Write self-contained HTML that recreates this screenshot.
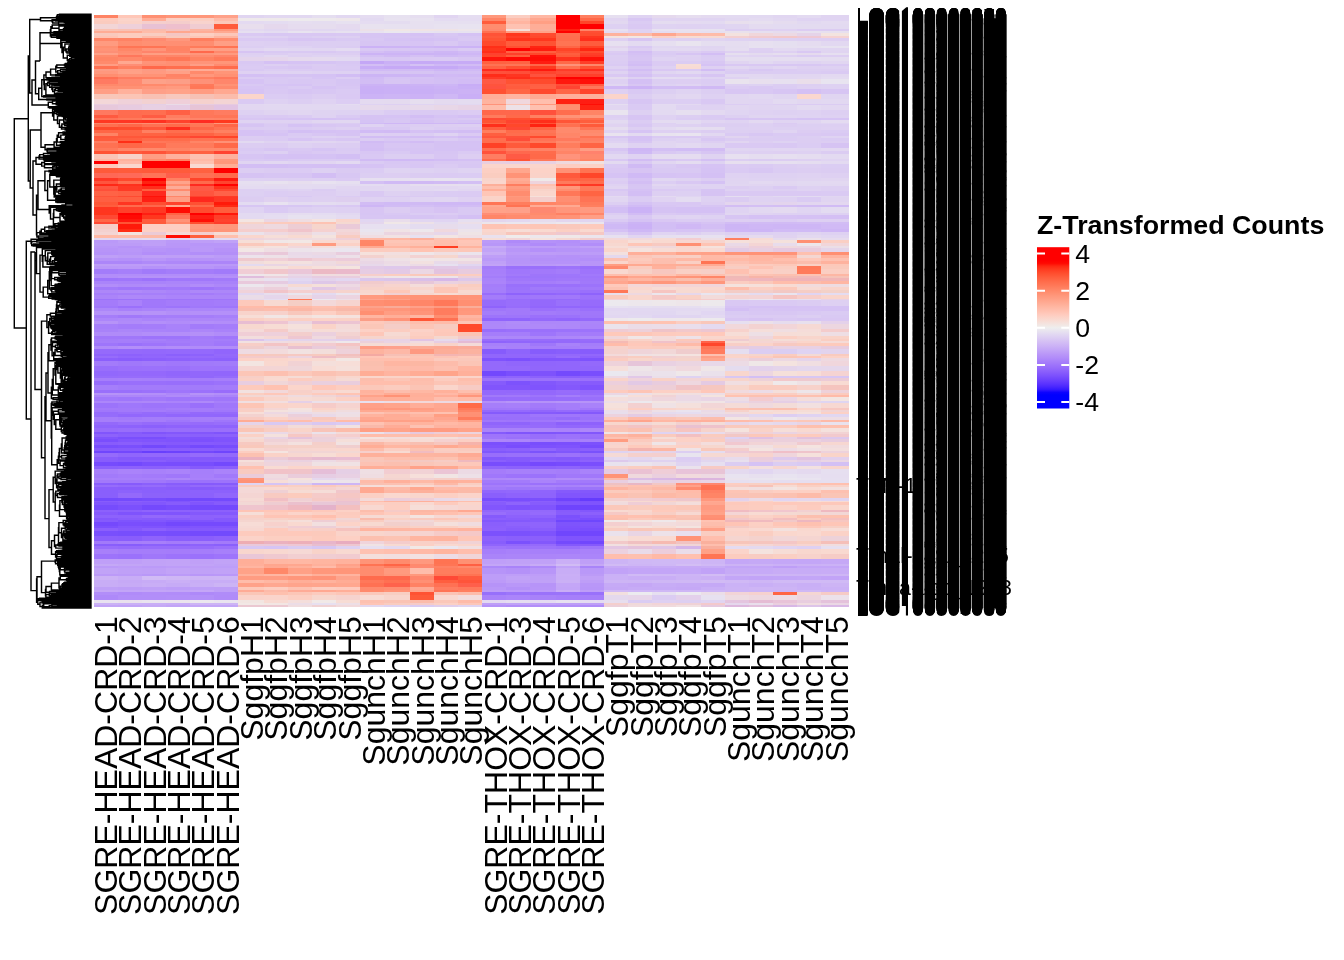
<!DOCTYPE html>
<html><head><meta charset="utf-8"><title>Heatmap</title>
<style>
html,body{margin:0;padding:0;background:#fff}
body{width:1344px;height:960px;position:relative;overflow:hidden;font-family:"Liberation Sans",sans-serif;color:#000}
#hm{position:absolute;left:94.15px;top:14.50px;width:754.85px;height:592.70px}
#hm i{position:absolute;top:0;height:100%;display:block}
svg{position:absolute;left:0;top:0}
.t{filter:grayscale(1)}
text{font-family:"Liberation Sans",sans-serif}
</style></head><body>
<div id="hm"><i style="left:0.00px;width:24.30px;background:linear-gradient(#ff8364 0 3.1px,#fdccbf 0 5.6px,#facbbf 0 9.0px,#f2d5d6 0 14.2px,#fac2b3 0 16.0px,#ffac95 0 18.2px,#f9c9bd 0 21.0px,#ffc3b3 0 23.2px,#ff8668 0 26.3px,#ff9b80 0 30.9px,#ff8f71 0 32.7px,#ff9377 0 35.5px,#fd8f76 0 38.2px,#ffa087 0 40.0px,#ff8a6c 0 42.2px,#ff8566 0 45.6px,#ff8a6c 0 49.0px,#ff9d84 0 51.2px,#ff7253 0 53.9px,#fd9d86 0 56.1px,#ff987e 0 58.9px,#ff8e70 0 62.3px,#ff6f53 0 64.1px,#ff7a62 0 68.7px,#ff896b 0 70.9px,#ff9174 0 73.6px,#ff9f86 0 78.8px,#f8c7b9 0 84.0px,#f3d7d8 0 88.6px,#e9cedf 0 90.4px,#e7c8db 0 95.0px,#ff7960 0 99.6px,#ff5a40 0 103.0px,#ff7459 0 104.8px,#ff3822 0 107.5px,#ff8367 0 109.3px,#ff6f4f 0 112.1px,#ff492b 0 114.6px,#ff6646 0 117.5px,#ff8364 0 120.9px,#ff593c 0 123.4px,#ff5c3d 0 126.2px,#ff7e63 0 128.4px,#ff7152 0 133.0px,#ff7a5c 0 135.9px,#ff5234 0 138.7px,#fac4b6 0 143.9px,#ffb9a6 0 146.4px,#f00 0 148.6px,#ffcabc 0 153.2px,#ff5a3a 0 157.8px,#ff6856 0 163.0px,#ff3624 0 165.7px,#ff543e 0 168.8px,#ff2817 0 171.0px,#ff5540 0 173.8px,#ff4f39 0 176.0px,#ff6346 0 180.6px,#ff5439 0 182.4px,#ff5f42 0 187.0px,#ff5737 0 189.7px,#ff5d3d 0 192.3px,#ff351f 0 197.5px,#ff361c 0 200.3px,#ff4833 0 203.7px,#ff6747 0 206.8px,#ff4833 0 209.4px,#f6cdc7 0 214.0px,#f4d1cf 0 216.6px,#f4d5d4 0 219.7px,#ffbaa7 0 222.6px,#e1d6f1 0 225.3px,#ba99f8 0 227.8px,#bb9bf7 0 230.5px,#b997f8 0 232.7px,#b794f8 0 237.3px,#b592f9 0 240.2px,#be9ff7 0 243.0px,#b693f8 0 245.6px,#ac86f9 0 248.7px,#be9df7 0 251.3px,#b997f8 0 254.2px,#a37cfa 0 258.8px,#b28df9 0 261.0px,#b28df9 0 263.2px,#9d74fb 0 266.0px,#aa84fa 0 269.4px,#b28df9 0 271.9px,#a27afa 0 275.0px,#ad87f9 0 277.5px,#a67efa 0 280.1px,#ab84f9 0 283.5px,#9c73fb 0 285.3px,#a47bfa 0 290.5px,#a077fb 0 292.7px,#ac87f9 0 295.5px,#b592f9 0 300.1px,#a57dfa 0 303.2px,#ac86fa 0 306.3px,#b693f8 0 309.4px,#a67ffa 0 314.0px,#a882f9 0 316.6px,#b08bf9 0 321.2px,#a177fa 0 323.8px,#a47cfa 0 326.0px,#a57dfa 0 328.2px,#9e75fb 0 331.1px,#af8af9 0 333.7px,#956afb 0 338.9px,#8f63fc 0 341.1px,#966cfb 0 342.9px,#8b5ffc 0 345.8px,#a37bfa 0 351.0px,#986efb 0 355.6px,#9268fc 0 360.8px,#966cfb 0 363.4px,#a57efa 0 366.3px,#966cfb 0 369.7px,#a57efa 0 374.9px,#996ffb 0 378.0px,#b693f8 0 379.8px,#ab84fa 0 382.4px,#a178fb 0 385.5px,#ac86fa 0 388.0px,#9c73fb 0 392.6px,#a37afa 0 394.8px,#a077fb 0 397.4px,#956bfb 0 399.2px,#956cfb 0 401.9px,#a57dfa 0 404.8px,#a67efa 0 407.3px,#9469fb 0 410.0px,#8f64fc 0 413.4px,#976cfb 0 416.8px,#8155fc 0 419.4px,#8d62fb 0 421.6px,#8054fd 0 424.1px,#7a4efd 0 426.7px,#885cfc 0 430.1px,#784dfd 0 432.9px,#865afc 0 435.8px,#7046fd 0 438.3px,#956bfb 0 441.7px,#895dfc 0 444.5px,#885dfc 0 447.4px,#764bfd 0 450.8px,#8b60fc 0 453.9px,#a77ffa 0 459.1px,#a27afa 0 462.5px,#a880fa 0 465.2px,#a279fa 0 467.7px,#895efc 0 469.9px,#966cfb 0 472.4px,#8a5efc 0 474.9px,#895ffc 0 477.6px,#895ffc 0 482.8px,#734afd 0 485.5px,#875cfc 0 487.3px,#8055fd 0 489.9px,#764cfd 0 494.5px,#8c61fc 0 497.0px,#8659fc 0 499.9px,#8d62fc 0 502.8px,#8457fc 0 504.6px,#855bfc 0 507.1px,#7549fd 0 510.5px,#7b4ffd 0 513.3px,#8b5ffc 0 516.4px,#794ffd 0 521.0px,#8a5efc 0 525.6px,#a27afa 0 528.7px,#895efc 0 531.2px,#986dfb 0 534.0px,#a880fa 0 538.6px,#9d73fb 0 543.8px,#bf9ff8 0 549.0px,#c4a8f6 0 550.8px,#bb9af8 0 553.4px,#c1a3f7 0 558.6px,#bc9af8 0 561.4px,#ccb2f5 0 564.8px,#c8adf6 0 568.2px,#c8adf6 0 571.6px,#bfa0f7 0 575.0px,#c4a7f6 0 577.2px,#b28ef9 0 579.8px,#ae89f9 0 585.0px,#e8e2f0 0 588.4px,#cbb2f5 0 590.2px,#c3a5f7 0 592.7px)"></i><i style="left:24.00px;width:24.30px;background:linear-gradient(#ffc7b8 0 3.1px,#fbd4ca 0 5.6px,#fad2c8 0 9.0px,#eed0da 0 14.2px,#f8c1b4 0 16.0px,#ffab94 0 18.2px,#fcccbf 0 21.0px,#fcccbf 0 23.2px,#ff8264 0 26.3px,#ff8d6f 0 30.9px,#ff7555 0 32.7px,#ff8768 0 35.5px,#ff8d70 0 38.2px,#ff9174 0 40.0px,#ff775c 0 42.2px,#ff896b 0 45.6px,#ffa890 0 49.0px,#ff8e75 0 51.2px,#ff8061 0 53.9px,#ffa087 0 56.1px,#ffa187 0 58.9px,#ff9377 0 62.3px,#ff7c60 0 64.1px,#ff8a70 0 68.7px,#ff8a6d 0 70.9px,#ff9174 0 73.6px,#ffb19c 0 78.8px,#fbc5b6 0 84.0px,#efd1d9 0 88.6px,#ebccdb 0 90.4px,#e7cbe0 0 95.0px,#ff6c50 0 99.6px,#ff6b4e 0 103.0px,#ff7a5c 0 104.8px,#ff3624 0 107.5px,#ff8a6e 0 109.3px,#ff6849 0 112.1px,#ff4c2e 0 114.6px,#ff6646 0 117.5px,#ff6444 0 120.9px,#ff5739 0 123.4px,#ff6142 0 126.2px,#ff2f17 0 128.4px,#ff6848 0 133.0px,#ff8669 0 135.9px,#ff593c 0 138.7px,#f7d2c9 0 143.9px,#ffb29d 0 146.4px,#ffb9a7 0 148.6px,#fad7ce 0 153.2px,#ff5b3b 0 157.8px,#ff6a59 0 163.0px,#ff482d 0 165.7px,#ff6e4f 0 168.8px,#ff311d 0 171.0px,#ff3924 0 173.8px,#ff3a25 0 176.0px,#ff6043 0 180.6px,#ff4a31 0 182.4px,#ff6042 0 187.0px,#ff3521 0 189.7px,#ff6b4d 0 192.3px,#ff412b 0 197.5px,#f00 0 200.3px,#ff0a04 0 203.7px,#ff170d 0 206.8px,#ff5435 0 209.4px,#ff1a0a 0 214.0px,#ff2c15 0 216.6px,#f3e2de 0 219.7px,#ffbaa8 0 222.6px,#e2d7f1 0 225.3px,#be9ff7 0 227.8px,#bc9cf7 0 230.5px,#b693f8 0 232.7px,#b997f8 0 237.3px,#b795f8 0 240.2px,#bc9cf7 0 243.0px,#b491f9 0 245.6px,#ac86f9 0 248.7px,#bd9cf8 0 251.3px,#ba98f8 0 254.2px,#a67ffa 0 258.8px,#b18df9 0 261.0px,#b490f9 0 263.2px,#9f76fb 0 266.0px,#aa83fa 0 269.4px,#af8af9 0 271.9px,#9f76fb 0 275.0px,#af8af9 0 277.5px,#a67efa 0 280.1px,#ae88f9 0 283.5px,#9c72fb 0 285.3px,#a981fa 0 290.5px,#9b70fb 0 292.7px,#a880fa 0 295.5px,#b592f8 0 300.1px,#a178fa 0 303.2px,#ae89f9 0 306.3px,#b08bf9 0 309.4px,#a47cfa 0 314.0px,#ab86f9 0 316.6px,#b08bf9 0 321.2px,#a077fa 0 323.8px,#a67efa 0 326.0px,#a57dfa 0 328.2px,#9a71fb 0 331.1px,#b38ef9 0 333.7px,#9469fb 0 338.9px,#8d61fc 0 341.1px,#9166fc 0 342.9px,#895dfc 0 345.8px,#a078fa 0 351.0px,#9b70fb 0 355.6px,#9469fb 0 360.8px,#976cfb 0 363.4px,#a67ffa 0 366.3px,#996ffb 0 369.7px,#a27bfa 0 374.9px,#996ffb 0 378.0px,#b591f8 0 379.8px,#ad86f9 0 382.4px,#9f76fb 0 385.5px,#ac86f9 0 388.0px,#9f77fb 0 392.6px,#a279fa 0 394.8px,#a279fa 0 397.4px,#996ffb 0 399.2px,#9267fc 0 401.9px,#a27afa 0 404.8px,#a67dfa 0 407.3px,#986efb 0 410.0px,#8d62fc 0 413.4px,#986efb 0 416.8px,#855afc 0 419.4px,#895efc 0 421.6px,#7a4ffd 0 424.1px,#8155fd 0 426.7px,#8a5efc 0 430.1px,#7a4ffd 0 432.9px,#865afc 0 435.8px,#7348fd 0 438.3px,#9066fc 0 441.7px,#8459fc 0 444.5px,#875cfc 0 447.4px,#7349fd 0 450.8px,#8d61fc 0 453.9px,#aa83fa 0 459.1px,#a57cfa 0 462.5px,#a780fa 0 465.2px,#a279fa 0 467.7px,#875bfc 0 469.9px,#9369fb 0 472.4px,#895dfc 0 474.9px,#8c62fc 0 477.6px,#9469fb 0 482.8px,#744bfd 0 485.5px,#8a5efc 0 487.3px,#8458fc 0 489.9px,#7b50fd 0 494.5px,#8b60fc 0 497.0px,#7f53fd 0 499.9px,#8d61fc 0 502.8px,#895dfc 0 504.6px,#7e54fd 0 507.1px,#7a4efd 0 510.5px,#8155fd 0 513.3px,#8559fc 0 516.4px,#774efd 0 521.0px,#895dfc 0 525.6px,#a67efa 0 528.7px,#875dfc 0 531.2px,#966bfb 0 534.0px,#a57dfa 0 538.6px,#9b71fb 0 543.8px,#bf9ff7 0 549.0px,#c2a5f6 0 550.8px,#bd9cf8 0 553.4px,#bfa0f7 0 558.6px,#bc9bf8 0 561.4px,#c8adf6 0 564.8px,#c6a9f6 0 568.2px,#c7abf6 0 571.6px,#be9ef7 0 575.0px,#c2a5f7 0 577.2px,#b08bf9 0 579.8px,#b28ef9 0 585.0px,#e9e1ed 0 588.4px,#cab0f6 0 590.2px,#c2a4f7 0 592.7px)"></i><i style="left:48.00px;width:24.30px;background:linear-gradient(#ff9073 0 3.1px,#ffad97 0 5.6px,#f5cecc 0 9.0px,#e8c1d4 0 14.2px,#fabcac 0 16.0px,#ffbca9 0 18.2px,#f9cdc1 0 21.0px,#fdbcaa 0 23.2px,#ff8b71 0 26.3px,#ff9073 0 30.9px,#ff7454 0 32.7px,#ff9479 0 35.5px,#ff846b 0 38.2px,#ff9e83 0 40.0px,#ff8366 0 42.2px,#ff7e5e 0 45.6px,#ff9378 0 49.0px,#ff8f73 0 51.2px,#ff684a 0 53.9px,#fc9b84 0 56.1px,#ff9a81 0 58.9px,#ff9376 0 62.3px,#ff8062 0 64.1px,#fda189 0 68.7px,#ff8a6c 0 70.9px,#ff967b 0 73.6px,#fe9f88 0 78.8px,#f8c1b4 0 84.0px,#f2d1d1 0 88.6px,#e5cfe5 0 90.4px,#e8d0e3 0 95.0px,#ff6e50 0 99.6px,#ff5c43 0 103.0px,#ff8568 0 104.8px,#ff3120 0 107.5px,#ff8d72 0 109.3px,#ff7152 0 112.1px,#ff563a 0 114.6px,#ff8062 0 117.5px,#ff6342 0 120.9px,#ff5437 0 123.4px,#ff6a4a 0 126.2px,#ff7759 0 128.4px,#ff6a4c 0 133.0px,#ff8a6c 0 135.9px,#ff5338 0 138.7px,#ff9d83 0 143.9px,#ff8c6e 0 146.4px,#f00 0 148.6px,#f00 0 153.2px,#ff593a 0 157.8px,#ff7358 0 163.0px,#f00 0 165.7px,#f21 0 168.8px,#f00 0 171.0px,#ff2e1c 0 173.8px,#ff5f40 0 176.0px,#ff291e 0 180.6px,#ff1209 0 182.4px,#ff1f14 0 187.0px,#ff4e31 0 189.7px,#ff664b 0 192.3px,#ff3823 0 197.5px,#ff1e13 0 200.3px,#ff371e 0 203.7px,#ff5c3e 0 206.8px,#ff5b3b 0 209.4px,#fdd0c4 0 214.0px,#fcd1c6 0 216.6px,#eccbd6 0 219.7px,#fdbaa8 0 222.6px,#e3daf1 0 225.3px,#be9ff7 0 227.8px,#bf9ff7 0 230.5px,#b997f8 0 232.7px,#b693f8 0 237.3px,#b38ef9 0 240.2px,#bf9ff7 0 243.0px,#b896f8 0 245.6px,#af8af9 0 248.7px,#be9df8 0 251.3px,#b592f9 0 254.2px,#a17afa 0 258.8px,#b28df9 0 261.0px,#b592f8 0 263.2px,#9c72fb 0 266.0px,#a983fa 0 269.4px,#b08bf9 0 271.9px,#a177fa 0 275.0px,#ac87f9 0 277.5px,#a67ffa 0 280.1px,#ad87f9 0 283.5px,#9e74fb 0 285.3px,#a178fa 0 290.5px,#a077fb 0 292.7px,#aa83fa 0 295.5px,#b693f8 0 300.1px,#a47cfa 0 303.2px,#ab84fa 0 306.3px,#b38ff9 0 309.4px,#a57dfa 0 314.0px,#a983fa 0 316.6px,#b28ef9 0 321.2px,#9d73fb 0 323.8px,#a67ffa 0 326.0px,#a37bfa 0 328.2px,#9e74fb 0 331.1px,#b08bf9 0 333.7px,#9368fc 0 338.9px,#9064fc 0 341.1px,#9166fc 0 342.9px,#8b5ffc 0 345.8px,#a27afa 0 351.0px,#9b71fb 0 355.6px,#9468fc 0 360.8px,#976cfb 0 363.4px,#a57efa 0 366.3px,#996ffb 0 369.7px,#a37bfa 0 374.9px,#9b71fb 0 378.0px,#b38ff9 0 379.8px,#ac85fa 0 382.4px,#a279fa 0 385.5px,#ad87f9 0 388.0px,#9d74fb 0 392.6px,#a178fb 0 394.8px,#a47bfa 0 397.4px,#956bfb 0 399.2px,#9369fc 0 401.9px,#a47dfa 0 404.8px,#a57cfa 0 407.3px,#956afb 0 410.0px,#8b60fc 0 413.4px,#976cfb 0 416.8px,#8054fc 0 419.4px,#8a5ffc 0 421.6px,#794efd 0 424.1px,#8054fd 0 426.7px,#875bfc 0 430.1px,#7349fd 0 432.9px,#895efc 0 435.8px,#683ffd 0 438.3px,#9368fc 0 441.7px,#8458fc 0 444.5px,#895efc 0 447.4px,#794efd 0 450.8px,#8b5ffc 0 453.9px,#a881fa 0 459.1px,#a37afa 0 462.5px,#a880fa 0 465.2px,#a077fa 0 467.7px,#8b60fc 0 469.9px,#956bfb 0 472.4px,#8a5ffc 0 474.9px,#8a60fc 0 477.6px,#8c62fb 0 482.8px,#774dfd 0 485.5px,#875cfc 0 487.3px,#8257fd 0 489.9px,#7449fd 0 494.5px,#8f64fc 0 497.0px,#8054fd 0 499.9px,#9368fb 0 502.8px,#865bfc 0 504.6px,#8157fd 0 507.1px,#794dfd 0 510.5px,#7f53fd 0 513.3px,#8b60fc 0 516.4px,#784efd 0 521.0px,#8f63fc 0 525.6px,#a77ffa 0 528.7px,#8b61fc 0 531.2px,#976cfb 0 534.0px,#a57dfa 0 538.6px,#a077fa 0 543.8px,#c1a2f7 0 549.0px,#c1a3f7 0 550.8px,#bb9af8 0 553.4px,#bf9ff7 0 558.6px,#b998f8 0 561.4px,#d1bbf5 0 564.8px,#c7abf6 0 568.2px,#c9aef6 0 571.6px,#bfa0f7 0 575.0px,#c3a5f7 0 577.2px,#b28df9 0 579.8px,#b28ef9 0 585.0px,#e9e4ef 0 588.4px,#c9aef6 0 590.2px,#c5a9f6 0 592.7px)"></i><i style="left:72.00px;width:24.30px;background:linear-gradient(#ff957a 0 3.1px,#fbd0c5 0 5.6px,#f4cdcb 0 9.0px,#eebfcd 0 14.2px,#f4c1bf 0 16.0px,#ffa78f 0 18.2px,#f5c6c3 0 21.0px,#f9c9bc 0 23.2px,#ff977d 0 26.3px,#ff8f73 0 30.9px,#ff8364 0 32.7px,#ff8364 0 35.5px,#ff8468 0 38.2px,#ff9c81 0 40.0px,#ff8669 0 42.2px,#ff7757 0 45.6px,#ff8f73 0 49.0px,#ff8f73 0 51.2px,#ff6e4e 0 53.9px,#faa792 0 56.1px,#ffa087 0 58.9px,#ff8366 0 62.3px,#ff8668 0 64.1px,#fc9e87 0 68.7px,#ff8e73 0 70.9px,#ff9a7f 0 73.6px,#ffa289 0 78.8px,#f7c8be 0 84.0px,#efcfd9 0 88.6px,#eadbe7 0 90.4px,#e6cce3 0 95.0px,#ff6045 0 99.6px,#ff7d61 0 103.0px,#ff876b 0 104.8px,#ff432d 0 107.5px,#ff8266 0 109.3px,#ff6c4b 0 112.1px,#ff2e1e 0 114.6px,#ff6e4e 0 117.5px,#ff6242 0 120.9px,#ff4f31 0 123.4px,#ff6c4b 0 126.2px,#ff7556 0 128.4px,#ff7a5b 0 133.0px,#ff8364 0 135.9px,#ff6242 0 138.7px,#feb19d 0 143.9px,#ff8263 0 146.4px,#f00 0 148.6px,#f00 0 153.2px,#ff5b3b 0 157.8px,#ff5e4a 0 163.0px,#ff8162 0 165.7px,#ffa38b 0 168.8px,#ff8d70 0 171.0px,#fdab98 0 173.8px,#ff8b6e 0 176.0px,#faaf9c 0 180.6px,#ff8669 0 182.4px,#ff9e85 0 187.0px,#ff412c 0 189.7px,#ffa790 0 192.3px,#ff0c03 0 197.5px,#ff6445 0 200.3px,#ff755a 0 203.7px,#ff9378 0 206.8px,#ff8769 0 209.4px,#fdcfc3 0 214.0px,#fecec1 0 216.6px,#f5d8d6 0 219.7px,#ff0c03 0 222.6px,#dfd1f2 0 225.3px,#ba99f8 0 227.8px,#b997f8 0 230.5px,#b996f8 0 232.7px,#b491f9 0 237.3px,#b491f9 0 240.2px,#be9ef7 0 243.0px,#b490f9 0 245.6px,#ae88f9 0 248.7px,#bb9af8 0 251.3px,#b895f8 0 254.2px,#a47dfa 0 258.8px,#b18df9 0 261.0px,#b591f9 0 263.2px,#a077fb 0 266.0px,#ab85fa 0 269.4px,#ae88f9 0 271.9px,#a279fb 0 275.0px,#aa83fa 0 277.5px,#a67efa 0 280.1px,#ab84fa 0 283.5px,#9e74fa 0 285.3px,#a47bfa 0 290.5px,#9d74fb 0 292.7px,#ad88f9 0 295.5px,#b38ff8 0 300.1px,#a57dfa 0 303.2px,#ad87f9 0 306.3px,#b18cf9 0 309.4px,#a982fa 0 314.0px,#a882fa 0 316.6px,#b38ef9 0 321.2px,#9d74fb 0 323.8px,#a37afa 0 326.0px,#a47cfa 0 328.2px,#a178fa 0 331.1px,#b28df9 0 333.7px,#9469fc 0 338.9px,#8b60fc 0 341.1px,#9368fc 0 342.9px,#8d61fc 0 345.8px,#a077fb 0 351.0px,#9a70fb 0 355.6px,#9166fc 0 360.8px,#9469fb 0 363.4px,#a57dfa 0 366.3px,#986efb 0 369.7px,#a27bfa 0 374.9px,#9f75fb 0 378.0px,#ad87f9 0 379.8px,#b08bf9 0 382.4px,#9f76fb 0 385.5px,#aa83fa 0 388.0px,#9e75fb 0 392.6px,#a47cfa 0 394.8px,#a178fa 0 397.4px,#996ffb 0 399.2px,#9166fc 0 401.9px,#a47cfa 0 404.8px,#9f77fb 0 407.3px,#976cfb 0 410.0px,#8e62fc 0 413.4px,#986efb 0 416.8px,#8357fc 0 419.4px,#8c61fc 0 421.6px,#7f54fd 0 424.1px,#7f53fd 0 426.7px,#8559fc 0 430.1px,#7a4ffd 0 432.9px,#895dfc 0 435.8px,#6c42fd 0 438.3px,#9267fc 0 441.7px,#865afc 0 444.5px,#8459fc 0 447.4px,#784dfd 0 450.8px,#8d61fc 0 453.9px,#aa83fa 0 459.1px,#a077fa 0 462.5px,#ac87f9 0 465.2px,#9c73fb 0 467.7px,#885dfc 0 469.9px,#8f65fb 0 472.4px,#895dfc 0 474.9px,#8b61fc 0 477.6px,#8c61fc 0 482.8px,#734afd 0 485.5px,#8156fc 0 487.3px,#875cfc 0 489.9px,#774cfd 0 494.5px,#8d62fc 0 497.0px,#8054fd 0 499.9px,#9166fb 0 502.8px,#895dfc 0 504.6px,#7d53fd 0 507.1px,#7348fd 0 510.5px,#7e52fd 0 513.3px,#865afc 0 516.4px,#764dfd 0 521.0px,#8a5efc 0 525.6px,#a47bfa 0 528.7px,#8b60fc 0 531.2px,#976cfb 0 534.0px,#a57cfa 0 538.6px,#9d73fb 0 543.8px,#c2a3f7 0 549.0px,#c2a4f7 0 550.8px,#bd9cf8 0 553.4px,#c2a3f7 0 558.6px,#bc9bf8 0 561.4px,#cfb7f5 0 564.8px,#caaff6 0 568.2px,#c6abf6 0 571.6px,#bd9df8 0 575.0px,#c2a4f7 0 577.2px,#b18cf9 0 579.8px,#b38ff9 0 585.0px,#ebe4ed 0 588.4px,#c8acf6 0 590.2px,#c2a4f7 0 592.7px)"></i><i style="left:96.00px;width:24.30px;background:linear-gradient(#ff977b 0 3.1px,#fbcfc3 0 5.6px,#f8d3cd 0 9.0px,#f0ccd1 0 14.2px,#fbb4a1 0 16.0px,#ffac96 0 18.2px,#fccfc2 0 21.0px,#fdc6b6 0 23.2px,#ff7e5f 0 26.3px,#ff8d70 0 30.9px,#ff7b5b 0 32.7px,#ff9e83 0 35.5px,#ff694c 0 38.2px,#ff967b 0 40.0px,#ff8c70 0 42.2px,#ff8363 0 45.6px,#ff9479 0 49.0px,#ff9e86 0 51.2px,#ff7352 0 53.9px,#ffac96 0 56.1px,#ff8a6c 0 58.9px,#ff977c 0 62.3px,#ff8061 0 64.1px,#fe9178 0 68.7px,#ff795a 0 70.9px,#ff7757 0 73.6px,#ff9c82 0 78.8px,#f6c1b5 0 84.0px,#f5d1cd 0 88.6px,#e8ccdf 0 90.4px,#e7c4d6 0 95.0px,#ff785a 0 99.6px,#ff765a 0 103.0px,#ff8469 0 104.8px,#ff2c22 0 107.5px,#ff7c5e 0 109.3px,#ff7756 0 112.1px,#ff6749 0 114.6px,#ff7858 0 117.5px,#ff6343 0 120.9px,#ff4631 0 123.4px,#ff7252 0 126.2px,#ff8566 0 128.4px,#ff7a5b 0 133.0px,#ff896b 0 135.9px,#ff6142 0 138.7px,#fdc1b1 0 143.9px,#ffb9a6 0 146.4px,#fec0af 0 148.6px,#f9d9d1 0 153.2px,#ff6140 0 157.8px,#ff7054 0 163.0px,#ff4429 0 165.7px,#ff6a4c 0 168.8px,#ff2a20 0 171.0px,#ff5945 0 173.8px,#ff5945 0 176.0px,#ff553e 0 180.6px,#ff422d 0 182.4px,#ff281d 0 187.0px,#ff5133 0 189.7px,#ff6949 0 192.3px,#ff4c30 0 197.5px,#f00 0 200.3px,#ff1e13 0 203.7px,#ff1108 0 206.8px,#ff5031 0 209.4px,#ff9b80 0 214.0px,#ff977b 0 216.6px,#f4cecf 0 219.7px,#ff5f3e 0 222.6px,#e1d6f1 0 225.3px,#be9ef7 0 227.8px,#b896f8 0 230.5px,#b998f8 0 232.7px,#ba98f8 0 237.3px,#b28ef9 0 240.2px,#be9ff7 0 243.0px,#b693f8 0 245.6px,#ac84fa 0 248.7px,#ba98f8 0 251.3px,#b795f8 0 254.2px,#a47cfa 0 258.8px,#b28ef9 0 261.0px,#b28ef9 0 263.2px,#a077fa 0 266.0px,#aa83fa 0 269.4px,#b18cf9 0 271.9px,#9e74fb 0 275.0px,#ad88f9 0 277.5px,#a47bfa 0 280.1px,#ac85f9 0 283.5px,#9e74fb 0 285.3px,#a37afa 0 290.5px,#a078fa 0 292.7px,#ab85fa 0 295.5px,#b490f9 0 300.1px,#a57dfa 0 303.2px,#ad86f9 0 306.3px,#b38ff9 0 309.4px,#a37bfa 0 314.0px,#ac86f9 0 316.6px,#b490f8 0 321.2px,#a37bfa 0 323.8px,#a57dfa 0 326.0px,#a47cfa 0 328.2px,#a47cfa 0 331.1px,#b08bf9 0 333.7px,#9469fc 0 338.9px,#8d62fc 0 341.1px,#9469fb 0 342.9px,#8e63fc 0 345.8px,#a17afa 0 351.0px,#9e74fb 0 355.6px,#9267fb 0 360.8px,#9167fb 0 363.4px,#a47cfa 0 366.3px,#996ffb 0 369.7px,#a27bfa 0 374.9px,#9b71fb 0 378.0px,#b592f8 0 379.8px,#ad88f9 0 382.4px,#a077fa 0 385.5px,#ae89f9 0 388.0px,#9a70fb 0 392.6px,#a47cfa 0 394.8px,#a47bfa 0 397.4px,#9469fb 0 399.2px,#9167fc 0 401.9px,#a67efa 0 404.8px,#a47cfa 0 407.3px,#966bfb 0 410.0px,#8f64fc 0 413.4px,#986efb 0 416.8px,#8357fc 0 419.4px,#8a60fc 0 421.6px,#7e52fd 0 424.1px,#7c50fd 0 426.7px,#865afd 0 430.1px,#744afd 0 432.9px,#885dfc 0 435.8px,#7449fd 0 438.3px,#956bfb 0 441.7px,#8458fc 0 444.5px,#865bfc 0 447.4px,#784efd 0 450.8px,#865afc 0 453.9px,#a67ffa 0 459.1px,#a77ffa 0 462.5px,#a981fa 0 465.2px,#9b72fb 0 467.7px,#865afc 0 469.9px,#9369fb 0 472.4px,#865bfc 0 474.9px,#8c62fc 0 477.6px,#8c61fc 0 482.8px,#7249fd 0 485.5px,#875bfc 0 487.3px,#8155fd 0 489.9px,#7349fd 0 494.5px,#8c61fc 0 497.0px,#8458fc 0 499.9px,#8d61fc 0 502.8px,#8c60fc 0 504.6px,#7f55fc 0 507.1px,#754afd 0 510.5px,#8054fd 0 513.3px,#8459fc 0 516.4px,#744afd 0 521.0px,#8a5efc 0 525.6px,#a67efa 0 528.7px,#8d62fc 0 531.2px,#966bfb 0 534.0px,#a57dfa 0 538.6px,#9b71fb 0 543.8px,#c0a0f7 0 549.0px,#c1a3f7 0 550.8px,#be9df7 0 553.4px,#c0a1f7 0 558.6px,#b997f8 0 561.4px,#cdb4f5 0 564.8px,#c8adf6 0 568.2px,#c9aff6 0 571.6px,#be9ff8 0 575.0px,#c4a6f7 0 577.2px,#ae89f9 0 579.8px,#b390f9 0 585.0px,#ebe7ee 0 588.4px,#cdb4f5 0 590.2px,#c4a6f7 0 592.7px)"></i><i style="left:120.00px;width:24.30px;background:linear-gradient(#ffa189 0 3.1px,#ffbba9 0 5.6px,#fcc7b9 0 9.0px,#ff5b3b 0 14.2px,#ff967a 0 16.0px,#ffa991 0 18.2px,#fcc7b9 0 21.0px,#feb5a1 0 23.2px,#ff8d70 0 26.3px,#ff9e84 0 30.9px,#ff7353 0 32.7px,#ff9e84 0 35.5px,#ff886c 0 38.2px,#ff9a7f 0 40.0px,#ff8469 0 42.2px,#ff7a5b 0 45.6px,#ff9679 0 49.0px,#ff8b70 0 51.2px,#ff6b4b 0 53.9px,#fca993 0 56.1px,#ff9578 0 58.9px,#ff9073 0 62.3px,#ff785c 0 64.1px,#ff866b 0 68.7px,#ff9275 0 70.9px,#ff8a6d 0 73.6px,#ffa891 0 78.8px,#fbbcac 0 84.0px,#f3d4d4 0 88.6px,#e7cadf 0 90.4px,#e2c3e2 0 95.0px,#ff7c61 0 99.6px,#ff7557 0 103.0px,#ff8366 0 104.8px,#ff391e 0 107.5px,#ff967c 0 109.3px,#ff6647 0 112.1px,#ff7253 0 114.6px,#ff8161 0 117.5px,#ff6e4d 0 120.9px,#ff4428 0 123.4px,#ff6e4d 0 126.2px,#ff9176 0 128.4px,#ff6949 0 133.0px,#ff896b 0 135.9px,#ff4431 0 138.7px,#feb19d 0 143.9px,#ff987d 0 146.4px,#ff967a 0 148.6px,#ffad96 0 153.2px,#f00 0 157.8px,#ff6a4c 0 163.0px,#ff180e 0 165.7px,#ff442e 0 168.8px,#ff0201 0 171.0px,#ff331e 0 173.8px,#ff4830 0 176.0px,#ff6249 0 180.6px,#ff3a26 0 182.4px,#ff3623 0 187.0px,#ff1a0a 0 189.7px,#ff2913 0 192.3px,#ff5e3d 0 197.5px,#ff170a 0 200.3px,#ff3e28 0 203.7px,#ff432e 0 206.8px,#ff3c29 0 209.4px,#ff987c 0 214.0px,#ff9579 0 216.6px,#f6dcd5 0 219.7px,#ffbfad 0 222.6px,#e3daf1 0 225.3px,#c0a2f7 0 227.8px,#b896f8 0 230.5px,#b997f8 0 232.7px,#b692f8 0 237.3px,#b38ff8 0 240.2px,#bb9bf8 0 243.0px,#b896f8 0 245.6px,#ac85f9 0 248.7px,#ba98f8 0 251.3px,#b490f9 0 254.2px,#a17afa 0 258.8px,#b18cf9 0 261.0px,#b490f9 0 263.2px,#a27afa 0 266.0px,#a882fa 0 269.4px,#ad87f9 0 271.9px,#a27afa 0 275.0px,#ac87f9 0 277.5px,#a77ffa 0 280.1px,#ab85f9 0 283.5px,#9f75fb 0 285.3px,#a47cfa 0 290.5px,#9f76fb 0 292.7px,#ac87f9 0 295.5px,#b490f9 0 300.1px,#a780fa 0 303.2px,#ac86f9 0 306.3px,#b28df9 0 309.4px,#a57dfa 0 314.0px,#a982fa 0 316.6px,#b18cf9 0 321.2px,#a076fb 0 323.8px,#a47dfa 0 326.0px,#a179fa 0 328.2px,#a077fb 0 331.1px,#b18cf9 0 333.7px,#9165fc 0 338.9px,#9469fb 0 341.1px,#9267fc 0 342.9px,#8c61fc 0 345.8px,#a27bfa 0 351.0px,#9d74fb 0 355.6px,#9166fc 0 360.8px,#956cfb 0 363.4px,#a67efa 0 366.3px,#9b72fb 0 369.7px,#a47cfa 0 374.9px,#986cfb 0 378.0px,#b28ef9 0 379.8px,#aa84fa 0 382.4px,#9f76fa 0 385.5px,#a780fa 0 388.0px,#a077fa 0 392.6px,#a37afa 0 394.8px,#a077fb 0 397.4px,#956bfb 0 399.2px,#9166fc 0 401.9px,#a77ffa 0 404.8px,#9f76fb 0 407.3px,#986efb 0 410.0px,#8e63fc 0 413.4px,#9a6ffb 0 416.8px,#7f54fc 0 419.4px,#8c61fc 0 421.6px,#8054fd 0 424.1px,#7f53fd 0 426.7px,#8559fc 0 430.1px,#784dfd 0 432.9px,#855afc 0 435.8px,#6f45fd 0 438.3px,#9369fc 0 441.7px,#8459fc 0 444.5px,#875cfc 0 447.4px,#7349fd 0 450.8px,#8b5ffc 0 453.9px,#aa83fa 0 459.1px,#a279fa 0 462.5px,#a982fa 0 465.2px,#9d73fb 0 467.7px,#865bfc 0 469.9px,#946afb 0 472.4px,#885dfc 0 474.9px,#8c61fc 0 477.6px,#9166fc 0 482.8px,#734afd 0 485.5px,#8458fc 0 487.3px,#865bfc 0 489.9px,#7348fd 0 494.5px,#8c60fc 0 497.0px,#8458fd 0 499.9px,#8e62fc 0 502.8px,#8559fd 0 504.6px,#8359fc 0 507.1px,#754afd 0 510.5px,#8054fd 0 513.3px,#865afc 0 516.4px,#724afd 0 521.0px,#8d61fc 0 525.6px,#a37afa 0 528.7px,#8a60fc 0 531.2px,#9b70fb 0 534.0px,#a780fa 0 538.6px,#9e74fb 0 543.8px,#c1a3f7 0 549.0px,#bfa1f7 0 550.8px,#bd9ef8 0 553.4px,#c1a2f7 0 558.6px,#ba98f8 0 561.4px,#cdb5f5 0 564.8px,#c8adf6 0 568.2px,#ccb4f5 0 571.6px,#be9ef7 0 575.0px,#be9ff7 0 577.2px,#b08cf9 0 579.8px,#b08bf9 0 585.0px,#e9e4ef 0 588.4px,#cdb4f5 0 590.2px,#c3a6f7 0 592.7px)"></i><i style="left:144.00px;width:26.10px;background:linear-gradient(#e0d5f1 0 3.1px,#eee9eb 0 5.6px,#e4daf1 0 9.0px,#e8deed 0 14.2px,#e3d9f1 0 16.0px,#e6dff0 0 18.2px,#dac9f3 0 21.0px,#ded1f2 0 23.2px,#dac9f3 0 26.3px,#ded0f2 0 30.9px,#dccef2 0 32.7px,#e1d5f2 0 35.5px,#d7c4f3 0 38.2px,#ded0f2 0 40.0px,#dfd2f2 0 42.2px,#e4d4ec 0 45.6px,#d9c8f3 0 49.0px,#dacaf3 0 51.2px,#dbcbf3 0 53.9px,#d9c9f3 0 56.1px,#dfd1f2 0 58.9px,#d4c0f4 0 62.3px,#dbcbf3 0 64.1px,#d6c3f4 0 68.7px,#d9c9f3 0 70.9px,#d7c5f4 0 73.6px,#d6c3f4 0 78.8px,#fbd5cb 0 84.0px,#dacaf3 0 88.6px,#e2d8f1 0 90.4px,#e2d7f1 0 95.0px,#ded1f2 0 99.6px,#dacaf3 0 103.0px,#d8c6f3 0 104.8px,#dfd3f2 0 107.5px,#d9c8f3 0 109.3px,#d6c4f3 0 112.1px,#dbccf2 0 114.6px,#d6c2f4 0 117.5px,#d6c2f4 0 120.9px,#dccdf2 0 123.4px,#dcccf2 0 126.2px,#e2d9f1 0 128.4px,#dccdf2 0 133.0px,#d9c9f3 0 135.9px,#dbccf3 0 138.7px,#d7c5f3 0 143.9px,#d9c9f3 0 146.4px,#e0d4f1 0 148.6px,#d3bef4 0 153.2px,#dccdf2 0 157.8px,#d6c3f3 0 163.0px,#ded1f2 0 165.7px,#e6dff0 0 168.8px,#e5ddf0 0 171.0px,#e4dbf1 0 173.8px,#ddcff2 0 176.0px,#ddd0f2 0 180.6px,#dccef3 0 182.4px,#dccdf1 0 187.0px,#e3dbf1 0 189.7px,#d7c6f3 0 192.3px,#dfd3f2 0 197.5px,#e3daf1 0 200.3px,#e3daf1 0 203.7px,#f3e5e2 0 206.8px,#f7d4c9 0 209.4px,#efd5da 0 214.0px,#f5cecd 0 216.6px,#eae2eb 0 219.7px,#fad6cd 0 222.6px,#eed4dd 0 225.3px,#f6ded7 0 227.8px,#fac9bc 0 230.5px,#f6ddd6 0 232.7px,#f2e7e5 0 237.3px,#e8cce0 0 240.2px,#ece3eb 0 243.0px,#efc9cd 0 245.6px,#f1dcdc 0 248.7px,#e4daef 0 251.3px,#f6dfd9 0 254.2px,#f0cdd5 0 258.8px,#eee6ea 0 261.0px,#e0bddd 0 263.2px,#ece0e8 0 266.0px,#e9c9dc 0 269.4px,#ece7ed 0 271.9px,#ebd8e3 0 275.0px,#f0d2d9 0 277.5px,#e2d6ef 0 280.1px,#eadce7 0 283.5px,#e7d8e9 0 285.3px,#fdc9bb 0 290.5px,#ffbba9 0 292.7px,#f8bcaf 0 295.5px,#f8d3cb 0 300.1px,#f7ddd6 0 303.2px,#fad0c4 0 306.3px,#e8bdd2 0 309.4px,#f7d8cf 0 314.0px,#f4dad9 0 316.6px,#f0ced6 0 321.2px,#f2dddd 0 323.8px,#dcc3eb 0 326.0px,#f1e1e1 0 328.2px,#f7cec7 0 331.1px,#f0cccb 0 333.7px,#eedbe2 0 338.9px,#f9c8bb 0 341.1px,#f4caca 0 342.9px,#fcd2c7 0 345.8px,#f3e5e1 0 351.0px,#f5d5d2 0 355.6px,#fcc6b7 0 360.8px,#f7cfc7 0 363.4px,#fad0c5 0 366.3px,#e8cde0 0 369.7px,#fdcabc 0 374.9px,#f2e1e0 0 378.0px,#fbcec1 0 379.8px,#f2d7d3 0 382.4px,#fccabd 0 385.5px,#f0dfe1 0 388.0px,#fdc5b5 0 392.6px,#f7cec7 0 394.8px,#f9cfc4 0 397.4px,#f7ded8 0 399.2px,#f3d2cf 0 401.9px,#f8cac1 0 404.8px,#ffac95 0 407.3px,#e6d4e9 0 410.0px,#f4d1cb 0 413.4px,#fac5b6 0 416.8px,#f0dee1 0 419.4px,#fad1c6 0 421.6px,#f3dcd8 0 424.1px,#f7d8d0 0 426.7px,#f7c9c1 0 430.1px,#f9c8bb 0 432.9px,#f8dbd3 0 435.8px,#fccec2 0 438.3px,#fcc1b1 0 441.7px,#eab2c0 0 444.5px,#f5dfdb 0 447.4px,#f4d5d2 0 450.8px,#ffc0af 0 453.9px,#f8cac0 0 459.1px,#eacbd9 0 462.5px,#ff967a 0 465.2px,#ff9174 0 467.7px,#e0d4f1 0 469.9px,#faccbf 0 472.4px,#f4d9d5 0 474.9px,#f4d8d7 0 477.6px,#f4d5d3 0 482.8px,#f5dad5 0 485.5px,#f4d4d2 0 487.3px,#f2d8d5 0 489.9px,#efc5ce 0 494.5px,#fec4b5 0 497.0px,#f6ded7 0 499.9px,#facfc3 0 502.8px,#f6d2ca 0 504.6px,#f5d5cf 0 507.1px,#f7dcd6 0 510.5px,#f6d9d4 0 513.3px,#f7d7d1 0 516.4px,#fdcbbe 0 521.0px,#fbd3c9 0 525.6px,#eeadb3 0 528.7px,#e9c9db 0 531.2px,#d8c7f3 0 534.0px,#f8d6cd 0 538.6px,#e9c7d7 0 543.8px,#ffae98 0 549.0px,#ffaf9a 0 550.8px,#ffb5a1 0 553.4px,#ffa288 0 558.6px,#ffb19b 0 561.4px,#ff9c82 0 564.8px,#ffbcaa 0 568.2px,#ffa189 0 571.6px,#fdc8b9 0 575.0px,#feab96 0 577.2px,#fac6b7 0 579.8px,#fad3ca 0 585.0px,#f2e5e1 0 588.4px,#f2e8e5 0 590.2px,#ebc8d1 0 592.7px)"></i><i style="left:169.80px;width:24.30px;background:linear-gradient(#e2d8f1 0 3.1px,#eee9ea 0 5.6px,#e4dcf1 0 9.0px,#e5d8ed 0 14.2px,#e1d6f1 0 16.0px,#e4dcf1 0 18.2px,#d8c7f3 0 21.0px,#ded0f2 0 23.2px,#dac9f3 0 26.3px,#ddcff2 0 30.9px,#ded1f2 0 32.7px,#e3d9f1 0 35.5px,#d9c9f3 0 38.2px,#dccdf2 0 40.0px,#e2d7f1 0 42.2px,#e5d5eb 0 45.6px,#d5c1f4 0 49.0px,#ddcff2 0 51.2px,#d9c8f3 0 53.9px,#dccdf3 0 56.1px,#dfd2f2 0 58.9px,#d6c2f4 0 62.3px,#d9c8f3 0 64.1px,#d9c9f3 0 68.7px,#d6c4f4 0 70.9px,#d8c7f3 0 73.6px,#d9c8f3 0 78.8px,#dbccf3 0 84.0px,#ded1f2 0 88.6px,#e3d9f1 0 90.4px,#e2d8f1 0 95.0px,#e0d4f1 0 99.6px,#dac9f3 0 103.0px,#d7c4f3 0 104.8px,#dfd2f2 0 107.5px,#dccdf2 0 109.3px,#dacaf3 0 112.1px,#dbccf3 0 114.6px,#d8c6f3 0 117.5px,#d6c3f4 0 120.9px,#dbcbf3 0 123.4px,#dbcbf3 0 126.2px,#dfd3f1 0 128.4px,#dcccf2 0 133.0px,#d7c5f3 0 135.9px,#ddd0f2 0 138.7px,#d5c2f4 0 143.9px,#d8c7f3 0 146.4px,#e2d7f1 0 148.6px,#d3bef4 0 153.2px,#dbcbf2 0 157.8px,#d7c5f3 0 163.0px,#ded0f2 0 165.7px,#e8e2ef 0 168.8px,#e5dbef 0 171.0px,#e3daf1 0 173.8px,#ded1f2 0 176.0px,#dccdf3 0 180.6px,#dbccf3 0 182.4px,#e0d1f0 0 187.0px,#e8e2f0 0 189.7px,#d8c6f3 0 192.3px,#dacaf3 0 197.5px,#e4dbf1 0 200.3px,#e5ddf1 0 203.7px,#ebd6e3 0 206.8px,#fccbbd 0 209.4px,#eed9df 0 214.0px,#f5cdcd 0 216.6px,#edd9e2 0 219.7px,#f6ded8 0 222.6px,#efd7dd 0 225.3px,#f0e7e7 0 227.8px,#fccdc1 0 230.5px,#f4e2de 0 232.7px,#efdee3 0 237.3px,#e9c8d9 0 240.2px,#ede1e7 0 243.0px,#f0cfd7 0 245.6px,#f5e0da 0 248.7px,#ead5e3 0 251.3px,#f4e2dd 0 254.2px,#f1c6cb 0 258.8px,#f0e5e7 0 261.0px,#ebd1dd 0 263.2px,#e8e1ef 0 266.0px,#e6cbe1 0 269.4px,#eddfe7 0 271.9px,#eccfdb 0 275.0px,#f1c4c9 0 277.5px,#e7deed 0 280.1px,#e5d6eb 0 283.5px,#e5ddf0 0 285.3px,#f7d9d1 0 290.5px,#ffb7a3 0 292.7px,#fcbdad 0 295.5px,#f7d1cb 0 300.1px,#f1e6e5 0 303.2px,#f9d4ca 0 306.3px,#eec4d1 0 309.4px,#f7dcd4 0 314.0px,#f5cbc9 0 316.6px,#eed0db 0 321.2px,#f5d7d5 0 323.8px,#dfd4f2 0 326.0px,#f0dce0 0 328.2px,#f3c4c5 0 331.1px,#edd4dc 0 333.7px,#f2dbdc 0 338.9px,#f6c9bf 0 341.1px,#f2cacd 0 342.9px,#fad6cc 0 345.8px,#f9d8cf 0 351.0px,#f3d5d5 0 355.6px,#fdc0b0 0 360.8px,#f8d9d0 0 363.4px,#f9dad1 0 366.3px,#f0d6d8 0 369.7px,#ffc2b1 0 374.9px,#f2d8da 0 378.0px,#fec7b9 0 379.8px,#f4d8d6 0 382.4px,#f9d5cb 0 385.5px,#f2dedf 0 388.0px,#fbd3c8 0 392.6px,#f4d6d5 0 394.8px,#f4e2dd 0 397.4px,#edd8e2 0 399.2px,#f3dbdb 0 401.9px,#fbd2c7 0 404.8px,#fdc3b3 0 407.3px,#d9c9f2 0 410.0px,#f3d0d0 0 413.4px,#f9cdc2 0 416.8px,#ead9e7 0 419.4px,#f4e1dd 0 421.6px,#e9d3e3 0 424.1px,#efd1d6 0 426.7px,#f3d8d9 0 430.1px,#f4d0c7 0 432.9px,#f6d1ce 0 435.8px,#f4e4e0 0 438.3px,#fad2c7 0 441.7px,#ebcbd6 0 444.5px,#ebd5e2 0 447.4px,#efd4dc 0 450.8px,#f8dbd3 0 453.9px,#f1c2c8 0 459.1px,#efdbe0 0 462.5px,#eed7e0 0 465.2px,#f7ddd7 0 467.7px,#d6c4f4 0 469.9px,#fbccc0 0 472.4px,#f9d9d1 0 474.9px,#efd0d4 0 477.6px,#f8cac1 0 482.8px,#f1bfc5 0 485.5px,#f6cdcb 0 487.3px,#eeccd1 0 489.9px,#f0c1c9 0 494.5px,#ffc6b7 0 497.0px,#fdccbf 0 499.9px,#fec4b5 0 502.8px,#f7d2c8 0 504.6px,#f5d9d2 0 507.1px,#f7d1cc 0 510.5px,#f3d5d2 0 513.3px,#fecabc 0 516.4px,#fccabd 0 521.0px,#fccfc2 0 525.6px,#ebb1bf 0 528.7px,#ebc9d8 0 531.2px,#d6c4f4 0 534.0px,#f8d8d0 0 538.6px,#efc9d0 0 543.8px,#ffb7a3 0 549.0px,#ffa68e 0 550.8px,#ffa891 0 553.4px,#ff8869 0 558.6px,#ffb6a2 0 561.4px,#ff9c83 0 564.8px,#ffb7a3 0 568.2px,#ffa790 0 571.6px,#fdcdc0 0 575.0px,#fcbaa9 0 577.2px,#fec0ae 0 579.8px,#fad4cb 0 585.0px,#f8dad2 0 588.4px,#f2e6e3 0 590.2px,#ecc9d1 0 592.7px)"></i><i style="left:193.80px;width:24.30px;background:linear-gradient(#e2d8f1 0 3.1px,#edeaed 0 5.6px,#e6def0 0 9.0px,#e6dcef 0 14.2px,#e3d7ef 0 16.0px,#e8e3f0 0 18.2px,#d9c7f3 0 21.0px,#dacbf3 0 23.2px,#d7c4f3 0 26.3px,#dccdf2 0 30.9px,#ded2f2 0 32.7px,#e1d7f1 0 35.5px,#d9c9f3 0 38.2px,#dfd1f2 0 40.0px,#ded0f2 0 42.2px,#e5d9ed 0 45.6px,#d6c3f4 0 49.0px,#dacaf2 0 51.2px,#d8c6f3 0 53.9px,#dbcbf3 0 56.1px,#dfd3f2 0 58.9px,#d5c3f3 0 62.3px,#dacaf3 0 64.1px,#d8c7f3 0 68.7px,#d6c3f4 0 70.9px,#dacaf3 0 73.6px,#d7c5f3 0 78.8px,#dacaf3 0 84.0px,#dccef2 0 88.6px,#e2d8f1 0 90.4px,#e2d8f1 0 95.0px,#e1d6f1 0 99.6px,#dbcbf3 0 103.0px,#d6c3f4 0 104.8px,#dfd2f2 0 107.5px,#dbccf2 0 109.3px,#d5c2f4 0 112.1px,#dacaf3 0 114.6px,#d3bff4 0 117.5px,#dacaf3 0 120.9px,#dbccf3 0 123.4px,#d7c4f4 0 126.2px,#e1d6f1 0 128.4px,#ded1f2 0 133.0px,#d9c8f3 0 135.9px,#d8c6f3 0 138.7px,#d5c1f4 0 143.9px,#dacaf3 0 146.4px,#e0d4f2 0 148.6px,#d4c0f4 0 153.2px,#dbcbf3 0 157.8px,#d7c5f3 0 163.0px,#ddcff2 0 165.7px,#e7deee 0 168.8px,#e4dbf0 0 171.0px,#e4dbf1 0 173.8px,#dfd3f2 0 176.0px,#ddcef2 0 180.6px,#d9c9f3 0 182.4px,#ddcff2 0 187.0px,#e4dbf1 0 189.7px,#d7c6f3 0 192.3px,#ddcff2 0 197.5px,#e5ddf0 0 200.3px,#e7e2f0 0 203.7px,#efdde1 0 206.8px,#fdcabc 0 209.4px,#edcdd4 0 214.0px,#f0c4cb 0 216.6px,#f0d6d9 0 219.7px,#f8dad1 0 222.6px,#efdbe1 0 225.3px,#f2e8e5 0 227.8px,#fad6cd 0 230.5px,#f1d7db 0 232.7px,#ece3ea 0 237.3px,#e9d9e8 0 240.2px,#eadbe8 0 243.0px,#edc6d1 0 245.6px,#f3e1df 0 248.7px,#ecdce5 0 251.3px,#f8dad3 0 254.2px,#eac6d8 0 258.8px,#ead8e6 0 261.0px,#e6d2e7 0 263.2px,#e2d8f1 0 266.0px,#ded2f0 0 269.4px,#f6dad3 0 271.9px,#eddfe7 0 275.0px,#f4cfd0 0 277.5px,#e9e5ef 0 280.1px,#efd8df 0 283.5px,#ff7959 0 285.3px,#f5cec5 0 290.5px,#ffbaa7 0 292.7px,#fbb6a5 0 295.5px,#f8c7bc 0 300.1px,#f6dfd9 0 303.2px,#fbcfc3 0 306.3px,#ecd5e0 0 309.4px,#f5e1dc 0 314.0px,#f1dddd 0 316.6px,#f3cecc 0 321.2px,#eec7d1 0 323.8px,#e4d4eb 0 326.0px,#f0dbdd 0 328.2px,#f8d2ca 0 331.1px,#e8c0d0 0 333.7px,#f1e2e1 0 338.9px,#f6c9c2 0 341.1px,#ecd3df 0 342.9px,#fad8cf 0 345.8px,#f1d2d4 0 351.0px,#efd6d9 0 355.6px,#fcc8ba 0 360.8px,#f5dcd6 0 363.4px,#fcccbf 0 366.3px,#f0cfd4 0 369.7px,#fbd5cb 0 374.9px,#f7d0c9 0 378.0px,#fad1c6 0 379.8px,#efdbdf 0 382.4px,#f7dbd4 0 385.5px,#e5d0e7 0 388.0px,#fad5cc 0 392.6px,#f4e3df 0 394.8px,#f1e2e2 0 397.4px,#e9dcea 0 399.2px,#ebcfdb 0 401.9px,#f2d0d3 0 404.8px,#ffbdac 0 407.3px,#dfccec 0 410.0px,#f3dcd8 0 413.4px,#f9d4c9 0 416.8px,#f2d5d6 0 419.4px,#f6c7c3 0 421.6px,#e5c3db 0 424.1px,#f2d5d9 0 426.7px,#f3e1df 0 430.1px,#f6d0c7 0 432.9px,#f6d6d0 0 435.8px,#f1d5d5 0 438.3px,#f7d7d0 0 441.7px,#ebbfce 0 444.5px,#ead1e0 0 447.4px,#f1d5da 0 450.8px,#fbd5cb 0 453.9px,#f0c3c9 0 459.1px,#eaccdb 0 462.5px,#f5e2dd 0 465.2px,#f0e1e3 0 467.7px,#dbccf2 0 469.9px,#facfc3 0 472.4px,#f8d6cc 0 474.9px,#f6dbd4 0 477.6px,#fccbbd 0 482.8px,#efd0d4 0 485.5px,#f2d5d7 0 487.3px,#ebc0cd 0 489.9px,#efb8c0 0 494.5px,#ffc4b4 0 497.0px,#fbd4ca 0 499.9px,#fdc5b6 0 502.8px,#f8cec3 0 504.6px,#f5dfda 0 507.1px,#f9d9d0 0 510.5px,#f1cdd3 0 513.3px,#f7d1cc 0 516.4px,#fec9bb 0 521.0px,#fccfc3 0 525.6px,#edafb9 0 528.7px,#eec7d3 0 531.2px,#dacbf1 0 534.0px,#f6d9d5 0 538.6px,#f2cfd1 0 543.8px,#ffb8a4 0 549.0px,#ffa78f 0 550.8px,#ffb09a 0 553.4px,#ffa086 0 558.6px,#ffbaa7 0 561.4px,#ff967b 0 564.8px,#ffae98 0 568.2px,#ffa48c 0 571.6px,#fdc2b2 0 575.0px,#feab97 0 577.2px,#fcc6b7 0 579.8px,#fccfc3 0 585.0px,#f4dedb 0 588.4px,#ecdde6 0 590.2px,#f0dddf 0 592.7px)"></i><i style="left:217.80px;width:24.30px;background:linear-gradient(#e5def0 0 3.1px,#ede9ec 0 5.6px,#e5ddf0 0 9.0px,#e6ddee 0 14.2px,#e1d7f1 0 16.0px,#e6dff0 0 18.2px,#d9c7f3 0 21.0px,#dccef2 0 23.2px,#d7c5f3 0 26.3px,#dccef2 0 30.9px,#dccef2 0 32.7px,#e1d6f1 0 35.5px,#d9c8f3 0 38.2px,#ddcff2 0 40.0px,#dfd3f2 0 42.2px,#e5daee 0 45.6px,#d6c4f4 0 49.0px,#dbccf2 0 51.2px,#dbcaf3 0 53.9px,#dacaf3 0 56.1px,#ded1f2 0 58.9px,#d5c2f4 0 62.3px,#d6c4f4 0 64.1px,#d9c8f3 0 68.7px,#d9c9f3 0 70.9px,#d6c3f4 0 73.6px,#d8c7f3 0 78.8px,#dccdf2 0 84.0px,#dfd2f2 0 88.6px,#e2d7f1 0 90.4px,#e2d8f1 0 95.0px,#dfd3f1 0 99.6px,#dfd2f2 0 103.0px,#d5c1f4 0 104.8px,#e1d6f1 0 107.5px,#dccdf2 0 109.3px,#d8c6f3 0 112.1px,#dbccf2 0 114.6px,#d5c1f4 0 117.5px,#d8c6f3 0 120.9px,#ded1f2 0 123.4px,#dac9f3 0 126.2px,#e1d6f1 0 128.4px,#ddcef2 0 133.0px,#d6c4f4 0 135.9px,#dac9f3 0 138.7px,#d5c2f4 0 143.9px,#dacaf3 0 146.4px,#e1d5f1 0 148.6px,#d4bff4 0 153.2px,#ddd0f2 0 157.8px,#d3bef4 0 163.0px,#ddcff2 0 165.7px,#e8e2f0 0 168.8px,#e4dbf0 0 171.0px,#e3daf1 0 173.8px,#dbccf2 0 176.0px,#ddcef2 0 180.6px,#decff2 0 182.4px,#ded0f1 0 187.0px,#e4dcf0 0 189.7px,#dacaf3 0 192.3px,#ded1f2 0 197.5px,#e4dcf1 0 200.3px,#e6dff0 0 203.7px,#f3e4e1 0 206.8px,#fdc3b3 0 209.4px,#f6d5cc 0 214.0px,#f5d1d0 0 216.6px,#eddfe6 0 219.7px,#f4e3de 0 222.6px,#f0dbde 0 225.3px,#f9d9d0 0 227.8px,#ff9b7f 0 230.5px,#f5ded9 0 232.7px,#ede5eb 0 237.3px,#ebd9e5 0 240.2px,#e8d9e9 0 243.0px,#f0cfd6 0 245.6px,#eedbe1 0 248.7px,#eedae1 0 251.3px,#f6e0db 0 254.2px,#ecb9c4 0 258.8px,#f0dcdf 0 261.0px,#e7cce1 0 263.2px,#e4d3eb 0 266.0px,#dec7e8 0 269.4px,#f4e0da 0 271.9px,#e1c7e5 0 275.0px,#f4d1d1 0 277.5px,#e3daf0 0 280.1px,#e6d3e8 0 283.5px,#ebe8ef 0 285.3px,#f3d8d9 0 290.5px,#ffc0af 0 292.7px,#fbbeae 0 295.5px,#fdd0c4 0 300.1px,#f3e5e1 0 303.2px,#fcd2c7 0 306.3px,#e8bed3 0 309.4px,#fad3c8 0 314.0px,#f6dcd6 0 316.6px,#ebd0de 0 321.2px,#efd9de 0 323.8px,#e4d1ea 0 326.0px,#f0e0e2 0 328.2px,#f2cbd0 0 331.1px,#e9cbdb 0 333.7px,#f2dedb 0 338.9px,#f7cabf 0 341.1px,#eebdc5 0 342.9px,#f8dad2 0 345.8px,#f4dfdb 0 351.0px,#f8dcd5 0 355.6px,#fbc2b3 0 360.8px,#f9d0c5 0 363.4px,#f8d1c6 0 366.3px,#eacfde 0 369.7px,#ffc7b9 0 374.9px,#f6d5d1 0 378.0px,#fecabc 0 379.8px,#f0d5d6 0 382.4px,#f6d9d2 0 385.5px,#ebe1ea 0 388.0px,#f6cbc8 0 392.6px,#fbd3c8 0 394.8px,#f6d9d1 0 397.4px,#eedde3 0 399.2px,#e9d9e8 0 401.9px,#f8c8bd 0 404.8px,#fdcabd 0 407.3px,#d9c7f1 0 410.0px,#f0d5d7 0 413.4px,#f8c4b9 0 416.8px,#ebe2ea 0 419.4px,#f3d2d4 0 421.6px,#ecd0da 0 424.1px,#ecd1db 0 426.7px,#f5cfca 0 430.1px,#f5d1c9 0 432.9px,#f8d6d0 0 435.8px,#f1d5d5 0 438.3px,#f7ddd5 0 441.7px,#e6bacf 0 444.5px,#ecdae4 0 447.4px,#efe2e4 0 450.8px,#fad7ce 0 453.9px,#e5bed8 0 459.1px,#e6cde3 0 462.5px,#e5d8ee 0 465.2px,#efe6e8 0 467.7px,#cdb6f5 0 469.9px,#fbc9bc 0 472.4px,#f6d1cd 0 474.9px,#f5ddd8 0 477.6px,#f5cbc9 0 482.8px,#f5c9c5 0 485.5px,#f0ced5 0 487.3px,#e8c7d7 0 489.9px,#e4b2ca 0 494.5px,#fec9bb 0 497.0px,#fcd0c4 0 499.9px,#ffbfae 0 502.8px,#fecbbe 0 504.6px,#eecdd4 0 507.1px,#f2dfdf 0 510.5px,#ecced7 0 513.3px,#f8cfc7 0 516.4px,#fccabc 0 521.0px,#fdcbbd 0 525.6px,#e8b5ca 0 528.7px,#e8bece 0 531.2px,#d6c6f3 0 534.0px,#f8d3c9 0 538.6px,#f0cdd2 0 543.8px,#ffb5a0 0 549.0px,#ffb19c 0 550.8px,#ffbba9 0 553.4px,#ff977b 0 558.6px,#ffaf99 0 561.4px,#ff9277 0 564.8px,#ffb29d 0 568.2px,#ffa58d 0 571.6px,#fdcdc0 0 575.0px,#ffa892 0 577.2px,#fccbbe 0 579.8px,#f7d7ce 0 585.0px,#f1e9e7 0 588.4px,#e7e0f0 0 590.2px,#f0d2d3 0 592.7px)"></i><i style="left:241.80px;width:24.30px;background:linear-gradient(#e2d8f1 0 3.1px,#eee7ea 0 5.6px,#e7e1f0 0 9.0px,#e5daef 0 14.2px,#e3d9f1 0 16.0px,#e7e1f0 0 18.2px,#d9c8f3 0 21.0px,#ddcff2 0 23.2px,#d9c9f3 0 26.3px,#dccef2 0 30.9px,#dbccf2 0 32.7px,#e4dbf1 0 35.5px,#dbccf3 0 38.2px,#ddcef2 0 40.0px,#e0d3f2 0 42.2px,#e2d9f1 0 45.6px,#d8c7f3 0 49.0px,#d9c9f3 0 51.2px,#dacaf3 0 53.9px,#d9c9f3 0 56.1px,#ded1f2 0 58.9px,#d2bdf4 0 62.3px,#dcccf3 0 64.1px,#d6c5f3 0 68.7px,#d7c5f3 0 70.9px,#d8c7f3 0 73.6px,#dacaf3 0 78.8px,#dac9f3 0 84.0px,#dccdf3 0 88.6px,#e4dcf1 0 90.4px,#e2d8f1 0 95.0px,#ded2f2 0 99.6px,#dacaf3 0 103.0px,#d6c3f4 0 104.8px,#e1d7f1 0 107.5px,#dbccf2 0 109.3px,#d9c8f3 0 112.1px,#ddcff2 0 114.6px,#d6c2f4 0 117.5px,#d6c3f3 0 120.9px,#ddcff2 0 123.4px,#d8c6f3 0 126.2px,#e0d3f2 0 128.4px,#dccdf2 0 133.0px,#dacaf3 0 135.9px,#dbcbf3 0 138.7px,#d3bff4 0 143.9px,#d9c9f3 0 146.4px,#e3d9f1 0 148.6px,#d4c0f4 0 153.2px,#dacaf2 0 157.8px,#d8c7f3 0 163.0px,#dbcaf3 0 165.7px,#e6dff0 0 168.8px,#e4dbf1 0 171.0px,#e1d5f1 0 173.8px,#e0d4f2 0 176.0px,#dfd2f2 0 180.6px,#dbcbf3 0 182.4px,#deceef 0 187.0px,#e3daf1 0 189.7px,#d9c8f3 0 192.3px,#ded0f2 0 197.5px,#e2d8f1 0 200.3px,#e4dbf1 0 203.7px,#fad5cb 0 206.8px,#f5d9d1 0 209.4px,#eacad8 0 214.0px,#f2d7d9 0 216.6px,#f4d3d4 0 219.7px,#f8ccc1 0 222.6px,#efcfd8 0 225.3px,#f9d9d1 0 227.8px,#fbd1c6 0 230.5px,#f0e1e3 0 232.7px,#eae6ef 0 237.3px,#e9cdde 0 240.2px,#ece0e8 0 243.0px,#eccbda 0 245.6px,#f2d8d8 0 248.7px,#ebd5e2 0 251.3px,#f4e4df 0 254.2px,#eab9cb 0 258.8px,#f0dcde 0 261.0px,#e9cdde 0 263.2px,#e2d7f1 0 266.0px,#e6cbe1 0 269.4px,#edd9e3 0 271.9px,#ebd1e0 0 275.0px,#f6d3cc 0 277.5px,#eae4ee 0 280.1px,#ecd4e0 0 283.5px,#eddee5 0 285.3px,#f6d4cf 0 290.5px,#ffbaa7 0 292.7px,#f8b8a9 0 295.5px,#fbc5b6 0 300.1px,#f5e2de 0 303.2px,#fad1c6 0 306.3px,#ecc4d2 0 309.4px,#f4dad8 0 314.0px,#f3dcdb 0 316.6px,#f3d3d1 0 321.2px,#efcdd1 0 323.8px,#dfcfef 0 326.0px,#eee8eb 0 328.2px,#f4c4c3 0 331.1px,#efcfd1 0 333.7px,#eed1da 0 338.9px,#f2c0be 0 341.1px,#f2c7c5 0 342.9px,#f2e7e4 0 345.8px,#f7ded8 0 351.0px,#f5e0db 0 355.6px,#fac7b9 0 360.8px,#f8d7ce 0 363.4px,#f5dad4 0 366.3px,#e9cddd 0 369.7px,#fdcdc0 0 374.9px,#f8dad2 0 378.0px,#ffc4b3 0 379.8px,#edced5 0 382.4px,#fcd0c4 0 385.5px,#ece1e9 0 388.0px,#f6d3cf 0 392.6px,#f6d8d1 0 394.8px,#f0dcde 0 397.4px,#eddfe7 0 399.2px,#eedfe4 0 401.9px,#f4d4d3 0 404.8px,#ffbba8 0 407.3px,#dacbf3 0 410.0px,#f1e2e1 0 413.4px,#fcbcaa 0 416.8px,#f3dbd9 0 419.4px,#f5cecd 0 421.6px,#f0d6dc 0 424.1px,#f5dfd9 0 426.7px,#f1e2e2 0 430.1px,#f0cece 0 432.9px,#f9d6cd 0 435.8px,#f2d8d4 0 438.3px,#fad6cd 0 441.7px,#e9bdd2 0 444.5px,#f0d5db 0 447.4px,#f0e2e4 0 450.8px,#f9d9d1 0 453.9px,#e5cfe5 0 459.1px,#e8d0e3 0 462.5px,#e9dbea 0 465.2px,#ece4eb 0 467.7px,#ceb6f5 0 469.9px,#f9cfc4 0 472.4px,#f4d6d4 0 474.9px,#f1c7cb 0 477.6px,#f5c7c4 0 482.8px,#f1c7cb 0 485.5px,#ebc1d1 0 487.3px,#e9c4d2 0 489.9px,#f3bfbf 0 494.5px,#fcd1c6 0 497.0px,#fccbbe 0 499.9px,#fdccbf 0 502.8px,#f1d6d5 0 504.6px,#f5d1ce 0 507.1px,#fcd3c8 0 510.5px,#f3d7d7 0 513.3px,#f5c2be 0 516.4px,#fad3c9 0 521.0px,#fdd0c4 0 525.6px,#e8acbf 0 528.7px,#eec7cf 0 531.2px,#ded1f1 0 534.0px,#f8d9d1 0 538.6px,#f1cbd0 0 543.8px,#ffb29d 0 549.0px,#ffa189 0 550.8px,#ffa78f 0 553.4px,#ff9579 0 558.6px,#ffb39f 0 561.4px,#fea48d 0 564.8px,#ffac95 0 568.2px,#ffa78f 0 571.6px,#fecabd 0 575.0px,#ffae98 0 577.2px,#fdc6b7 0 579.8px,#f6d3ce 0 585.0px,#f7dcd4 0 588.4px,#eddee5 0 590.2px,#f1d9db 0 592.7px)"></i><i style="left:265.80px;width:24.30px;background:linear-gradient(#e5dcf1 0 3.1px,#e3daf1 0 5.6px,#e5dcf1 0 9.0px,#e8e2ef 0 14.2px,#ece0e8 0 16.0px,#e8e2f0 0 18.2px,#d7c5f3 0 21.0px,#d7c5f3 0 23.2px,#d8c7f3 0 26.3px,#d7c5f3 0 30.9px,#ccb2f6 0 32.7px,#d9c8f3 0 35.5px,#d4bff4 0 38.2px,#ccb3f5 0 40.0px,#d4c0f4 0 42.2px,#d9c8f3 0 45.6px,#c4a7f6 0 49.0px,#d3bef4 0 51.2px,#c8adf6 0 53.9px,#d0baf5 0 56.1px,#d7c5f3 0 58.9px,#ccb4f5 0 62.3px,#d1bbf5 0 64.1px,#d2bdf4 0 68.7px,#ccb3f5 0 70.9px,#caaff6 0 73.6px,#c9aff6 0 78.8px,#ccb3f6 0 84.0px,#e4daf0 0 88.6px,#dfd3f2 0 90.4px,#e6d9ec 0 95.0px,#ded1f2 0 99.6px,#d6c3f3 0 103.0px,#d6c3f3 0 104.8px,#d5c3f4 0 107.5px,#d1bcf5 0 109.3px,#dfd3f2 0 112.1px,#d9c7f3 0 114.6px,#d1bbf5 0 117.5px,#ded0f2 0 120.9px,#d2bdf4 0 123.4px,#dbccf2 0 126.2px,#d1bbf4 0 128.4px,#d4bff4 0 133.0px,#d3bef4 0 135.9px,#d8c6f3 0 138.7px,#d9c8f3 0 143.9px,#d1bbf4 0 146.4px,#dacbf3 0 148.6px,#d6c3f4 0 153.2px,#dbccf3 0 157.8px,#dccef2 0 163.0px,#e6dff0 0 165.7px,#d4c0f4 0 168.8px,#e4dcf1 0 171.0px,#e1d6f1 0 173.8px,#e1d7f1 0 176.0px,#dac9f3 0 180.6px,#dac9f3 0 182.4px,#dfd2f2 0 187.0px,#d2bcf4 0 189.7px,#ceb6f5 0 192.3px,#d8c5f3 0 197.5px,#d7c5f3 0 200.3px,#d8c6f3 0 203.7px,#e1d6f1 0 206.8px,#e4d6ed 0 209.4px,#e7e0f0 0 214.0px,#e9e5ef 0 216.6px,#ece3ea 0 219.7px,#f0dde1 0 222.6px,#ffb7a3 0 225.3px,#ff8768 0 227.8px,#ff8667 0 230.5px,#ffaa93 0 232.7px,#fbccc0 0 237.3px,#f5e1dc 0 240.2px,#f3d1ce 0 243.0px,#ecdbe5 0 245.6px,#e9d6e5 0 248.7px,#e7d8ea 0 251.3px,#e2cae7 0 254.2px,#e6cce3 0 258.8px,#f6cecb 0 261.0px,#efdee2 0 263.2px,#dac6ed 0 266.0px,#f1cbcc 0 269.4px,#f4d0ce 0 271.9px,#f7d3ca 0 275.0px,#f7d7ce 0 277.5px,#f7d9d1 0 280.1px,#ff9a7f 0 283.5px,#ffa58f 0 285.3px,#ff8f72 0 290.5px,#fda28b 0 292.7px,#ff977c 0 295.5px,#ff8f72 0 300.1px,#ffb5a1 0 303.2px,#fb9e87 0 306.3px,#fec9bb 0 309.4px,#fbc7b8 0 314.0px,#fcd1c6 0 316.6px,#fdc7b9 0 321.2px,#f6d4cc 0 323.8px,#e4d3ea 0 326.0px,#ecd0da 0 328.2px,#f5dbd4 0 331.1px,#ff9c84 0 333.7px,#fdb39f 0 338.9px,#f4a9a2 0 341.1px,#ffc5b6 0 342.9px,#fec0af 0 345.8px,#fabfae 0 351.0px,#fbc0b0 0 355.6px,#ffad96 0 360.8px,#fad6cc 0 363.4px,#fcbead 0 366.3px,#ffbead 0 369.7px,#fbc8ba 0 374.9px,#ffb39e 0 378.0px,#ffb5a1 0 379.8px,#ffa289 0 382.4px,#ffae99 0 385.5px,#e8e0ee 0 388.0px,#ffa088 0 392.6px,#ff9b82 0 394.8px,#ffa991 0 397.4px,#fdc3b4 0 399.2px,#ffb39e 0 401.9px,#ffa790 0 404.8px,#ffa28a 0 407.3px,#fec2b2 0 410.0px,#f9b9aa 0 413.4px,#ff9f85 0 416.8px,#eae1eb 0 419.4px,#ffbcaa 0 421.6px,#f5e2dd 0 424.1px,#f7d4ce 0 426.7px,#fbb7a5 0 430.1px,#ffad96 0 432.9px,#fdbdab 0 435.8px,#f6cfcb 0 438.3px,#feb09a 0 441.7px,#fbc6b7 0 444.5px,#f8c7bb 0 447.4px,#fcc2b3 0 450.8px,#ffae97 0 453.9px,#efdfe3 0 459.1px,#efdde1 0 462.5px,#f5d6cf 0 465.2px,#febba9 0 467.7px,#fac0b1 0 469.9px,#f5deda 0 472.4px,#ffa992 0 474.9px,#ffa992 0 477.6px,#fbd0c5 0 482.8px,#f3dad9 0 485.5px,#ffbead 0 487.3px,#fdcfc3 0 489.9px,#f8d8d1 0 494.5px,#fcbdac 0 497.0px,#fec4b5 0 499.9px,#f6dad4 0 502.8px,#f9bbac 0 504.6px,#f9cdc1 0 507.1px,#f7d9d0 0 510.5px,#f7cac4 0 513.3px,#ffb49f 0 516.4px,#f8d5cc 0 521.0px,#fcc0af 0 525.6px,#f0d4db 0 528.7px,#f0e3e4 0 531.2px,#e6dff0 0 534.0px,#fec2b2 0 538.6px,#f3dfdc 0 543.8px,#ff9478 0 549.0px,#ff7353 0 550.8px,#ff8c71 0 553.4px,#ff8c6f 0 558.6px,#ff8c70 0 561.4px,#ff6b4d 0 564.8px,#ff785a 0 568.2px,#ff7153 0 571.6px,#ff8a6e 0 575.0px,#ff8a6c 0 577.2px,#fbc8ba 0 579.8px,#f8dbd3 0 585.0px,#fdc1b1 0 588.4px,#fec5b6 0 590.2px,#e3d8f0 0 592.7px)"></i><i style="left:289.80px;width:26.10px;background:linear-gradient(#e7e1f0 0 3.1px,#e8e2f0 0 5.6px,#e4dcf0 0 9.0px,#e7e1f0 0 14.2px,#f0e6e6 0 16.0px,#eae7ef 0 18.2px,#d6c3f4 0 21.0px,#d6c5f3 0 23.2px,#d5c2f4 0 26.3px,#d7c5f3 0 30.9px,#cdb4f5 0 32.7px,#d8c6f3 0 35.5px,#d0baf5 0 38.2px,#cdb4f5 0 40.0px,#d1baf4 0 42.2px,#d8c7f3 0 45.6px,#cab0f6 0 49.0px,#ceb7f5 0 51.2px,#c6a9f6 0 53.9px,#d1bbf4 0 56.1px,#d6c4f3 0 58.9px,#cdb5f5 0 62.3px,#d6c3f4 0 64.1px,#d7c5f3 0 68.7px,#cbb2f5 0 70.9px,#cab0f6 0 73.6px,#cab0f6 0 78.8px,#cdb5f5 0 84.0px,#e4daef 0 88.6px,#ded0f2 0 90.4px,#e5d8ed 0 95.0px,#dbccf3 0 99.6px,#d6c3f4 0 103.0px,#d7c6f3 0 104.8px,#d8c7f3 0 107.5px,#cfb7f5 0 109.3px,#dbcbf3 0 112.1px,#d9c9f3 0 114.6px,#d1baf4 0 117.5px,#ddcef3 0 120.9px,#d3bef4 0 123.4px,#d9c8f3 0 126.2px,#d4c0f4 0 128.4px,#d8c6f3 0 133.0px,#d6c4f3 0 135.9px,#d9c9f3 0 138.7px,#dccef2 0 143.9px,#d0b9f5 0 146.4px,#d8c7f3 0 148.6px,#d9c8f3 0 153.2px,#dfd3f2 0 157.8px,#ddcef2 0 163.0px,#e6dff0 0 165.7px,#d0baf5 0 168.8px,#e3d9f0 0 171.0px,#e2d8f1 0 173.8px,#e2d8f1 0 176.0px,#ded1f2 0 180.6px,#dacaf3 0 182.4px,#ded1f2 0 187.0px,#d0baf5 0 189.7px,#d1bcf4 0 192.3px,#dcccf2 0 197.5px,#d9c8f3 0 200.3px,#d7c5f3 0 203.7px,#e9ddeb 0 206.8px,#f0e7e7 0 209.4px,#e7e0f0 0 214.0px,#f0e3e5 0 216.6px,#ebd5e1 0 219.7px,#f1e2e3 0 222.6px,#ffb7a3 0 225.3px,#fdc6b7 0 227.8px,#fec2b2 0 230.5px,#ffb5a1 0 232.7px,#fbccbf 0 237.3px,#f2dfdf 0 240.2px,#f3ddd9 0 243.0px,#eee1e6 0 245.6px,#ecdbe5 0 248.7px,#ecdee7 0 251.3px,#dec8eb 0 254.2px,#e3c9e5 0 258.8px,#fbcdc0 0 261.0px,#efe5e7 0 263.2px,#dac4ea 0 266.0px,#f0cfd6 0 269.4px,#f7d4ce 0 271.9px,#f9d2c7 0 275.0px,#fdc8b9 0 277.5px,#f2d0d1 0 280.1px,#ff9679 0 283.5px,#ffa088 0 285.3px,#ff8c6e 0 290.5px,#f9ab98 0 292.7px,#ff957a 0 295.5px,#ff9d83 0 300.1px,#ffae98 0 303.2px,#ff9379 0 306.3px,#f7c8be 0 309.4px,#f5cdc7 0 314.0px,#fbcdc1 0 316.6px,#f6dad3 0 321.2px,#f6d6ce 0 323.8px,#e8d2e5 0 326.0px,#e9d4e4 0 328.2px,#f5d9d5 0 331.1px,#fea18d 0 333.7px,#fdb8a7 0 338.9px,#f7c0b5 0 341.1px,#fcc9bb 0 342.9px,#ffbfad 0 345.8px,#feb6a2 0 351.0px,#fdbcaa 0 355.6px,#ffb4a0 0 360.8px,#fad3c8 0 363.4px,#fcc5b6 0 366.3px,#ffbeac 0 369.7px,#fbccbf 0 374.9px,#fcbdad 0 378.0px,#ffab94 0 379.8px,#ff9276 0 382.4px,#ffaf99 0 385.5px,#eedce3 0 388.0px,#ffa48b 0 392.6px,#ff977d 0 394.8px,#ffab93 0 397.4px,#fdbba9 0 399.2px,#ffac96 0 401.9px,#ffad96 0 404.8px,#ffa087 0 407.3px,#feb7a4 0 410.0px,#ffac97 0 413.4px,#ffa38a 0 416.8px,#e9d4e3 0 419.4px,#febead 0 421.6px,#f4dcda 0 424.1px,#fad6cc 0 426.7px,#fbc2b3 0 430.1px,#ffb6a1 0 432.9px,#fbcec2 0 435.8px,#f7dad2 0 438.3px,#ffb29d 0 441.7px,#fdbfae 0 444.5px,#f8c4b9 0 447.4px,#fbbfaf 0 450.8px,#ffb29c 0 453.9px,#f2cdd1 0 459.1px,#f5d6d1 0 462.5px,#f3d4d0 0 465.2px,#ffb09b 0 467.7px,#fcc0b1 0 469.9px,#f9dad2 0 472.4px,#fdbaa8 0 474.9px,#feb6a3 0 477.6px,#fad8cf 0 482.8px,#ebcddb 0 485.5px,#ffb5a1 0 487.3px,#fccec2 0 489.9px,#fdcec2 0 494.5px,#f6cbc7 0 497.0px,#feccbf 0 499.9px,#f7d9d1 0 502.8px,#fad1c5 0 504.6px,#f4d6d5 0 507.1px,#f2cfcb 0 510.5px,#f9cdc1 0 513.3px,#feb6a3 0 516.4px,#f7d3cd 0 521.0px,#fcc3b3 0 525.6px,#f4cccc 0 528.7px,#f7dad2 0 531.2px,#e3d9f0 0 534.0px,#ffbfae 0 538.6px,#f1dedf 0 543.8px,#ff8b6d 0 549.0px,#ff6546 0 550.8px,#ff7e61 0 553.4px,#ff9a7f 0 558.6px,#ff977b 0 561.4px,#ff674d 0 564.8px,#ff7052 0 568.2px,#ff624c 0 571.6px,#ff8d72 0 575.0px,#ff9276 0 577.2px,#f8cec2 0 579.8px,#f8d5cc 0 585.0px,#fac3b4 0 588.4px,#f9ccbf 0 590.2px,#dfd3f2 0 592.7px)"></i><i style="left:315.60px;width:24.30px;background:linear-gradient(#e6def0 0 3.1px,#e8e2f0 0 5.6px,#e7e0f0 0 9.0px,#e7e0f0 0 14.2px,#f0e3e5 0 16.0px,#e8e3f0 0 18.2px,#d5c1f4 0 21.0px,#d7c4f3 0 23.2px,#d4c0f4 0 26.3px,#d7c4f4 0 30.9px,#ceb7f5 0 32.7px,#d7c5f4 0 35.5px,#d1bbf5 0 38.2px,#ccb3f5 0 40.0px,#d4c0f4 0 42.2px,#dac9f3 0 45.6px,#c6aaf6 0 49.0px,#d4c1f4 0 51.2px,#c5a8f6 0 53.9px,#d1bbf5 0 56.1px,#d6c4f3 0 58.9px,#ceb6f5 0 62.3px,#d5c2f4 0 64.1px,#d5c0f4 0 68.7px,#ccb3f5 0 70.9px,#cab0f6 0 73.6px,#c9aff6 0 78.8px,#ccb2f6 0 84.0px,#e6deef 0 88.6px,#e0d4f2 0 90.4px,#e7d9eb 0 95.0px,#dacaf3 0 99.6px,#d3bef4 0 103.0px,#d7c4f4 0 104.8px,#d5c1f4 0 107.5px,#cfb7f5 0 109.3px,#dccdf2 0 112.1px,#ddcff2 0 114.6px,#d5c1f4 0 117.5px,#dbcdf3 0 120.9px,#d2bdf4 0 123.4px,#dacaf3 0 126.2px,#d2bcf4 0 128.4px,#d7c5f3 0 133.0px,#d6c4f3 0 135.9px,#d6c3f4 0 138.7px,#dccdf2 0 143.9px,#d0baf5 0 146.4px,#d9c7f3 0 148.6px,#d8c6f4 0 153.2px,#ded2f2 0 157.8px,#dbccf2 0 163.0px,#e7e0f0 0 165.7px,#d0b9f4 0 168.8px,#e6deef 0 171.0px,#e2d8f1 0 173.8px,#e2d8f1 0 176.0px,#dccef2 0 180.6px,#dacaf3 0 182.4px,#e0d4f2 0 187.0px,#d0baf4 0 189.7px,#d3bff4 0 192.3px,#d9c7f3 0 197.5px,#dbccf3 0 200.3px,#d6c4f3 0 203.7px,#e1d6f1 0 206.8px,#ede1e7 0 209.4px,#e4dcf0 0 214.0px,#ede8ec 0 216.6px,#ecdae3 0 219.7px,#e7e1f0 0 222.6px,#feb09b 0 225.3px,#ffc4b4 0 227.8px,#fdc2b1 0 230.5px,#ffb09a 0 232.7px,#ffc3b2 0 237.3px,#efe6e8 0 240.2px,#f3d2d2 0 243.0px,#f0e6e7 0 245.6px,#f2e1e0 0 248.7px,#ecdbe5 0 251.3px,#e1c5e5 0 254.2px,#ebd7e3 0 258.8px,#fac9bb 0 261.0px,#eee4e8 0 263.2px,#d9bfe9 0 266.0px,#e7c6d8 0 269.4px,#f4dcda 0 271.9px,#f8d5cd 0 275.0px,#f4dbd6 0 277.5px,#f6d7cf 0 280.1px,#ff9376 0 283.5px,#ff927b 0 285.3px,#ff8668 0 290.5px,#ffa089 0 292.7px,#ff8f73 0 295.5px,#ff9479 0 300.1px,#ffb6a2 0 303.2px,#ff5636 0 306.3px,#febead 0 309.4px,#fcc5b6 0 314.0px,#fbd2c8 0 316.6px,#fccfc3 0 321.2px,#fbccbf 0 323.8px,#e1c4e4 0 326.0px,#f0dbe0 0 328.2px,#f7dbd3 0 331.1px,#fdab96 0 333.7px,#fe9981 0 338.9px,#f9c3b4 0 341.1px,#fec5b5 0 342.9px,#ffc2b2 0 345.8px,#fcb7a3 0 351.0px,#febaa9 0 355.6px,#ffac95 0 360.8px,#fad5cb 0 363.4px,#fdbdac 0 366.3px,#fdbfae 0 369.7px,#fbc4b5 0 374.9px,#feb8a4 0 378.0px,#feb09b 0 379.8px,#ffaf99 0 382.4px,#ffb19c 0 385.5px,#f3d7d8 0 388.0px,#ffad98 0 392.6px,#ff9c83 0 394.8px,#ffa289 0 397.4px,#febfae 0 399.2px,#feb5a0 0 401.9px,#ffad97 0 404.8px,#ffa087 0 407.3px,#ffb39e 0 410.0px,#fdc1b2 0 413.4px,#ff9b81 0 416.8px,#e7c9de 0 419.4px,#febead 0 421.6px,#f4dfdb 0 424.1px,#f6dcd6 0 426.7px,#f8bfb2 0 430.1px,#ffb49f 0 432.9px,#fbc2b2 0 435.8px,#f1bcc1 0 438.3px,#fdb5a1 0 441.7px,#febeac 0 444.5px,#f4c9c2 0 447.4px,#fac6b8 0 450.8px,#ffa289 0 453.9px,#f1d2d5 0 459.1px,#f6dfda 0 462.5px,#f0d2d5 0 465.2px,#feb9a6 0 467.7px,#fbcabd 0 469.9px,#f9d9d1 0 472.4px,#ffa78f 0 474.9px,#fdb09b 0 477.6px,#f9d6cd 0 482.8px,#efcfd7 0 485.5px,#ffb09b 0 487.3px,#f9d8d0 0 489.9px,#f6ded8 0 494.5px,#fcb7a4 0 497.0px,#ffbaa7 0 499.9px,#f4e4e0 0 502.8px,#f9cbc0 0 504.6px,#f1d8d8 0 507.1px,#f1d3d3 0 510.5px,#f9d1c6 0 513.3px,#ffb8a5 0 516.4px,#f6d3d0 0 521.0px,#ffb5a1 0 525.6px,#f9d0c7 0 528.7px,#fbd0c5 0 531.2px,#f1e8e6 0 534.0px,#ffb9a6 0 538.6px,#f2e1e1 0 543.8px,#ff997f 0 549.0px,#ff8a6e 0 550.8px,#ff8a72 0 553.4px,#febdab 0 558.6px,#ff997d 0 561.4px,#ff876d 0 564.8px,#ff8f74 0 568.2px,#ff8164 0 571.6px,#fea893 0 575.0px,#ffa28a 0 577.2px,#ff5233 0 579.8px,#ff5a39 0 585.0px,#fbbcab 0 588.4px,#f5cbc8 0 590.2px,#dacbf2 0 592.7px)"></i><i style="left:339.60px;width:24.30px;background:linear-gradient(#e1d5f1 0 3.1px,#e4dbf1 0 5.6px,#e6e0f0 0 9.0px,#e8e2f0 0 14.2px,#efe3e5 0 16.0px,#e7e1f0 0 18.2px,#d8c7f3 0 21.0px,#d7c5f3 0 23.2px,#d5c2f4 0 26.3px,#d9c8f3 0 30.9px,#cdb4f5 0 32.7px,#d7c4f4 0 35.5px,#ceb6f5 0 38.2px,#ccb4f5 0 40.0px,#d0baf5 0 42.2px,#dacaf3 0 45.6px,#c7acf6 0 49.0px,#cfb8f5 0 51.2px,#c5a9f6 0 53.9px,#ceb6f5 0 56.1px,#d3c0f4 0 58.9px,#d1baf5 0 62.3px,#d3bef4 0 64.1px,#d3bff4 0 68.7px,#cdb6f5 0 70.9px,#ccb2f6 0 73.6px,#cab1f5 0 78.8px,#cfb8f5 0 84.0px,#e4daef 0 88.6px,#e1d6f1 0 90.4px,#e8d7e7 0 95.0px,#dacaf3 0 99.6px,#d6c3f4 0 103.0px,#d8c6f3 0 104.8px,#d7c5f3 0 107.5px,#cfb8f5 0 109.3px,#ddcef2 0 112.1px,#dbccf3 0 114.6px,#d3bff4 0 117.5px,#dfd3f2 0 120.9px,#d5c1f4 0 123.4px,#dbccf3 0 126.2px,#d5c1f4 0 128.4px,#d5c2f3 0 133.0px,#d5c2f4 0 135.9px,#d7c5f3 0 138.7px,#d8c6f3 0 143.9px,#d2bdf4 0 146.4px,#d9c8f3 0 148.6px,#dbcbf3 0 153.2px,#ddd0f2 0 157.8px,#dbcbf3 0 163.0px,#e8e3ef 0 165.7px,#d1bbf4 0 168.8px,#e7dfee 0 171.0px,#e2d7f1 0 173.8px,#e3daf1 0 176.0px,#dbccf3 0 180.6px,#dacbf3 0 182.4px,#e1d6f1 0 187.0px,#cfb8f5 0 189.7px,#d1bcf4 0 192.3px,#d7c3f3 0 197.5px,#dcccf3 0 200.3px,#d8c6f3 0 203.7px,#e0d4f2 0 206.8px,#e4dcf0 0 209.4px,#e7dcec 0 214.0px,#f0d8dd 0 216.6px,#e7d7ea 0 219.7px,#f2e5e3 0 222.6px,#fcc2b2 0 225.3px,#ffbfad 0 227.8px,#febeac 0 230.5px,#ff3f23 0 232.7px,#fbcabd 0 237.3px,#f0dfe1 0 240.2px,#f6d6cd 0 243.0px,#f0e4e5 0 245.6px,#e8daea 0 248.7px,#e7e1f0 0 251.3px,#e2c8e5 0 254.2px,#e3c3df 0 258.8px,#facbbe 0 261.0px,#ede4e9 0 263.2px,#d6b7e9 0 266.0px,#ead1e0 0 269.4px,#fbd3c9 0 271.9px,#fcc6b7 0 275.0px,#fdc6b7 0 277.5px,#f7dbd3 0 280.1px,#ff9275 0 283.5px,#ff9077 0 285.3px,#ff7859 0 290.5px,#fd9980 0 292.7px,#ff7c5d 0 295.5px,#ff7c5e 0 300.1px,#ff8d6f 0 303.2px,#ff7153 0 306.3px,#febba9 0 309.4px,#f7cbc0 0 314.0px,#fec9bb 0 316.6px,#fdc8ba 0 321.2px,#f5d7cf 0 323.8px,#e6daed 0 326.0px,#e7cde3 0 328.2px,#f8d3c9 0 331.1px,#fda994 0 333.7px,#fcad98 0 338.9px,#f4b5b2 0 341.1px,#fdc4b5 0 342.9px,#fbcbbe 0 345.8px,#fdbcab 0 351.0px,#fdc0b0 0 355.6px,#ffa48a 0 360.8px,#f8d3cc 0 363.4px,#fcccbf 0 366.3px,#fcc5b6 0 369.7px,#fad5cb 0 374.9px,#ffb19b 0 378.0px,#ffb8a6 0 379.8px,#ffad98 0 382.4px,#febead 0 385.5px,#edd9e1 0 388.0px,#ffa790 0 392.6px,#ffa48d 0 394.8px,#ffa78f 0 397.4px,#fec1b0 0 399.2px,#ff9f84 0 401.9px,#fea58f 0 404.8px,#ffac95 0 407.3px,#ffb9a6 0 410.0px,#feb4a1 0 413.4px,#ff9b81 0 416.8px,#efcdd5 0 419.4px,#ffc0af 0 421.6px,#f4dfd9 0 424.1px,#f5d1d0 0 426.7px,#f7c6be 0 430.1px,#ffa991 0 432.9px,#facec2 0 435.8px,#f8ccc3 0 438.3px,#fdb4a0 0 441.7px,#fcc2b1 0 444.5px,#f7ccc4 0 447.4px,#fac9bc 0 450.8px,#ffa890 0 453.9px,#ebc5d5 0 459.1px,#f1e5e4 0 462.5px,#f5cfc8 0 465.2px,#ffb09a 0 467.7px,#fdb9a7 0 469.9px,#f7cec9 0 472.4px,#ffbba9 0 474.9px,#ffb5a1 0 477.6px,#fccfc3 0 482.8px,#e8d9e9 0 485.5px,#ffbaa7 0 487.3px,#fdcbbe 0 489.9px,#f6d8d4 0 494.5px,#fdb7a4 0 497.0px,#ffc0af 0 499.9px,#f6d8d3 0 502.8px,#fcc6b8 0 504.6px,#f8d3c9 0 507.1px,#f4e0dc 0 510.5px,#fad0c4 0 513.3px,#ffb7a3 0 516.4px,#f6cbc8 0 521.0px,#ffb39e 0 525.6px,#f7cfca 0 528.7px,#f9d8cf 0 531.2px,#eae6ef 0 534.0px,#ffb49f 0 538.6px,#ecdce5 0 543.8px,#ff7352 0 549.0px,#ff7555 0 550.8px,#ff8265 0 553.4px,#ff7d5e 0 558.6px,#ff7959 0 561.4px,#ff4936 0 564.8px,#ff5e3f 0 568.2px,#ff7154 0 571.6px,#ff7d61 0 575.0px,#ff7456 0 577.2px,#fbc3b5 0 579.8px,#f9d8d0 0 585.0px,#fbc7b9 0 588.4px,#fbd0c4 0 590.2px,#e0cdeb 0 592.7px)"></i><i style="left:363.60px;width:24.30px;background:linear-gradient(#e5ddf1 0 3.1px,#e5dcf1 0 5.6px,#e6dff0 0 9.0px,#e8e3f0 0 14.2px,#ede5ea 0 16.0px,#e7e2f0 0 18.2px,#d5c2f4 0 21.0px,#d8c7f3 0 23.2px,#d9c8f3 0 26.3px,#d5c2f4 0 30.9px,#ccb3f6 0 32.7px,#dacaf3 0 35.5px,#d1bbf5 0 38.2px,#cfb7f5 0 40.0px,#d2bdf4 0 42.2px,#d8c6f3 0 45.6px,#c7abf6 0 49.0px,#d2bcf4 0 51.2px,#c9aef6 0 53.9px,#d0baf5 0 56.1px,#d4c0f4 0 58.9px,#d0b9f5 0 62.3px,#d4bff4 0 64.1px,#d2bcf5 0 68.7px,#c8adf6 0 70.9px,#c9aff6 0 73.6px,#ccb2f5 0 78.8px,#caaff6 0 84.0px,#e4dcf0 0 88.6px,#e2d8f1 0 90.4px,#e7d3e6 0 95.0px,#dcccf3 0 99.6px,#d4c0f4 0 103.0px,#d9c9f3 0 104.8px,#d5c3f4 0 107.5px,#cfb7f5 0 109.3px,#ddcff2 0 112.1px,#dbcaf3 0 114.6px,#d2bdf4 0 117.5px,#dbcaf3 0 120.9px,#d1bbf5 0 123.4px,#d8c7f3 0 126.2px,#d5c1f4 0 128.4px,#d5c2f4 0 133.0px,#d5c1f4 0 135.9px,#dacaf3 0 138.7px,#ddcef2 0 143.9px,#d4c0f4 0 146.4px,#d9c8f3 0 148.6px,#d8c7f3 0 153.2px,#dfd3f2 0 157.8px,#dbccf3 0 163.0px,#e7e1f0 0 165.7px,#d3bff4 0 168.8px,#e6dff0 0 171.0px,#e3d9f1 0 173.8px,#e1d6f1 0 176.0px,#dbcbf3 0 180.6px,#dacaf3 0 182.4px,#dfd1f2 0 187.0px,#cfb8f5 0 189.7px,#d2bdf4 0 192.3px,#d9c9f3 0 197.5px,#d9c9f3 0 200.3px,#d4c0f4 0 203.7px,#e6dff0 0 206.8px,#ecdfe8 0 209.4px,#e6def0 0 214.0px,#ece3ea 0 216.6px,#efe4e5 0 219.7px,#efdfe4 0 222.6px,#ffbdab 0 225.3px,#ffc6b7 0 227.8px,#fdc5b6 0 230.5px,#ffb39e 0 232.7px,#fcc7b8 0 237.3px,#ebe4ec 0 240.2px,#e9d1e2 0 243.0px,#f0e4e4 0 245.6px,#ecd7e2 0 248.7px,#e1d6f0 0 251.3px,#decaec 0 254.2px,#e8cbde 0 258.8px,#fccdc0 0 261.0px,#ecd0db 0 263.2px,#ddc8eb 0 266.0px,#ecd0da 0 269.4px,#facdc0 0 271.9px,#fad0c5 0 275.0px,#f7dad1 0 277.5px,#f5d8d0 0 280.1px,#ff9478 0 283.5px,#ff967a 0 285.3px,#ff8f72 0 290.5px,#faad99 0 292.7px,#ff967b 0 295.5px,#ff987d 0 300.1px,#feb5a2 0 303.2px,#feaf99 0 306.3px,#fdc4b5 0 309.4px,#ff492b 0 314.0px,#ff4b2c 0 316.6px,#fcc4b5 0 321.2px,#f2cac9 0 323.8px,#e0c6e8 0 326.0px,#e5bad4 0 328.2px,#f4dad8 0 331.1px,#fbaa99 0 333.7px,#fbb2a0 0 338.9px,#f6b6ae 0 341.1px,#fecabb 0 342.9px,#fac8bb 0 345.8px,#fbc5b6 0 351.0px,#ffb4a0 0 355.6px,#ffb09a 0 360.8px,#fbd4c9 0 363.4px,#febeac 0 366.3px,#fdc2b2 0 369.7px,#f7cbc4 0 374.9px,#fdbfae 0 378.0px,#ffad97 0 379.8px,#ff967b 0 382.4px,#ffbaa7 0 385.5px,#e7dcec 0 388.0px,#ff6a49 0 392.6px,#ff785b 0 394.8px,#ff8364 0 397.4px,#ff9175 0 399.2px,#ff9074 0 401.9px,#ff7b5c 0 404.8px,#ffa087 0 407.3px,#ffb5a1 0 410.0px,#feb3a0 0 413.4px,#ffa289 0 416.8px,#edd3dd 0 419.4px,#ffbdac 0 421.6px,#efd8df 0 424.1px,#fbcfc4 0 426.7px,#f6b3ab 0 430.1px,#ffb19b 0 432.9px,#f9cbbf 0 435.8px,#f9cfc3 0 438.3px,#feaa94 0 441.7px,#feb39f 0 444.5px,#efb9bf 0 447.4px,#fdc8ba 0 450.8px,#ffbca9 0 453.9px,#ecdae4 0 459.1px,#ede0e7 0 462.5px,#f3cdcf 0 465.2px,#ffb29d 0 467.7px,#f9cec2 0 469.9px,#fad4cb 0 472.4px,#feb9a6 0 474.9px,#fbbaa8 0 477.6px,#fbd4ca 0 482.8px,#eedbe2 0 485.5px,#ffbfad 0 487.3px,#fbd5cb 0 489.9px,#f8d5cf 0 494.5px,#ffa891 0 497.0px,#fec6b7 0 499.9px,#f1d9db 0 502.8px,#fbd0c4 0 504.6px,#f9d1c6 0 507.1px,#f0dcdf 0 510.5px,#f9d6cc 0 513.3px,#ffb29e 0 516.4px,#f5c8c7 0 521.0px,#fec6b7 0 525.6px,#f1d2d5 0 528.7px,#fad5cb 0 531.2px,#f0dfe1 0 534.0px,#ffbead 0 538.6px,#f0d5d8 0 543.8px,#ff9173 0 549.0px,#ff6043 0 550.8px,#ff8a6d 0 553.4px,#ff7e5e 0 558.6px,#ff7453 0 561.4px,#ff5b3e 0 564.8px,#ff543a 0 568.2px,#ff5f4b 0 571.6px,#ff795d 0 575.0px,#ff7f5f 0 577.2px,#fdbcaa 0 579.8px,#f3dddc 0 585.0px,#febba9 0 588.4px,#fcc7b9 0 590.2px,#dfd4f2 0 592.7px)"></i><i style="left:387.60px;width:24.30px;background:linear-gradient(#ff987c 0 3.1px,#ff8567 0 5.6px,#ff5d3d 0 9.0px,#ff8d6f 0 14.2px,#ff896e 0 16.0px,#ff7151 0 18.2px,#ff5337 0 21.0px,#ff593a 0 23.2px,#ff5333 0 26.3px,#ff492c 0 30.9px,#ff2f18 0 32.7px,#ff361d 0 35.5px,#ff2d1a 0 38.2px,#ff412e 0 40.0px,#ff462a 0 42.2px,#ff150c 0 45.6px,#ff6141 0 49.0px,#ff7253 0 51.2px,#ff6243 0 53.9px,#ff2a1f 0 56.1px,#ff503b 0 58.9px,#ff2c19 0 62.3px,#ff3a26 0 64.1px,#ff5945 0 68.7px,#ff543d 0 70.9px,#ff5240 0 73.6px,#ff5133 0 78.8px,#ffaf99 0 84.0px,#feb4a0 0 88.6px,#ff937a 0 90.4px,#febcaa 0 95.0px,#ff674b 0 99.6px,#ff7b5d 0 103.0px,#ff4934 0 104.8px,#ff5434 0 107.5px,#ff6746 0 109.3px,#ff2f1b 0 112.1px,#ff5f40 0 114.6px,#ff7f5f 0 117.5px,#ff5f40 0 120.9px,#ff553b 0 123.4px,#ff6e4f 0 126.2px,#ff6d4d 0 128.4px,#ff4126 0 133.0px,#ff6e51 0 135.9px,#ff523c 0 138.7px,#ff7d62 0 143.9px,#ff6b4d 0 146.4px,#eacede 0 148.6px,#fbd5cb 0 153.2px,#fccfc3 0 157.8px,#facdc0 0 163.0px,#f8d5cc 0 165.7px,#fad6cd 0 168.8px,#fdaf9a 0 171.0px,#febfae 0 173.8px,#ffae98 0 176.0px,#fec6b7 0 180.6px,#fbd3c8 0 182.4px,#fad3c8 0 187.0px,#ff7555 0 189.7px,#ffa78f 0 192.3px,#ffa289 0 197.5px,#ff8d76 0 200.3px,#ff8667 0 203.7px,#e3d6ee 0 206.8px,#ece5eb 0 209.4px,#fec3b3 0 214.0px,#fad6cd 0 216.6px,#f7d5cd 0 219.7px,#e9e1ee 0 222.6px,#f6ddd8 0 225.3px,#bb9af8 0 227.8px,#b897f8 0 230.5px,#c6abf6 0 232.7px,#c1a3f7 0 237.3px,#c7abf6 0 240.2px,#be9ef7 0 243.0px,#ba99f8 0 245.6px,#bfa0f7 0 248.7px,#c2a3f7 0 251.3px,#a47cfa 0 254.2px,#a77ffa 0 258.8px,#a881fa 0 261.0px,#a47dfa 0 263.2px,#a983fa 0 266.0px,#ab84fa 0 269.4px,#a57dfa 0 271.9px,#a57ffa 0 275.0px,#a57efa 0 277.5px,#986dfb 0 280.1px,#a47cfa 0 283.5px,#9e74fb 0 285.3px,#956bfb 0 290.5px,#8f63fc 0 292.7px,#9f76fa 0 295.5px,#a47dfa 0 300.1px,#9d74fb 0 303.2px,#9064fc 0 306.3px,#ad87fa 0 309.4px,#ae88f9 0 314.0px,#986efb 0 316.6px,#a57dfa 0 321.2px,#ad88f9 0 323.8px,#986dfb 0 326.0px,#8e63fc 0 328.2px,#a780fa 0 331.1px,#aa84fa 0 333.7px,#865bfc 0 338.9px,#9166fc 0 341.1px,#9166fc 0 342.9px,#7f53fd 0 345.8px,#9469fb 0 351.0px,#9469fb 0 355.6px,#7348fd 0 360.8px,#8b60fc 0 363.4px,#9c72fb 0 366.3px,#865bfc 0 369.7px,#8155fc 0 374.9px,#9468fc 0 378.0px,#9469fb 0 379.8px,#a179fa 0 382.4px,#966bfb 0 385.5px,#b38ef9 0 388.0px,#a67efa 0 392.6px,#a178fa 0 394.8px,#9369fb 0 397.4px,#855bfc 0 399.2px,#9b71fb 0 401.9px,#986efb 0 404.8px,#a077fb 0 407.3px,#9065fc 0 410.0px,#956afb 0 413.4px,#aa84f9 0 416.8px,#855bfc 0 419.4px,#9e74fb 0 421.6px,#9f76fa 0 424.1px,#ad86f9 0 426.7px,#7b50fd 0 430.1px,#7f53fd 0 432.9px,#895ffc 0 435.8px,#8057fc 0 438.3px,#986efb 0 441.7px,#8258fc 0 444.5px,#8a5ffc 0 447.4px,#784dfd 0 450.8px,#8f65fb 0 453.9px,#a57cfa 0 459.1px,#a077fb 0 462.5px,#ae88f9 0 465.2px,#a27afa 0 467.7px,#9d74fb 0 469.9px,#a67efa 0 472.4px,#a17afa 0 474.9px,#9166fc 0 477.6px,#8a5ffc 0 482.8px,#784dfd 0 485.5px,#8b5ffc 0 487.3px,#875cfc 0 489.9px,#8256fd 0 494.5px,#9267fb 0 497.0px,#986efb 0 499.9px,#855afc 0 502.8px,#8b5ffc 0 504.6px,#8258fc 0 507.1px,#8a5ffc 0 510.5px,#8c60fc 0 513.3px,#8d61fc 0 516.4px,#7c51fd 0 521.0px,#8d61fc 0 525.6px,#885efc 0 528.7px,#9065fc 0 531.2px,#9e74fb 0 534.0px,#a67efa 0 538.6px,#aa84f9 0 543.8px,#bf9ff8 0 549.0px,#c3a6f7 0 550.8px,#ac88f9 0 553.4px,#b694f8 0 558.6px,#bd9df8 0 561.4px,#bd9df8 0 564.8px,#bc9af8 0 568.2px,#b693f8 0 571.6px,#b997f8 0 575.0px,#bc9cf7 0 577.2px,#9770fb 0 579.8px,#a982fa 0 585.0px,#e3d9f1 0 588.4px,#be9ef7 0 590.2px,#b592f9 0 592.7px)"></i><i style="left:411.60px;width:24.30px;background:linear-gradient(#fbcdc1 0 3.1px,#febdab 0 5.6px,#ffb5a1 0 9.0px,#fec2b2 0 14.2px,#f6dfd9 0 16.0px,#ff9f85 0 18.2px,#ff361c 0 21.0px,#ff3e26 0 23.2px,#ff331b 0 26.3px,#ff5d3c 0 30.9px,#ff5032 0 32.7px,#ff0301 0 35.5px,#ff6143 0 38.2px,#ff402a 0 40.0px,#ff5d3c 0 42.2px,#ff0803 0 45.6px,#ff6343 0 49.0px,#ff7556 0 51.2px,#ff5132 0 53.9px,#ff261b 0 56.1px,#ff4e39 0 58.9px,#ff3521 0 62.3px,#ff2d1a 0 64.1px,#ff5233 0 68.7px,#ff5e41 0 70.9px,#ff5c3e 0 73.6px,#ff6645 0 78.8px,#ffb5a2 0 84.0px,#f0d7dd 0 88.6px,#fac3b5 0 90.4px,#ede1e7 0 95.0px,#ff674c 0 99.6px,#ff6a4a 0 103.0px,#ff4f2f 0 104.8px,#ff442f 0 107.5px,#ff4c37 0 109.3px,#ff482b 0 112.1px,#ff4834 0 114.6px,#ff6b4a 0 117.5px,#ff6d4e 0 120.9px,#ff5139 0 123.4px,#ff4c38 0 126.2px,#ff7052 0 128.4px,#ff5a3b 0 133.0px,#ff7c60 0 135.9px,#ff684e 0 138.7px,#ff5a45 0 143.9px,#ff5436 0 146.4px,#e7cde2 0 148.6px,#fad6cd 0 153.2px,#ffa68d 0 157.8px,#ff9377 0 163.0px,#ffac95 0 165.7px,#ffa68e 0 168.8px,#ff7d5f 0 171.0px,#ff9b80 0 173.8px,#ff967b 0 176.0px,#ff8c6f 0 180.6px,#ff997e 0 182.4px,#ff9579 0 187.0px,#ff7d5d 0 189.7px,#ff7252 0 192.3px,#fea08a 0 197.5px,#ff9175 0 200.3px,#ff8b6e 0 203.7px,#e3d8f0 0 206.8px,#ebe6ee 0 209.4px,#fec6b7 0 214.0px,#f7ddd6 0 216.6px,#f8c6bc 0 219.7px,#efecec 0 222.6px,#f2d4d7 0 225.3px,#af8af9 0 227.8px,#b490f9 0 230.5px,#bd9ef7 0 232.7px,#b896f8 0 237.3px,#bc9bf8 0 240.2px,#b896f8 0 243.0px,#b694f8 0 245.6px,#b794f8 0 248.7px,#b997f8 0 251.3px,#9a70fb 0 254.2px,#a077fb 0 258.8px,#a27afa 0 261.0px,#9c73fb 0 263.2px,#a077fa 0 266.0px,#a47cfa 0 269.4px,#9970fb 0 271.9px,#9b73fb 0 275.0px,#9d74fb 0 277.5px,#8e63fc 0 280.1px,#9e75fb 0 283.5px,#976cfb 0 285.3px,#986efb 0 290.5px,#976cfb 0 292.7px,#a279fa 0 295.5px,#a279fa 0 300.1px,#9e75fb 0 303.2px,#8f64fc 0 306.3px,#b08cf9 0 309.4px,#af8af9 0 314.0px,#9a70fb 0 316.6px,#a57dfa 0 321.2px,#ac87f9 0 323.8px,#966cfb 0 326.0px,#9065fc 0 328.2px,#a680fa 0 331.1px,#a880fa 0 333.7px,#8e64fc 0 338.9px,#9266fc 0 341.1px,#9166fb 0 342.9px,#7c50fd 0 345.8px,#9166fb 0 351.0px,#9469fb 0 355.6px,#794efd 0 360.8px,#8f64fc 0 363.4px,#9b72fb 0 366.3px,#7d52fd 0 369.7px,#8255fc 0 374.9px,#9368fb 0 378.0px,#966bfb 0 379.8px,#a178fa 0 382.4px,#976cfb 0 385.5px,#b694f8 0 388.0px,#a77ffa 0 392.6px,#a179fa 0 394.8px,#946afc 0 397.4px,#855afc 0 399.2px,#9a70fb 0 401.9px,#996ffb 0 404.8px,#9f75fb 0 407.3px,#8f64fc 0 410.0px,#966bfb 0 413.4px,#a982fa 0 416.8px,#8055fc 0 419.4px,#9d73fb 0 421.6px,#9a70fb 0 424.1px,#ab85fa 0 426.7px,#7d51fd 0 430.1px,#794dfd 0 432.9px,#8c61fc 0 435.8px,#8259fc 0 438.3px,#9970fb 0 441.7px,#855afc 0 444.5px,#855afc 0 447.4px,#7a4efd 0 450.8px,#8c61fc 0 453.9px,#a780fa 0 459.1px,#9d73fb 0 462.5px,#af8af9 0 465.2px,#a37bfa 0 467.7px,#9c73fb 0 469.9px,#a881fa 0 472.4px,#9d77fa 0 474.9px,#9268fc 0 477.6px,#8e62fc 0 482.8px,#794efd 0 485.5px,#8558fc 0 487.3px,#8e64fc 0 489.9px,#7e52fd 0 494.5px,#9369fb 0 497.0px,#9267fc 0 499.9px,#8d61fc 0 502.8px,#895dfc 0 504.6px,#8359fc 0 507.1px,#8e63fc 0 510.5px,#8a5ffc 0 513.3px,#875cfc 0 516.4px,#7b51fd 0 521.0px,#8a5ffc 0 525.6px,#7b51fd 0 528.7px,#9368fb 0 531.2px,#9b71fb 0 534.0px,#a881fa 0 538.6px,#ab85f9 0 543.8px,#c0a1f7 0 549.0px,#c3a6f7 0 550.8px,#a983f9 0 553.4px,#b491f8 0 558.6px,#be9ef8 0 561.4px,#c1a3f7 0 564.8px,#c0a0f7 0 568.2px,#b997f8 0 571.6px,#b491f8 0 575.0px,#bb9af8 0 577.2px,#9c75fa 0 579.8px,#ab85fa 0 585.0px,#e5ddf0 0 588.4px,#c0a2f7 0 590.2px,#b28df9 0 592.7px)"></i><i style="left:435.60px;width:26.10px;background:linear-gradient(#ffb7a3 0 3.1px,#ffa78f 0 5.6px,#ff9f84 0 9.0px,#fead97 0 14.2px,#fbaf9b 0 16.0px,#ffa288 0 18.2px,#ff4b30 0 21.0px,#ff492b 0 23.2px,#ff371e 0 26.3px,#ff5233 0 30.9px,#ff2513 0 32.7px,#ff1c0f 0 35.5px,#ff5e3e 0 38.2px,#ff482b 0 40.0px,#ff1109 0 42.2px,#ff0c05 0 45.6px,#ff1c11 0 49.0px,#ff6548 0 51.2px,#ff3b20 0 53.9px,#ff180e 0 56.1px,#ff442e 0 58.9px,#ff523d 0 62.3px,#ff391f 0 64.1px,#ff4a2d 0 68.7px,#ff5f44 0 70.9px,#ff6144 0 73.6px,#ff492e 0 78.8px,#ffaa93 0 84.0px,#ffbead 0 88.6px,#ff987e 0 90.4px,#fec0b0 0 95.0px,#ff513c 0 99.6px,#ff8162 0 103.0px,#ff4e2f 0 104.8px,#ff2e1a 0 107.5px,#ff5336 0 109.3px,#f21 0 112.1px,#ff6545 0 114.6px,#ff7557 0 117.5px,#ff7251 0 120.9px,#ff4a2f 0 123.4px,#ff7357 0 126.2px,#ff7b5d 0 128.4px,#ff492c 0 133.0px,#ff8266 0 135.9px,#ff6b4b 0 138.7px,#ff6949 0 143.9px,#ff785a 0 146.4px,#e9d0e1 0 148.6px,#fbd5cb 0 153.2px,#fcd2c7 0 157.8px,#fad2c8 0 163.0px,#efe9e9 0 165.7px,#eed4dd 0 168.8px,#fec0af 0 171.0px,#fbcabd 0 173.8px,#f8d3c9 0 176.0px,#fad6cc 0 180.6px,#f6e0da 0 182.4px,#f4cecc 0 187.0px,#ff8566 0 189.7px,#ffab95 0 192.3px,#fe8871 0 197.5px,#ff8b6d 0 200.3px,#ff8f73 0 203.7px,#e6dcee 0 206.8px,#eae3ed 0 209.4px,#fdc5b6 0 214.0px,#f9d9d0 0 216.6px,#f5c9c7 0 219.7px,#ece7ed 0 222.6px,#f5e2de 0 225.3px,#b491f8 0 227.8px,#b08bf9 0 230.5px,#bd9df7 0 232.7px,#b490f9 0 237.3px,#bd9cf7 0 240.2px,#b693f8 0 243.0px,#b490f8 0 245.6px,#b693f8 0 248.7px,#ba99f8 0 251.3px,#9a70fb 0 254.2px,#a279fa 0 258.8px,#9e75fa 0 261.0px,#9c75fa 0 263.2px,#9f76fb 0 266.0px,#a57dfa 0 269.4px,#9970fb 0 271.9px,#a079fa 0 275.0px,#9d74fb 0 277.5px,#9165fc 0 280.1px,#a077fa 0 283.5px,#966bfb 0 285.3px,#9469fb 0 290.5px,#9266fc 0 292.7px,#9b70fb 0 295.5px,#a37bfa 0 300.1px,#9b70fb 0 303.2px,#9469fb 0 306.3px,#ad87f9 0 309.4px,#af89f9 0 314.0px,#9a70fb 0 316.6px,#9e75fb 0 321.2px,#ab85f9 0 323.8px,#976cfb 0 326.0px,#9167fc 0 328.2px,#9f77fa 0 331.1px,#a67efa 0 333.7px,#865cfc 0 338.9px,#9267fc 0 341.1px,#8f64fc 0 342.9px,#8155fc 0 345.8px,#9065fc 0 351.0px,#9166fb 0 355.6px,#7e52fc 0 360.8px,#8c61fc 0 363.4px,#9b72fb 0 366.3px,#8257fc 0 369.7px,#8054fd 0 374.9px,#9368fb 0 378.0px,#9468fc 0 379.8px,#9d74fb 0 382.4px,#966cfb 0 385.5px,#b491f8 0 388.0px,#a37afa 0 392.6px,#9e75fa 0 394.8px,#9166fb 0 397.4px,#865bfc 0 399.2px,#9e75fb 0 401.9px,#9970fb 0 404.8px,#a077fb 0 407.3px,#9469fc 0 410.0px,#966bfb 0 413.4px,#ab85f9 0 416.8px,#7f55fc 0 419.4px,#986efb 0 421.6px,#986efb 0 424.1px,#a880fa 0 426.7px,#794efd 0 430.1px,#7d51fd 0 432.9px,#9066fc 0 435.8px,#7b53fc 0 438.3px,#996ffb 0 441.7px,#865bfc 0 444.5px,#8c61fc 0 447.4px,#7549fd 0 450.8px,#8c61fc 0 453.9px,#a67ffa 0 459.1px,#9b72fb 0 462.5px,#ae88f9 0 465.2px,#aa83fa 0 467.7px,#9b71fb 0 469.9px,#aa84fa 0 472.4px,#a079fa 0 474.9px,#8f64fc 0 477.6px,#8e63fc 0 482.8px,#7a4ffd 0 485.5px,#8b5ffc 0 487.3px,#875cfc 0 489.9px,#8054fd 0 494.5px,#9369fb 0 497.0px,#956afc 0 499.9px,#8d62fc 0 502.8px,#8559fc 0 504.6px,#855bfc 0 507.1px,#8f64fc 0 510.5px,#8e63fc 0 513.3px,#895efc 0 516.4px,#7e53fd 0 521.0px,#8b5ffc 0 525.6px,#8358fc 0 528.7px,#956afb 0 531.2px,#9c72fb 0 534.0px,#a780fa 0 538.6px,#ac85f9 0 543.8px,#c0a1f7 0 549.0px,#c7abf6 0 550.8px,#ae89f9 0 553.4px,#b896f8 0 558.6px,#be9df8 0 561.4px,#bfa0f7 0 564.8px,#c0a1f7 0 568.2px,#b794f8 0 571.6px,#b895f8 0 575.0px,#bb9af8 0 577.2px,#9a72fa 0 579.8px,#a882f9 0 585.0px,#e4dbf1 0 588.4px,#c0a0f7 0 590.2px,#b28ef9 0 592.7px)"></i><i style="left:461.40px;width:24.30px;background:linear-gradient(#f00 0 3.1px,#f00 0 5.6px,#f00 0 9.0px,#f00 0 14.2px,#ff1f0f 0 16.0px,#f00 0 18.2px,#ff6f50 0 21.0px,#ff6d4f 0 23.2px,#ff6d4d 0 26.3px,#ff7453 0 30.9px,#ff6545 0 32.7px,#ff4427 0 35.5px,#ff5032 0 38.2px,#ff5e3e 0 40.0px,#ff5939 0 42.2px,#ff321d 0 45.6px,#ff6948 0 49.0px,#ff9278 0 51.2px,#ff7150 0 53.9px,#ff3c29 0 56.1px,#ff4c37 0 58.9px,#ff422c 0 62.3px,#f00 0 64.1px,#ff180e 0 68.7px,#ff4e37 0 70.9px,#ff4432 0 73.6px,#ff6647 0 78.8px,#ffaf9b 0 84.0px,#ff2011 0 88.6px,#ff8768 0 90.4px,#ff8e70 0 95.0px,#ff6d4e 0 99.6px,#ff9377 0 103.0px,#ff7d5e 0 104.8px,#ff5537 0 107.5px,#ff7758 0 109.3px,#ff7050 0 112.1px,#ff8a6d 0 114.6px,#ff8a6d 0 117.5px,#ff8668 0 120.9px,#ff866b 0 123.4px,#ff795d 0 126.2px,#ff8a6d 0 128.4px,#ff7d5d 0 133.0px,#ff8b6f 0 135.9px,#ff8467 0 138.7px,#ff937c 0 143.9px,#ff8e70 0 146.4px,#efd8dd 0 148.6px,#fdccc0 0 153.2px,#ff9175 0 157.8px,#ff593b 0 163.0px,#ff6444 0 165.7px,#ff7a5c 0 168.8px,#ff4833 0 171.0px,#ff987c 0 173.8px,#ff8e71 0 176.0px,#ff7758 0 180.6px,#ff9174 0 182.4px,#ff8e72 0 187.0px,#ff886a 0 189.7px,#ffa991 0 192.3px,#ff967c 0 197.5px,#ff8164 0 200.3px,#ff9377 0 203.7px,#e3d6ee 0 206.8px,#ece7ed 0 209.4px,#fac8bb 0 214.0px,#fbcfc3 0 216.6px,#eec8d0 0 219.7px,#efe8e9 0 222.6px,#f5d7d2 0 225.3px,#b38ff9 0 227.8px,#b491f8 0 230.5px,#bb9bf7 0 232.7px,#b694f8 0 237.3px,#bc9bf7 0 240.2px,#b591f8 0 243.0px,#b491f9 0 245.6px,#b692f9 0 248.7px,#bc9bf8 0 251.3px,#9d73fb 0 254.2px,#a47cfa 0 258.8px,#9e76fb 0 261.0px,#9e75fa 0 263.2px,#a178fa 0 266.0px,#a780fa 0 269.4px,#9a70fb 0 271.9px,#9f78fb 0 275.0px,#9d73fb 0 277.5px,#9368fc 0 280.1px,#a178fa 0 283.5px,#956afb 0 285.3px,#9970fb 0 290.5px,#9166fc 0 292.7px,#9e75fb 0 295.5px,#a179fa 0 300.1px,#9b72fb 0 303.2px,#9165fc 0 306.3px,#ad88f9 0 309.4px,#ae88f9 0 314.0px,#9b72fb 0 316.6px,#a47cfa 0 321.2px,#ad87f9 0 323.8px,#946afb 0 326.0px,#9469fb 0 328.2px,#a882fa 0 331.1px,#a57efa 0 333.7px,#885efc 0 338.9px,#9368fb 0 341.1px,#966cfb 0 342.9px,#8155fd 0 345.8px,#9166fc 0 351.0px,#9166fc 0 355.6px,#744afd 0 360.8px,#8a5ffc 0 363.4px,#9c72fb 0 366.3px,#875cfc 0 369.7px,#8458fc 0 374.9px,#976cfb 0 378.0px,#956bfc 0 379.8px,#a47dfa 0 382.4px,#976dfb 0 385.5px,#b694f8 0 388.0px,#a57dfa 0 392.6px,#a57dfa 0 394.8px,#956bfb 0 397.4px,#8459fc 0 399.2px,#9f76fb 0 401.9px,#956cfb 0 404.8px,#a37bfa 0 407.3px,#8c60fc 0 410.0px,#9267fc 0 413.4px,#aa83fa 0 416.8px,#8156fc 0 419.4px,#9c72fb 0 421.6px,#9c73fb 0 424.1px,#a67efa 0 426.7px,#7b4ffd 0 430.1px,#7f53fd 0 432.9px,#885cfc 0 435.8px,#8057fc 0 438.3px,#9c72fb 0 441.7px,#8459fc 0 444.5px,#885efc 0 447.4px,#774bfd 0 450.8px,#8e64fc 0 453.9px,#a57dfa 0 459.1px,#a178fa 0 462.5px,#b28df9 0 465.2px,#a47bfa 0 467.7px,#9c72fb 0 469.9px,#a882fa 0 472.4px,#9c74fa 0 474.9px,#855afc 0 477.6px,#8155fd 0 482.8px,#6e43fd 0 485.5px,#7f53fd 0 487.3px,#8156fd 0 489.9px,#6f44fd 0 494.5px,#875bfc 0 497.0px,#885dfc 0 499.9px,#7b50fd 0 502.8px,#7e52fd 0 504.6px,#6f47fd 0 507.1px,#7e54fc 0 510.5px,#7d51fd 0 513.3px,#7b4ffd 0 516.4px,#7046fd 0 521.0px,#8054fd 0 525.6px,#744afd 0 528.7px,#8459fc 0 531.2px,#996ffb 0 534.0px,#a77ffa 0 538.6px,#ac86f9 0 543.8px,#caaff6 0 549.0px,#d1bcf4 0 550.8px,#c1a3f7 0 553.4px,#c8adf6 0 558.6px,#caaff6 0 561.4px,#c9aef6 0 564.8px,#cab0f5 0 568.2px,#c4a6f7 0 571.6px,#c3a5f7 0 575.0px,#c9adf6 0 577.2px,#9a73fa 0 579.8px,#a67ffa 0 585.0px,#e7e1f0 0 588.4px,#bd9df7 0 590.2px,#b38ff9 0 592.7px)"></i><i style="left:485.40px;width:24.30px;background:linear-gradient(#ff7e5f 0 3.1px,#ff6848 0 5.6px,#ff4629 0 9.0px,#f00 0 14.2px,#ff8367 0 16.0px,#ff4e33 0 18.2px,#ff4c2e 0 21.0px,#ff361f 0 23.2px,#ff2e1b 0 26.3px,#ff5c3d 0 30.9px,#ff4326 0 32.7px,#ff2612 0 35.5px,#ff4c2e 0 38.2px,#ff3e28 0 40.0px,#ff3824 0 42.2px,#ff1108 0 45.6px,#ff3e28 0 49.0px,#ff8669 0 51.2px,#ff5334 0 53.9px,#ff2c1b 0 56.1px,#ff4e3a 0 58.9px,#ff402a 0 62.3px,#f00 0 64.1px,#ff1008 0 68.7px,#ff5c41 0 70.9px,#ff7659 0 73.6px,#ff442b 0 78.8px,#fdb09b 0 84.0px,#ff1d13 0 88.6px,#ff0e06 0 90.4px,#ff2514 0 95.0px,#ff8465 0 99.6px,#ff977b 0 103.0px,#ff6d4d 0 104.8px,#ff5e3d 0 107.5px,#ff8668 0 109.3px,#ff5a3a 0 112.1px,#ff7557 0 114.6px,#ff8a6c 0 117.5px,#ff8c70 0 120.9px,#ff7253 0 123.4px,#ff7f63 0 126.2px,#ff8365 0 128.4px,#ff6444 0 133.0px,#fe9d84 0 135.9px,#ff826d 0 138.7px,#ff886d 0 143.9px,#ff8465 0 146.4px,#f2e0de 0 148.6px,#fcd1c5 0 153.2px,#ff7352 0 157.8px,#ff4629 0 163.0px,#ff6545 0 165.7px,#ff6e4e 0 168.8px,#ff3723 0 171.0px,#ff7959 0 173.8px,#ff7858 0 176.0px,#ff6443 0 180.6px,#ff7050 0 182.4px,#ff7355 0 187.0px,#ff7b5b 0 189.7px,#ff7f5f 0 192.3px,#ff9a81 0 197.5px,#ff876b 0 200.3px,#ff9f86 0 203.7px,#e1d5f1 0 206.8px,#eae4ee 0 209.4px,#fdcabd 0 214.0px,#f9d8cf 0 216.6px,#f6c8c3 0 219.7px,#ebe5ed 0 222.6px,#f2cbcd 0 225.3px,#b796f8 0 227.8px,#b28ef9 0 230.5px,#bfa1f7 0 232.7px,#b896f8 0 237.3px,#bc9cf8 0 240.2px,#b693f8 0 243.0px,#b38ff9 0 245.6px,#b895f8 0 248.7px,#b895f8 0 251.3px,#996ffb 0 254.2px,#9e74fb 0 258.8px,#a179fb 0 261.0px,#9e75fb 0 263.2px,#a077fa 0 266.0px,#a179fa 0 269.4px,#9c73fb 0 271.9px,#a179fa 0 275.0px,#9a70fb 0 277.5px,#8e63fc 0 280.1px,#9c72fb 0 283.5px,#996ffb 0 285.3px,#966bfb 0 290.5px,#9266fc 0 292.7px,#9a70fb 0 295.5px,#a077fa 0 300.1px,#9f76fa 0 303.2px,#9469fb 0 306.3px,#ab86f9 0 309.4px,#ab84fa 0 314.0px,#9c73fb 0 316.6px,#a47bfa 0 321.2px,#ae8af9 0 323.8px,#976cfb 0 326.0px,#956afb 0 328.2px,#a47dfa 0 331.1px,#a77ffa 0 333.7px,#875cfc 0 338.9px,#9267fc 0 341.1px,#8d61fc 0 342.9px,#7e53fd 0 345.8px,#9469fb 0 351.0px,#9167fb 0 355.6px,#794efd 0 360.8px,#8c62fc 0 363.4px,#9a70fb 0 366.3px,#875bfc 0 369.7px,#7f53fd 0 374.9px,#9368fb 0 378.0px,#956afb 0 379.8px,#9e75fb 0 382.4px,#996ffb 0 385.5px,#b693f8 0 388.0px,#a982fa 0 392.6px,#a178fa 0 394.8px,#9267fc 0 397.4px,#8459fc 0 399.2px,#9e74fb 0 401.9px,#9b72fb 0 404.8px,#a078fb 0 407.3px,#8e62fc 0 410.0px,#9468fc 0 413.4px,#ad88f9 0 416.8px,#8257fc 0 419.4px,#9a70fb 0 421.6px,#986efb 0 424.1px,#a780fa 0 426.7px,#7c51fd 0 430.1px,#774cfd 0 432.9px,#8a5ffc 0 435.8px,#7951fc 0 438.3px,#986efb 0 441.7px,#885dfc 0 444.5px,#8d62fc 0 447.4px,#7a4efd 0 450.8px,#8960fc 0 453.9px,#a983fa 0 459.1px,#a178fa 0 462.5px,#b08bf9 0 465.2px,#a27afa 0 467.7px,#9b71fb 0 469.9px,#ab85f9 0 472.4px,#9b74fa 0 474.9px,#8358fc 0 477.6px,#8054fd 0 482.8px,#653cfd 0 485.5px,#7e52fd 0 487.3px,#7f54fd 0 489.9px,#6e44fd 0 494.5px,#8358fc 0 497.0px,#8c60fc 0 499.9px,#8357fc 0 502.8px,#7a4efd 0 504.6px,#6e47fd 0 507.1px,#8055fc 0 510.5px,#7e52fd 0 513.3px,#794efd 0 516.4px,#7146fd 0 521.0px,#8054fd 0 525.6px,#7147fd 0 528.7px,#8559fc 0 531.2px,#9e75fa 0 534.0px,#a982fa 0 538.6px,#ab85fa 0 543.8px,#bf9ff7 0 549.0px,#c5a8f6 0 550.8px,#a984f9 0 553.4px,#b998f8 0 558.6px,#bc9bf7 0 561.4px,#c1a1f7 0 564.8px,#be9ef7 0 568.2px,#b997f8 0 571.6px,#b896f8 0 575.0px,#bd9df7 0 577.2px,#9971fb 0 579.8px,#a67ffa 0 585.0px,#e4dbf1 0 588.4px,#be9ef7 0 590.2px,#b08bf9 0 592.7px)"></i><i style="left:509.40px;width:24.30px;background:linear-gradient(#e6dff0 0 3.1px,#e1d5f1 0 5.6px,#e2d8f0 0 9.0px,#ded1f2 0 14.2px,#e7e0f0 0 16.0px,#e4daf1 0 18.2px,#feb29e 0 21.0px,#f4e3df 0 23.2px,#ded0f2 0 26.3px,#e7e0f0 0 30.9px,#e2d4ee 0 32.7px,#e4dbf1 0 35.5px,#dcccf2 0 38.2px,#dac9f3 0 40.0px,#dccef2 0 42.2px,#dccdf2 0 45.6px,#dbccf3 0 49.0px,#dacaf3 0 51.2px,#dfd2f2 0 53.9px,#d9c8f3 0 56.1px,#dfd3f2 0 58.9px,#dac9f3 0 62.3px,#e4daef 0 64.1px,#ded1f2 0 68.7px,#e1d7f1 0 70.9px,#d0b9f5 0 73.6px,#ded0f2 0 78.8px,#fbd4ca 0 84.0px,#ddd0f2 0 88.6px,#e5def0 0 90.4px,#e1d6f1 0 95.0px,#e9e4ef 0 99.6px,#ddcff2 0 103.0px,#ded1f2 0 104.8px,#e3daf1 0 107.5px,#e1d7f1 0 109.3px,#e0d3f1 0 112.1px,#e5ddef 0 114.6px,#dfd3f2 0 117.5px,#e9e3ef 0 120.9px,#d8c6f3 0 123.4px,#dccff2 0 126.2px,#dfd2f2 0 128.4px,#e4dbf1 0 133.0px,#d7c5f3 0 135.9px,#dbcdf2 0 138.7px,#e2d8f1 0 143.9px,#d9c8f3 0 146.4px,#e3daf0 0 148.6px,#dacaf3 0 153.2px,#d9c7f3 0 157.8px,#d6c3f4 0 163.0px,#ddcff2 0 165.7px,#dcccf3 0 168.8px,#dfd2f2 0 171.0px,#e1d5f1 0 173.8px,#d8c7f3 0 176.0px,#dcccf2 0 180.6px,#e4daf1 0 182.4px,#e1d6f1 0 187.0px,#ddcff2 0 189.7px,#d7c4f3 0 192.3px,#d2bef4 0 197.5px,#dccdf2 0 200.3px,#dfd3f2 0 203.7px,#dacaf3 0 206.8px,#d2bef4 0 209.4px,#cfb9f5 0 214.0px,#d5c1f4 0 216.6px,#ded1f2 0 219.7px,#e7e0f0 0 222.6px,#f3d7d8 0 225.3px,#f9d5cc 0 227.8px,#f7d8d0 0 230.5px,#f6ddd7 0 232.7px,#f9d5cb 0 237.3px,#f3e0de 0 240.2px,#e4d8ed 0 243.0px,#fcc1b1 0 245.6px,#fad5cb 0 248.7px,#ff9d82 0 251.3px,#ff896c 0 254.2px,#f8d8d0 0 258.8px,#febead 0 261.0px,#ff9478 0 263.2px,#fcad98 0 266.0px,#ffa68f 0 269.4px,#fec9bb 0 271.9px,#fcc3b3 0 275.0px,#ff7757 0 277.5px,#e9dfec 0 280.1px,#facbbe 0 283.5px,#f2d2d6 0 285.3px,#ece9ee 0 290.5px,#e7e1f0 0 292.7px,#e2d7f1 0 295.5px,#e3d9f1 0 300.1px,#e2d7f1 0 303.2px,#eee8eb 0 306.3px,#ffc0ae 0 309.4px,#eae3ec 0 314.0px,#f0cbd3 0 316.6px,#fec9ba 0 321.2px,#f0d7d9 0 323.8px,#f9cec2 0 326.0px,#f5bab4 0 328.2px,#ffbcaa 0 331.1px,#f7d2cb 0 333.7px,#f4d2ce 0 338.9px,#f3dada 0 341.1px,#f5cac6 0 342.9px,#fbccc0 0 345.8px,#eed2da 0 351.0px,#f6dfda 0 355.6px,#eae8ef 0 360.8px,#ecd9e4 0 363.4px,#f9d3c9 0 366.3px,#eccfdc 0 369.7px,#f0d1d2 0 374.9px,#fdcbbe 0 378.0px,#ead7e4 0 379.8px,#eee7ea 0 382.4px,#f4dedb 0 385.5px,#eddee6 0 388.0px,#f5e1dc 0 392.6px,#f7ded7 0 394.8px,#eaddea 0 397.4px,#e8deec 0 399.2px,#ecd2de 0 401.9px,#fccabd 0 404.8px,#feaf9a 0 407.3px,#f8d6cc 0 410.0px,#f7c4bc 0 413.4px,#fac5b7 0 416.8px,#f0e4e4 0 419.4px,#fdb7a4 0 421.6px,#fcc2b2 0 424.1px,#ff9c81 0 426.7px,#f7d4ce 0 430.1px,#fad5cc 0 432.9px,#f5c9c1 0 435.8px,#dfd3f1 0 438.3px,#f5dad6 0 441.7px,#e4daef 0 444.5px,#ddc9ec 0 447.4px,#e8e2ee 0 450.8px,#f8d1c9 0 453.9px,#e5cae2 0 459.1px,#ff9377 0 462.5px,#fbbcac 0 465.2px,#e8cee1 0 467.7px,#eec1c3 0 469.9px,#f8c5bb 0 472.4px,#feb4a1 0 474.9px,#fbcbbd 0 477.6px,#febeac 0 482.8px,#f3d0ce 0 485.5px,#f4dddb 0 487.3px,#f0dbdd 0 489.9px,#fbc8ba 0 494.5px,#f8dad2 0 497.0px,#f6c9c5 0 499.9px,#ffbfad 0 502.8px,#fbbeae 0 504.6px,#f1e9e7 0 507.1px,#f4cfcf 0 510.5px,#f7d8cf 0 513.3px,#f9cdc1 0 516.4px,#eae2ec 0 521.0px,#f5e1db 0 525.6px,#f2c9c9 0 528.7px,#f1e0e0 0 531.2px,#e3c6e2 0 534.0px,#ecd1df 0 538.6px,#ffbead 0 543.8px,#ccb4f5 0 549.0px,#d1bbf4 0 550.8px,#c6a9f6 0 553.4px,#c1a2f7 0 558.6px,#cab1f6 0 561.4px,#cbb1f6 0 564.8px,#cdb5f5 0 568.2px,#c6aaf6 0 571.6px,#c5a8f6 0 575.0px,#cfb8f5 0 577.2px,#f2dfdf 0 579.8px,#e4d8ed 0 585.0px,#e7deee 0 588.4px,#f4cfcd 0 590.2px,#ecd0d9 0 592.7px)"></i><i style="left:533.40px;width:24.30px;background:linear-gradient(#dfd3f2 0 3.1px,#d8c7f3 0 5.6px,#dbccf3 0 9.0px,#dac9f3 0 14.2px,#dfd2f2 0 16.0px,#dfd2f2 0 18.2px,#fdbaa8 0 21.0px,#f2e7e4 0 23.2px,#d7c5f3 0 26.3px,#e3daf1 0 30.9px,#d9c9f3 0 32.7px,#ddcef2 0 35.5px,#d3bef4 0 38.2px,#d5c1f4 0 40.0px,#d6c4f3 0 42.2px,#d7c5f3 0 45.6px,#d4c0f4 0 49.0px,#d2bdf4 0 51.2px,#d8c7f3 0 53.9px,#d2bdf4 0 56.1px,#d8c6f3 0 58.9px,#d4c0f4 0 62.3px,#ded1f2 0 64.1px,#d4c0f4 0 68.7px,#d8c6f3 0 70.9px,#ccb3f5 0 73.6px,#d9c9f3 0 78.8px,#dccef2 0 84.0px,#d7c5f3 0 88.6px,#dacbf3 0 90.4px,#dacaf3 0 95.0px,#ddd0f2 0 99.6px,#d7c5f3 0 103.0px,#d7c5f3 0 104.8px,#dbccf3 0 107.5px,#dacaf3 0 109.3px,#d8c7f3 0 112.1px,#ddcff2 0 114.6px,#d6c4f4 0 117.5px,#e3daf1 0 120.9px,#d5c1f4 0 123.4px,#d5c2f4 0 126.2px,#d8c6f3 0 128.4px,#dfd2f2 0 133.0px,#ceb6f5 0 135.9px,#cfb9f5 0 138.7px,#dfd2f2 0 143.9px,#d2bcf4 0 146.4px,#dacaf3 0 148.6px,#d0baf4 0 153.2px,#d7c4f3 0 157.8px,#d0baf5 0 163.0px,#d6c3f4 0 165.7px,#d3bef4 0 168.8px,#d7c5f3 0 171.0px,#d7c6f3 0 173.8px,#d5c1f4 0 176.0px,#d3bef4 0 180.6px,#dacaf3 0 182.4px,#dbccf3 0 187.0px,#d5c2f4 0 189.7px,#d1bbf5 0 192.3px,#cbb2f6 0 197.5px,#d2bcf4 0 200.3px,#d9c8f3 0 203.7px,#d5c2f4 0 206.8px,#ccb4f5 0 209.4px,#cbb1f6 0 214.0px,#ceb7f5 0 216.6px,#d7c4f4 0 219.7px,#e1d5f1 0 222.6px,#f2d9db 0 225.3px,#f6dfd9 0 227.8px,#fec6b7 0 230.5px,#f1dadb 0 232.7px,#f5e3de 0 237.3px,#ffaf9a 0 240.2px,#fcc6b8 0 243.0px,#fccbbd 0 245.6px,#fdc6b8 0 248.7px,#ffa991 0 251.3px,#fbcbbe 0 254.2px,#f6d1c7 0 258.8px,#ffc1af 0 261.0px,#ffa58d 0 263.2px,#feb6a2 0 266.0px,#ff9d83 0 269.4px,#f4d7d7 0 271.9px,#fad7ce 0 275.0px,#f7dad3 0 277.5px,#eed8e0 0 280.1px,#f9d6cd 0 283.5px,#f9d6cd 0 285.3px,#ede7ec 0 290.5px,#e5dff0 0 292.7px,#e2d8f1 0 295.5px,#e2d7f1 0 300.1px,#e2d9f1 0 303.2px,#edebed 0 306.3px,#fbc3b3 0 309.4px,#ebdce7 0 314.0px,#edd0d9 0 316.6px,#fec7b8 0 321.2px,#f0e6e6 0 323.8px,#f9d3c9 0 326.0px,#fac9bc 0 328.2px,#fec8ba 0 331.1px,#fcccbf 0 333.7px,#efd4d9 0 338.9px,#efe1e4 0 341.1px,#f9cdc1 0 342.9px,#f7d6cc 0 345.8px,#e6c5d9 0 351.0px,#eee5e8 0 355.6px,#ebe0e9 0 360.8px,#e1c8e8 0 363.4px,#eed2db 0 366.3px,#e2c9e5 0 369.7px,#edcfd8 0 374.9px,#fdc4b5 0 378.0px,#ecdfe8 0 379.8px,#f7ded8 0 382.4px,#efdce0 0 385.5px,#ece9ee 0 388.0px,#f3d0d0 0 392.6px,#fdcec2 0 394.8px,#edd5df 0 397.4px,#efdae0 0 399.2px,#e4cbe3 0 401.9px,#ffb9a6 0 404.8px,#ffa48c 0 407.3px,#f1d7d6 0 410.0px,#f3c3c4 0 413.4px,#fbc1b1 0 416.8px,#efdbe0 0 419.4px,#fdb19d 0 421.6px,#febdac 0 424.1px,#fbcabe 0 426.7px,#f9d2c8 0 430.1px,#fecabc 0 432.9px,#f4b3ae 0 435.8px,#e4d6ed 0 438.3px,#f5d0cc 0 441.7px,#e3d6ee 0 444.5px,#ded1f0 0 447.4px,#eae4ed 0 450.8px,#facdc1 0 453.9px,#eac1d3 0 459.1px,#efd8dd 0 462.5px,#dbbde6 0 465.2px,#e9d9e7 0 467.7px,#e8b7c5 0 469.9px,#ffc1b1 0 472.4px,#fcbead 0 474.9px,#fdc8ba 0 477.6px,#fac3b4 0 482.8px,#f1ced3 0 485.5px,#f8dad1 0 487.3px,#efcdd6 0 489.9px,#faccbf 0 494.5px,#f9d7ce 0 497.0px,#f7d5cd 0 499.9px,#ffc0af 0 502.8px,#fbcabd 0 504.6px,#f4e3df 0 507.1px,#f2d5d8 0 510.5px,#f4e2dd 0 513.3px,#f9c6b8 0 516.4px,#e9d5e4 0 521.0px,#f8dbd4 0 525.6px,#f0c0c1 0 528.7px,#f4d9d6 0 531.2px,#e4c2db 0 534.0px,#e9dbe9 0 538.6px,#fec0af 0 543.8px,#cfb8f5 0 549.0px,#ceb6f5 0 550.8px,#c7aaf6 0 553.4px,#c3a5f7 0 558.6px,#d0baf5 0 561.4px,#c9aef6 0 564.8px,#cdb5f5 0 568.2px,#c5a7f6 0 571.6px,#c7abf6 0 575.0px,#ceb6f5 0 577.2px,#ecebef 0 579.8px,#e7d6e9 0 585.0px,#daccf3 0 588.4px,#f0d9da 0 590.2px,#f0dbde 0 592.7px)"></i><i style="left:557.40px;width:24.30px;background:linear-gradient(#e5d9ed 0 3.1px,#e0d4f2 0 5.6px,#e4dcf0 0 9.0px,#dfd3f2 0 14.2px,#e8e2f0 0 16.0px,#e4dcf0 0 18.2px,#ffa78f 0 21.0px,#fad1c6 0 23.2px,#dfd2f2 0 26.3px,#e6dff0 0 30.9px,#e1d7f1 0 32.7px,#e3daf1 0 35.5px,#dbccf3 0 38.2px,#dacbf3 0 40.0px,#dccef2 0 42.2px,#dfd3f2 0 45.6px,#dbcbf3 0 49.0px,#dbcbf3 0 51.2px,#ded1f2 0 53.9px,#d9c7f3 0 56.1px,#e0d5f1 0 58.9px,#dbcbf3 0 62.3px,#e4dbf1 0 64.1px,#dccef2 0 68.7px,#ded2f2 0 70.9px,#d2bdf4 0 73.6px,#dccff2 0 78.8px,#e0d4f1 0 84.0px,#dccef2 0 88.6px,#e4dbf1 0 90.4px,#e3daf1 0 95.0px,#e3daf1 0 99.6px,#dfd2f2 0 103.0px,#dfd2f2 0 104.8px,#e4dbf1 0 107.5px,#ded1f2 0 109.3px,#dfd2f2 0 112.1px,#e3daf1 0 114.6px,#ded0f2 0 117.5px,#e8e3ef 0 120.9px,#dacaf3 0 123.4px,#ddd0f2 0 126.2px,#e1d5f1 0 128.4px,#e1d6f1 0 133.0px,#d3bff4 0 135.9px,#d9c8f3 0 138.7px,#e5dcf0 0 143.9px,#d7c5f3 0 146.4px,#e1d6f1 0 148.6px,#dacbf3 0 153.2px,#d9c9f3 0 157.8px,#d6c3f4 0 163.0px,#e1d7f1 0 165.7px,#dccef3 0 168.8px,#e2d7f1 0 171.0px,#ded2f2 0 173.8px,#dac9f3 0 176.0px,#ddcff2 0 180.6px,#e4daf1 0 182.4px,#e0d3f2 0 187.0px,#d9c8f3 0 189.7px,#d8c6f3 0 192.3px,#d5c2f3 0 197.5px,#dac9f3 0 200.3px,#dfd2f2 0 203.7px,#d9c7f3 0 206.8px,#d3bef4 0 209.4px,#d2bef4 0 214.0px,#d4c0f4 0 216.6px,#e0d4f2 0 219.7px,#e6dff0 0 222.6px,#f7dbd4 0 225.3px,#f8d9d0 0 227.8px,#f7cac2 0 230.5px,#f0d7da 0 232.7px,#f7dcd5 0 237.3px,#ffb19c 0 240.2px,#f8ccc2 0 243.0px,#fdbfaf 0 245.6px,#fcbfaf 0 248.7px,#ffae97 0 251.3px,#ffb19c 0 254.2px,#f7c7bf 0 258.8px,#fec4b4 0 261.0px,#ff9b81 0 263.2px,#fcb29e 0 266.0px,#ff977c 0 269.4px,#f3d4d6 0 271.9px,#f7dcd5 0 275.0px,#f6c5c1 0 277.5px,#ece6ec 0 280.1px,#f5c9c7 0 283.5px,#f6cdca 0 285.3px,#eee8eb 0 290.5px,#e5ddf0 0 292.7px,#e2d8f1 0 295.5px,#e1d7f1 0 300.1px,#e0d4f2 0 303.2px,#ede7eb 0 306.3px,#ffc3b2 0 309.4px,#ebdde8 0 314.0px,#efc3c8 0 316.6px,#fdcbbe 0 321.2px,#f4dbda 0 323.8px,#f5dad7 0 326.0px,#f0c1c9 0 328.2px,#fdc4b5 0 331.1px,#fbcbbf 0 333.7px,#f1d7d7 0 338.9px,#f1e2e1 0 341.1px,#f1cfd2 0 342.9px,#f7d1ca 0 345.8px,#e9d1e2 0 351.0px,#eedee3 0 355.6px,#ebe2eb 0 360.8px,#eadfea 0 363.4px,#f9d1c6 0 366.3px,#e8ccde 0 369.7px,#edced6 0 374.9px,#fcd0c5 0 378.0px,#f4dfda 0 379.8px,#f1d3d5 0 382.4px,#eed6dd 0 385.5px,#f3e5e2 0 388.0px,#efe2e5 0 392.6px,#f9d4cb 0 394.8px,#ede0e7 0 397.4px,#e5dbee 0 399.2px,#ebd4e2 0 401.9px,#fcc1b1 0 404.8px,#ffb7a4 0 407.3px,#f5dbd4 0 410.0px,#f7cac4 0 413.4px,#f3d2cc 0 416.8px,#dfd3f2 0 419.4px,#facabd 0 421.6px,#f5ddd7 0 424.1px,#f8d0c8 0 426.7px,#efe5e7 0 430.1px,#fad5cb 0 432.9px,#fdb6a3 0 435.8px,#e6d3e7 0 438.3px,#f4cfce 0 441.7px,#e8dfed 0 444.5px,#dfd2f0 0 447.4px,#e9dfec 0 450.8px,#fbc4b6 0 453.9px,#efcdd7 0 459.1px,#eacfde 0 462.5px,#d9b8e5 0 465.2px,#e7cfe3 0 467.7px,#f2c7c5 0 469.9px,#fcc1b1 0 472.4px,#fdb8a6 0 474.9px,#fbc1b1 0 477.6px,#fdb9a6 0 482.8px,#f1cad0 0 485.5px,#fad4c9 0 487.3px,#f1d6d6 0 489.9px,#fcc9bb 0 494.5px,#fecabc 0 497.0px,#f8cec4 0 499.9px,#fdbdab 0 502.8px,#fcc5b6 0 504.6px,#efe8ea 0 507.1px,#f2dddd 0 510.5px,#f7dcd5 0 513.3px,#f9c9bb 0 516.4px,#ede2e9 0 521.0px,#f9dad1 0 525.6px,#f6bab1 0 528.7px,#efd9dd 0 531.2px,#e0c5e6 0 534.0px,#eccddb 0 538.6px,#ffb9a6 0 543.8px,#cfb9f5 0 549.0px,#cfb8f5 0 550.8px,#c7abf6 0 553.4px,#c3a5f7 0 558.6px,#cfb8f5 0 561.4px,#c9aef6 0 564.8px,#ceb7f5 0 568.2px,#c7acf6 0 571.6px,#c6aaf6 0 575.0px,#cfb8f5 0 577.2px,#e6dff0 0 579.8px,#dbccf2 0 585.0px,#ded0f2 0 588.4px,#f2d4d7 0 590.2px,#f0dadd 0 592.7px)"></i><i style="left:581.40px;width:26.10px;background:linear-gradient(#e6ddef 0 3.1px,#e0d4f1 0 5.6px,#e4daf1 0 9.0px,#dfd2f2 0 14.2px,#e8e1f0 0 16.0px,#e7e0f0 0 18.2px,#ffb9a6 0 21.0px,#f7dcd4 0 23.2px,#ded0f2 0 26.3px,#e9e4ef 0 30.9px,#e1d6f1 0 32.7px,#e3d9f1 0 35.5px,#ddcef2 0 38.2px,#d7c5f3 0 40.0px,#ded1f2 0 42.2px,#ded0f2 0 45.6px,#dbccf2 0 49.0px,#f7ddd6 0 51.2px,#f8dbd4 0 53.9px,#dacaf3 0 56.1px,#e2d8f1 0 58.9px,#dbcbf3 0 62.3px,#e3daf1 0 64.1px,#ddcef2 0 68.7px,#e0d4f2 0 70.9px,#d2bcf4 0 73.6px,#dfd3f2 0 78.8px,#e2d7f1 0 84.0px,#dccef3 0 88.6px,#e3d9f1 0 90.4px,#dfd3f2 0 95.0px,#e6dff0 0 99.6px,#dccef2 0 103.0px,#dbccf3 0 104.8px,#e3dbf1 0 107.5px,#e3daf1 0 109.3px,#ded1f2 0 112.1px,#e5def0 0 114.6px,#ded0f2 0 117.5px,#e9e4f0 0 120.9px,#dac9f3 0 123.4px,#dfd3f2 0 126.2px,#dfd2f2 0 128.4px,#e3d9f1 0 133.0px,#d1bcf5 0 135.9px,#daccf3 0 138.7px,#e5dcf0 0 143.9px,#dac9f3 0 146.4px,#e4dcf0 0 148.6px,#d8c6f3 0 153.2px,#d9c9f3 0 157.8px,#d7c4f4 0 163.0px,#dfd3f1 0 165.7px,#d9c8f3 0 168.8px,#e0d4f2 0 171.0px,#ded1f2 0 173.8px,#dbccf3 0 176.0px,#ddd0f2 0 180.6px,#e0d5f1 0 182.4px,#e4dcf1 0 187.0px,#d9c7f3 0 189.7px,#d9c8f3 0 192.3px,#d4c0f4 0 197.5px,#d8c7f3 0 200.3px,#e0d4f2 0 203.7px,#dbccf3 0 206.8px,#d3bef4 0 209.4px,#d0b8f5 0 214.0px,#d6c3f4 0 216.6px,#ddcff2 0 219.7px,#e7e1f0 0 222.6px,#f3cdd0 0 225.3px,#f8d6d0 0 227.8px,#ff9073 0 230.5px,#fad6cc 0 232.7px,#f9d7cf 0 237.3px,#ffa38a 0 240.2px,#f9cfc4 0 243.0px,#feb9a6 0 245.6px,#facfc3 0 248.7px,#ffad96 0 251.3px,#f9c1b2 0 254.2px,#f9d0c5 0 258.8px,#ffb6a2 0 261.0px,#ff9478 0 263.2px,#fabead 0 266.0px,#ffa389 0 269.4px,#f3d5d6 0 271.9px,#f8dad2 0 275.0px,#f7dad1 0 277.5px,#e6d7eb 0 280.1px,#f9d1c6 0 283.5px,#f6cbc6 0 285.3px,#eee6ea 0 290.5px,#e6def0 0 292.7px,#e3d9f1 0 295.5px,#e4dbf1 0 300.1px,#e0d5f1 0 303.2px,#eee7ea 0 306.3px,#fccdc1 0 309.4px,#e9deec 0 314.0px,#f2c8cb 0 316.6px,#fdccbf 0 321.2px,#ede2e8 0 323.8px,#fcc8ba 0 326.0px,#f5c6c3 0 328.2px,#febaa8 0 331.1px,#fbd0c4 0 333.7px,#efcccd 0 338.9px,#f4e3e0 0 341.1px,#f2d2cf 0 342.9px,#f5d3ca 0 345.8px,#ebd5e1 0 351.0px,#f0d9de 0 355.6px,#efe8e9 0 360.8px,#ded2f2 0 363.4px,#f1d4d6 0 366.3px,#eed7df 0 369.7px,#f0c3c6 0 374.9px,#fbd1c6 0 378.0px,#f1dfe0 0 379.8px,#ebd9e5 0 382.4px,#ebd9e5 0 385.5px,#eee1e6 0 388.0px,#f4e0dc 0 392.6px,#f9d7ce 0 394.8px,#e9e3ef 0 397.4px,#e5ddf0 0 399.2px,#eed7df 0 401.9px,#fbc6b7 0 404.8px,#ffb09b 0 407.3px,#f3d0ce 0 410.0px,#e9c1d0 0 413.4px,#f6c4c0 0 416.8px,#e3daf1 0 419.4px,#f2bfc1 0 421.6px,#fcd0c5 0 424.1px,#fcd1c6 0 426.7px,#f6d3d0 0 430.1px,#fcd1c6 0 432.9px,#eee3e7 0 435.8px,#dccef2 0 438.3px,#e8e4ef 0 441.7px,#dbccf3 0 444.5px,#dccef2 0 447.4px,#e0d4f1 0 450.8px,#eae2ec 0 453.9px,#e8c3d9 0 459.1px,#f1dadd 0 462.5px,#d7b2e2 0 465.2px,#e9d1e1 0 467.7px,#ff8f7a 0 469.9px,#ffa088 0 472.4px,#ff8a6e 0 474.9px,#ffbba9 0 477.6px,#fdbdab 0 482.8px,#eec6cb 0 485.5px,#f6d6cf 0 487.3px,#f3dddb 0 489.9px,#fbc7b8 0 494.5px,#f7ccc4 0 497.0px,#f7d8d2 0 499.9px,#fbc2b3 0 502.8px,#f9c0b2 0 504.6px,#f6ded8 0 507.1px,#f3dada 0 510.5px,#f3e4e0 0 513.3px,#f6c0bb 0 516.4px,#e8e0ee 0 521.0px,#ff9376 0 525.6px,#f1c3c2 0 528.7px,#f0d5d7 0 531.2px,#d4b5e9 0 534.0px,#eadde9 0 538.6px,#ffc0ae 0 543.8px,#d0b8f5 0 549.0px,#d3bef4 0 550.8px,#c6a9f6 0 553.4px,#c4a7f7 0 558.6px,#cdb5f5 0 561.4px,#ccb3f5 0 564.8px,#cfb8f5 0 568.2px,#c6aaf6 0 571.6px,#c5a8f6 0 575.0px,#ceb6f5 0 577.2px,#ebe9ef 0 579.8px,#e3d0eb 0 585.0px,#ddcff1 0 588.4px,#efd2d6 0 590.2px,#f1e1e2 0 592.7px)"></i><i style="left:607.20px;width:24.30px;background:linear-gradient(#e4daf0 0 3.1px,#e0d4f2 0 5.6px,#e3daf1 0 9.0px,#dfd3f2 0 14.2px,#e7e2f0 0 16.0px,#e6dff0 0 18.2px,#febcaa 0 21.0px,#f7dad3 0 23.2px,#e0d4f1 0 26.3px,#e5def0 0 30.9px,#e0d5f1 0 32.7px,#e1d6f1 0 35.5px,#dac9f3 0 38.2px,#d3bef4 0 40.0px,#dacbf3 0 42.2px,#dbccf3 0 45.6px,#d8c7f3 0 49.0px,#d6c3f4 0 51.2px,#ded0f2 0 53.9px,#d2bdf4 0 56.1px,#ded2f2 0 58.9px,#d7c5f3 0 62.3px,#dfd3f2 0 64.1px,#dbccf3 0 68.7px,#dccef2 0 70.9px,#d0b9f4 0 73.6px,#dccef2 0 78.8px,#ded1f2 0 84.0px,#d9c8f3 0 88.6px,#ddcff2 0 90.4px,#dfd2f2 0 95.0px,#e3d9f1 0 99.6px,#dacaf3 0 103.0px,#dacbf2 0 104.8px,#e1d5f2 0 107.5px,#ddcff2 0 109.3px,#dccef2 0 112.1px,#e5ddf0 0 114.6px,#dccdf2 0 117.5px,#e2d8f1 0 120.9px,#dcccf2 0 123.4px,#d8c7f3 0 126.2px,#ddcef2 0 128.4px,#e0d5f1 0 133.0px,#d2bcf4 0 135.9px,#d7c5f3 0 138.7px,#dfd3f1 0 143.9px,#d4c0f4 0 146.4px,#ded2f2 0 148.6px,#d6c3f4 0 153.2px,#d5c2f4 0 157.8px,#d4c0f4 0 163.0px,#dccdf2 0 165.7px,#d5c2f4 0 168.8px,#dfd3f2 0 171.0px,#dfd3f2 0 173.8px,#d6c4f3 0 176.0px,#d6c3f3 0 180.6px,#ded1f2 0 182.4px,#ded1f2 0 187.0px,#ddcef2 0 189.7px,#d7c5f3 0 192.3px,#d4c0f4 0 197.5px,#d9c8f3 0 200.3px,#ded2f2 0 203.7px,#dbcbf3 0 206.8px,#d6c3f3 0 209.4px,#d3bef4 0 214.0px,#d7c5f3 0 216.6px,#e0d5f1 0 219.7px,#e7e1f0 0 222.6px,#eddee5 0 225.3px,#f7d4cd 0 227.8px,#fec4b4 0 230.5px,#f5e2dd 0 232.7px,#f9dad2 0 237.3px,#ffa188 0 240.2px,#ffbaa7 0 243.0px,#ffb9a6 0 245.6px,#ff7454 0 248.7px,#ffaa93 0 251.3px,#fdc1b1 0 254.2px,#f6cfc7 0 258.8px,#fec0af 0 261.0px,#ff8668 0 263.2px,#fdae99 0 266.0px,#ff967c 0 269.4px,#f1d6db 0 271.9px,#f9d8d0 0 275.0px,#fad4ca 0 277.5px,#e9e5ef 0 280.1px,#f2dbda 0 283.5px,#f5cccc 0 285.3px,#ede9ec 0 290.5px,#e8e2f0 0 292.7px,#e3daf1 0 295.5px,#e1d6f2 0 300.1px,#e3d9f1 0 303.2px,#edeaed 0 306.3px,#f9c7ba 0 309.4px,#e4daf0 0 314.0px,#edc6d1 0 316.6px,#ffc9bb 0 321.2px,#f9d6cd 0 323.8px,#fbd1c6 0 326.0px,#ff644a 0 328.2px,#ff472b 0 331.1px,#ff7556 0 333.7px,#ff7c5e 0 338.9px,#fec0af 0 341.1px,#ff9d84 0 342.9px,#ffa68d 0 345.8px,#e8d8e8 0 351.0px,#efe6e7 0 355.6px,#eae1eb 0 360.8px,#e8d8e9 0 363.4px,#f8d4ca 0 366.3px,#e4cae3 0 369.7px,#f6c7c0 0 374.9px,#fec7b9 0 378.0px,#eddee6 0 379.8px,#f4e4df 0 382.4px,#e9d5e5 0 385.5px,#f0e5e5 0 388.0px,#f2d6d7 0 392.6px,#f6dad3 0 394.8px,#eadae7 0 397.4px,#ebdde7 0 399.2px,#e8d6e6 0 401.9px,#fcbdad 0 404.8px,#ffb09b 0 407.3px,#f3dcd8 0 410.0px,#eec2cb 0 413.4px,#f6d3cb 0 416.8px,#e8dbeb 0 419.4px,#facbbe 0 421.6px,#f4ccc9 0 424.1px,#fbccbf 0 426.7px,#f3dddc 0 430.1px,#f6d7ce 0 432.9px,#f9c8ba 0 435.8px,#e5dcef 0 438.3px,#f6d9d2 0 441.7px,#e7d3e6 0 444.5px,#e1d6ef 0 447.4px,#e6dff0 0 450.8px,#f7cac4 0 453.9px,#e8c4d6 0 459.1px,#edd9e2 0 462.5px,#dcb5de 0 465.2px,#e8d4e6 0 467.7px,#ff866f 0 469.9px,#ff7252 0 472.4px,#ff7052 0 474.9px,#ff7f62 0 477.6px,#ff8566 0 482.8px,#ff977d 0 485.5px,#ffa992 0 487.3px,#ffa68f 0 489.9px,#ff9a81 0 494.5px,#ff9e85 0 497.0px,#ffa289 0 499.9px,#ff9074 0 502.8px,#ff8d72 0 504.6px,#ffc3b3 0 507.1px,#fdbead 0 510.5px,#ffb9a5 0 513.3px,#ffa088 0 516.4px,#facdc1 0 521.0px,#ffbead 0 525.6px,#fab09d 0 528.7px,#febead 0 531.2px,#f9af9e 0 534.0px,#ffa187 0 538.6px,#ff7554 0 543.8px,#cdb5f5 0 549.0px,#d0b9f5 0 550.8px,#c7acf6 0 553.4px,#c1a2f7 0 558.6px,#d2bcf4 0 561.4px,#cbb0f5 0 564.8px,#d1bbf4 0 568.2px,#c5a9f6 0 571.6px,#c9aff6 0 575.0px,#cdb5f5 0 577.2px,#ebdee8 0 579.8px,#e7e1f0 0 585.0px,#e0d4f1 0 588.4px,#f3c9cc 0 590.2px,#e7cade 0 592.7px)"></i><i style="left:631.20px;width:24.30px;background:linear-gradient(#e3daf1 0 3.1px,#e2d8f1 0 5.6px,#e8dfed 0 9.0px,#e0d5f1 0 14.2px,#dccef2 0 16.0px,#e9e1ec 0 18.2px,#f3e2df 0 21.0px,#f3cfd0 0 23.2px,#ded2f2 0 26.3px,#e5ddf0 0 30.9px,#e4dcf0 0 32.7px,#e5ddf0 0 35.5px,#ded0f2 0 38.2px,#e6dfef 0 40.0px,#e0d5f2 0 42.2px,#e5ddf0 0 45.6px,#e0d4f1 0 49.0px,#d9c8f3 0 51.2px,#e1d6f1 0 53.9px,#dccdf2 0 56.1px,#dacbf3 0 58.9px,#e2d8f1 0 62.3px,#dfd2f2 0 64.1px,#e9e3ee 0 68.7px,#ddcff2 0 70.9px,#dbcbf3 0 73.6px,#d8c6f3 0 78.8px,#e1d6f1 0 84.0px,#e1d6f1 0 88.6px,#dccdf3 0 90.4px,#e1d6f1 0 95.0px,#e0d5f2 0 99.6px,#ddd0f2 0 103.0px,#d7c4f3 0 104.8px,#dfd3f2 0 107.5px,#ddcff2 0 109.3px,#dccef2 0 112.1px,#ddd0f2 0 114.6px,#ddcff2 0 117.5px,#dacaf3 0 120.9px,#e1d4f0 0 123.4px,#dbccf2 0 126.2px,#e1d5f1 0 128.4px,#dac9f3 0 133.0px,#e0d5f1 0 135.9px,#ded1f2 0 138.7px,#e7e0f0 0 143.9px,#dccef2 0 146.4px,#e7dfef 0 148.6px,#dbcbf3 0 153.2px,#dacaf3 0 157.8px,#dfd2f2 0 163.0px,#e0d4f1 0 165.7px,#e0d5f1 0 168.8px,#e1d6f1 0 171.0px,#dccdf2 0 173.8px,#ded1f2 0 176.0px,#dac9f3 0 180.6px,#e5def0 0 182.4px,#dbccf2 0 187.0px,#e3d5ee 0 189.7px,#d3bdf4 0 192.3px,#dfd3f2 0 197.5px,#e1d6f1 0 200.3px,#d7c5f3 0 203.7px,#ddcef2 0 206.8px,#d2bcf4 0 209.4px,#cdb5f5 0 214.0px,#ceb6f5 0 216.6px,#ddd0f2 0 219.7px,#e3d7ee 0 222.6px,#ff7e5f 0 225.3px,#f5e0db 0 227.8px,#ead9e6 0 230.5px,#ebd4e1 0 232.7px,#e2cae4 0 237.3px,#ff9477 0 240.2px,#fec0af 0 243.0px,#ffbaa7 0 245.6px,#fcc1b2 0 248.7px,#fdcabc 0 251.3px,#f8cdc3 0 254.2px,#fec1b1 0 258.8px,#f9cabe 0 261.0px,#efb9b7 0 263.2px,#f2b8b8 0 266.0px,#fbcdc1 0 269.4px,#f4e2dd 0 271.9px,#febdab 0 275.0px,#f3ccc6 0 277.5px,#ebdfe9 0 280.1px,#f4d3d3 0 283.5px,#eae1eb 0 285.3px,#d9c8f3 0 290.5px,#d6c3f4 0 292.7px,#d3bff4 0 295.5px,#d9caf3 0 300.1px,#dbccf3 0 303.2px,#d8c6f3 0 306.3px,#e6dff0 0 309.4px,#f1d8db 0 314.0px,#f7d2cc 0 316.6px,#f6ddd7 0 321.2px,#fad6cc 0 323.8px,#eeccd1 0 326.0px,#f7dcd4 0 328.2px,#f8cec6 0 331.1px,#e8ccdd 0 333.7px,#e5def0 0 338.9px,#f8d4cb 0 341.1px,#fbd4c9 0 342.9px,#eed7de 0 345.8px,#ecdbe5 0 351.0px,#e4dcef 0 355.6px,#f8d6cd 0 360.8px,#d8c7f3 0 363.4px,#f7d4cb 0 366.3px,#f0dee1 0 369.7px,#f7d6cc 0 374.9px,#f1dade 0 378.0px,#fbd0c4 0 379.8px,#ffc2b1 0 382.4px,#eddde5 0 385.5px,#e7d8e9 0 388.0px,#f4dbd7 0 392.6px,#fcc2b3 0 394.8px,#f6d2cb 0 397.4px,#f1dcde 0 399.2px,#e7d3e6 0 401.9px,#f2e5e3 0 404.8px,#ffbba9 0 407.3px,#e9d6e6 0 410.0px,#fac9bc 0 413.4px,#f4e3de 0 416.8px,#efd2d6 0 419.4px,#f2c7c5 0 421.6px,#ded1f2 0 424.1px,#e9cedd 0 426.7px,#f1c8cf 0 430.1px,#f2dfdf 0 432.9px,#f4cdcc 0 435.8px,#edcad7 0 438.3px,#f5d7d5 0 441.7px,#e7dbec 0 444.5px,#e8e0ee 0 447.4px,#dbcdf2 0 450.8px,#f8d4ca 0 453.9px,#e4daef 0 459.1px,#e8e3f0 0 462.5px,#eae3ed 0 465.2px,#e6dff0 0 467.7px,#fdcdc1 0 469.9px,#f8cbc2 0 472.4px,#f5ddd9 0 474.9px,#fdc4b5 0 477.6px,#fac3b5 0 482.8px,#e3d2ec 0 485.5px,#f4d4d4 0 487.3px,#fdc9bb 0 489.9px,#fccbbe 0 494.5px,#f0bbc2 0 497.0px,#f4d5d5 0 499.9px,#f9cabd 0 502.8px,#f2c6c9 0 504.6px,#f1b7ba 0 507.1px,#fec4b5 0 510.5px,#f4cac4 0 513.3px,#fbd5cc 0 516.4px,#fbd3c9 0 521.0px,#f5d5d0 0 525.6px,#f7c5ba 0 528.7px,#fad6cd 0 531.2px,#e4dbf1 0 534.0px,#fbd4ca 0 538.6px,#fcccbf 0 543.8px,#c4a7f7 0 549.0px,#ccb3f5 0 550.8px,#c2a5f7 0 553.4px,#c6aaf6 0 558.6px,#ccb3f5 0 561.4px,#c3a6f7 0 564.8px,#d0b9f5 0 568.2px,#cbb2f6 0 571.6px,#ccb3f5 0 575.0px,#ccb4f5 0 577.2px,#f2d4d7 0 579.8px,#eedbe1 0 585.0px,#e4c5df 0 588.4px,#e5d7ec 0 590.2px,#ddb7dd 0 592.7px)"></i><i style="left:655.20px;width:24.30px;background:linear-gradient(#e2d9f1 0 3.1px,#e4dbf1 0 5.6px,#e7e0ef 0 9.0px,#e4dbf0 0 14.2px,#ddcff2 0 16.0px,#e6dff0 0 18.2px,#f0d6db 0 21.0px,#f1cacf 0 23.2px,#ded1f2 0 26.3px,#e7e0f0 0 30.9px,#e7e1f0 0 32.7px,#ded0f2 0 35.5px,#ddcff2 0 38.2px,#e4dbef 0 40.0px,#e0d3f2 0 42.2px,#e4ddf0 0 45.6px,#e2d9f1 0 49.0px,#d9c8f3 0 51.2px,#ded2f2 0 53.9px,#d8c7f3 0 56.1px,#dbccf2 0 58.9px,#e2d7f1 0 62.3px,#e2d9f1 0 64.1px,#e8dfee 0 68.7px,#ded2f2 0 70.9px,#d9c8f3 0 73.6px,#d9c8f3 0 78.8px,#e2d8f1 0 84.0px,#e1d5f2 0 88.6px,#ded1f2 0 90.4px,#e0d4f1 0 95.0px,#dfd2f2 0 99.6px,#e0d5f1 0 103.0px,#d7c5f3 0 104.8px,#e3d9f1 0 107.5px,#dfd1f2 0 109.3px,#ddd0f2 0 112.1px,#ded0f2 0 114.6px,#ddcef2 0 117.5px,#d8c7f3 0 120.9px,#dccdf2 0 123.4px,#dbccf2 0 126.2px,#ddcef2 0 128.4px,#dac9f3 0 133.0px,#e0d4f2 0 135.9px,#ded0f2 0 138.7px,#e5ddf0 0 143.9px,#dbccf2 0 146.4px,#e5def0 0 148.6px,#dacaf3 0 153.2px,#d8c7f3 0 157.8px,#ded1f2 0 163.0px,#dfd3f2 0 165.7px,#e3d9f1 0 168.8px,#e1d5f1 0 171.0px,#ddd0f2 0 173.8px,#ded0f2 0 176.0px,#dac9f3 0 180.6px,#e1d5f1 0 182.4px,#dfd2f2 0 187.0px,#e1d4ef 0 189.7px,#d4bff4 0 192.3px,#e2d8f1 0 197.5px,#e0d3f1 0 200.3px,#d5c1f4 0 203.7px,#dccef2 0 206.8px,#d1bbf4 0 209.4px,#cfb7f5 0 214.0px,#cdb5f5 0 216.6px,#ddd0f2 0 219.7px,#e5daee 0 222.6px,#f7dbd5 0 225.3px,#f6ded8 0 227.8px,#f4d5d4 0 230.5px,#edceda 0 232.7px,#e8cfe1 0 237.3px,#ff9276 0 240.2px,#ffb6a2 0 243.0px,#ffb6a3 0 245.6px,#fdbaa8 0 248.7px,#fccbbe 0 251.3px,#fec3b4 0 254.2px,#fdcfc3 0 258.8px,#fcc3b3 0 261.0px,#f7b4a8 0 263.2px,#efb6bd 0 266.0px,#fbc8ba 0 269.4px,#f6e0da 0 271.9px,#fccfc3 0 275.0px,#f3cec8 0 277.5px,#e4dbf0 0 280.1px,#f3d4d6 0 283.5px,#ebe5ee 0 285.3px,#dacaf3 0 290.5px,#d4c1f4 0 292.7px,#d7c5f3 0 295.5px,#d8c7f3 0 300.1px,#dbcbf3 0 303.2px,#d6c3f3 0 306.3px,#ebe0e9 0 309.4px,#f3d2d1 0 314.0px,#f5deda 0 316.6px,#eddfe5 0 321.2px,#eed6dd 0 323.8px,#f3d7d0 0 326.0px,#f5d5d3 0 328.2px,#fad3c9 0 331.1px,#e4cce4 0 333.7px,#dbcdf2 0 338.9px,#f5d5cd 0 341.1px,#fdcec2 0 342.9px,#eaceda 0 345.8px,#efe7e7 0 351.0px,#e3d1eb 0 355.6px,#edd6e0 0 360.8px,#d3bff4 0 363.4px,#edd1d8 0 366.3px,#f7dcd4 0 369.7px,#faccbf 0 374.9px,#ecdce7 0 378.0px,#fdcfc4 0 379.8px,#fdc0b0 0 382.4px,#f3cbcf 0 385.5px,#ebd1de 0 388.0px,#efd9de 0 392.6px,#fcc0b0 0 394.8px,#f4ded9 0 397.4px,#f9dad2 0 399.2px,#e2d7f0 0 401.9px,#eddde5 0 404.8px,#febeae 0 407.3px,#e7dbed 0 410.0px,#f9ccc0 0 413.4px,#f9d2c8 0 416.8px,#f1d1d6 0 419.4px,#fcc7b9 0 421.6px,#e0c0e2 0 424.1px,#edd0db 0 426.7px,#f2d4d6 0 430.1px,#f0e0e2 0 432.9px,#f4e4e0 0 435.8px,#f1c9cf 0 438.3px,#f7d3ce 0 441.7px,#eaccdb 0 444.5px,#e9cedf 0 447.4px,#d5c2f4 0 450.8px,#f3dede 0 453.9px,#e1d6f1 0 459.1px,#e7e0ef 0 462.5px,#e9e5ef 0 465.2px,#e7e0f0 0 467.7px,#f9d0c4 0 469.9px,#f8c2b7 0 472.4px,#f1dedf 0 474.9px,#facdc1 0 477.6px,#fac3b5 0 482.8px,#ebdae5 0 485.5px,#fcd1c6 0 487.3px,#fdccbf 0 489.9px,#fccdc0 0 494.5px,#f1c3c9 0 497.0px,#f8dbd3 0 499.9px,#fbd2c7 0 502.8px,#f7ccc5 0 504.6px,#f0babf 0 507.1px,#fcd0c4 0 510.5px,#facfc4 0 513.3px,#f9d9d1 0 516.4px,#facec2 0 521.0px,#f4d2cd 0 525.6px,#f6c5be 0 528.7px,#f4d6d5 0 531.2px,#e4d9ef 0 534.0px,#f4e3de 0 538.6px,#f8ccc2 0 543.8px,#c5a9f6 0 549.0px,#ccb3f5 0 550.8px,#c3a5f7 0 553.4px,#c6aaf7 0 558.6px,#cdb5f5 0 561.4px,#c2a4f7 0 564.8px,#ceb6f5 0 568.2px,#c9aff6 0 571.6px,#ceb5f5 0 575.0px,#ccb4f5 0 577.2px,#f6d1cf 0 579.8px,#eed7df 0 585.0px,#e5bcd4 0 588.4px,#e9deeb 0 590.2px,#e2bfdc 0 592.7px)"></i><i style="left:679.20px;width:24.30px;background:linear-gradient(#e1d6f1 0 3.1px,#e2d8f1 0 5.6px,#e5dcef 0 9.0px,#e3dbf1 0 14.2px,#dfd1f2 0 16.0px,#e6dcee 0 18.2px,#ecd9e4 0 21.0px,#f3c7c8 0 23.2px,#ddd0f2 0 26.3px,#e5dff0 0 30.9px,#e6dff0 0 32.7px,#e3d9f1 0 35.5px,#ded0f2 0 38.2px,#e6deef 0 40.0px,#ded0f2 0 42.2px,#e5ddf0 0 45.6px,#e0d4f2 0 49.0px,#d8c7f3 0 51.2px,#e1d5f2 0 53.9px,#dbcbf3 0 56.1px,#dbccf3 0 58.9px,#e1d6f1 0 62.3px,#e1d6f1 0 64.1px,#e7e0f0 0 68.7px,#dccdf2 0 70.9px,#dbccf3 0 73.6px,#d7c5f3 0 78.8px,#e0d5f1 0 84.0px,#e3daf1 0 88.6px,#ddcef2 0 90.4px,#e0d5f1 0 95.0px,#ded1f2 0 99.6px,#e0d4f2 0 103.0px,#d7c5f3 0 104.8px,#e0d4f2 0 107.5px,#dbcbf2 0 109.3px,#dccdf2 0 112.1px,#ddd0f2 0 114.6px,#e0d4f2 0 117.5px,#dacaf3 0 120.9px,#daccf2 0 123.4px,#dbcbf3 0 126.2px,#ded2f2 0 128.4px,#d9c8f3 0 133.0px,#e1d5f2 0 135.9px,#decff2 0 138.7px,#e6dff0 0 143.9px,#dccdf2 0 146.4px,#e6dff0 0 148.6px,#dccdf2 0 153.2px,#dbccf3 0 157.8px,#ded1f2 0 163.0px,#dfd3f1 0 165.7px,#e2d7f1 0 168.8px,#e1d6f1 0 171.0px,#dacaf3 0 173.8px,#ddcff2 0 176.0px,#dac9f3 0 180.6px,#e2d9f1 0 182.4px,#ded1f2 0 187.0px,#e3d4ed 0 189.7px,#d3bef4 0 192.3px,#e4daf0 0 197.5px,#ded1f2 0 200.3px,#d6c2f4 0 203.7px,#dbcbf3 0 206.8px,#d1bbf4 0 209.4px,#ceb6f5 0 214.0px,#d1bbf5 0 216.6px,#ded1f2 0 219.7px,#e0d2f0 0 222.6px,#e5daed 0 225.3px,#f4e1dc 0 227.8px,#e8dceb 0 230.5px,#efd8dd 0 232.7px,#e6c8df 0 237.3px,#ff9378 0 240.2px,#ffb19c 0 243.0px,#ffbead 0 245.6px,#fcb9a7 0 248.7px,#fdc8b9 0 251.3px,#facec2 0 254.2px,#f9d0c6 0 258.8px,#fcc0b0 0 261.0px,#f4bbb3 0 263.2px,#f1b2b4 0 266.0px,#ffbdab 0 269.4px,#f8dbd3 0 271.9px,#fcc9bb 0 275.0px,#f2c8c4 0 277.5px,#e9e4ef 0 280.1px,#f5c4c2 0 283.5px,#e7e1f0 0 285.3px,#dacaf3 0 290.5px,#d5c1f4 0 292.7px,#d6c3f4 0 295.5px,#d8c7f3 0 300.1px,#dbcbf3 0 303.2px,#d9c8f3 0 306.3px,#e6dcee 0 309.4px,#f2d5d8 0 314.0px,#f0dee1 0 316.6px,#f6ddd7 0 321.2px,#fbd0c4 0 323.8px,#f4ddd7 0 326.0px,#f6d2d0 0 328.2px,#f7c9c1 0 331.1px,#e8d1e3 0 333.7px,#dacdf2 0 338.9px,#fbccbf 0 341.1px,#fac5b6 0 342.9px,#ecd8e2 0 345.8px,#f4e3df 0 351.0px,#e4d4ea 0 355.6px,#f5e0da 0 360.8px,#d8c7f3 0 363.4px,#f2c8ca 0 366.3px,#efe9ea 0 369.7px,#faccc0 0 374.9px,#f4dfdb 0 378.0px,#fbcec2 0 379.8px,#ffc1b0 0 382.4px,#ead5e3 0 385.5px,#e5cee5 0 388.0px,#f3dcd8 0 392.6px,#fbbfaf 0 394.8px,#f7dbd4 0 397.4px,#f7ded7 0 399.2px,#ddcef2 0 401.9px,#ece6ec 0 404.8px,#fdc9bc 0 407.3px,#e5d8ed 0 410.0px,#fccabd 0 413.4px,#f5ded9 0 416.8px,#ead3e2 0 419.4px,#facdc1 0 421.6px,#e8cee1 0 424.1px,#ebcfdb 0 426.7px,#f1d7dc 0 430.1px,#f6dad3 0 432.9px,#eddbe4 0 435.8px,#f0bfc8 0 438.3px,#efd5dc 0 441.7px,#ddc9ed 0 444.5px,#ead4e3 0 447.4px,#dbcdf2 0 450.8px,#f7d5d0 0 453.9px,#e5dcf0 0 459.1px,#e8e3f0 0 462.5px,#eae6ef 0 465.2px,#e5ddf0 0 467.7px,#fbcabd 0 469.9px,#f7dad2 0 472.4px,#f3e4e1 0 474.9px,#fdcfc3 0 477.6px,#fbc1b1 0 482.8px,#e1d5f2 0 485.5px,#f3dad9 0 487.3px,#fec9bb 0 489.9px,#fbd2c7 0 494.5px,#f1c6ce 0 497.0px,#f4d9d2 0 499.9px,#fccdc0 0 502.8px,#f2bdbe 0 504.6px,#f1c9c9 0 507.1px,#fec6b7 0 510.5px,#fcccbf 0 513.3px,#f3e1de 0 516.4px,#fad7cd 0 521.0px,#f1d6d7 0 525.6px,#f4c6c6 0 528.7px,#f5d1ce 0 531.2px,#e0d4f2 0 534.0px,#f6ddd6 0 538.6px,#facfc3 0 543.8px,#c4a7f7 0 549.0px,#cab0f6 0 550.8px,#be9ef7 0 553.4px,#c8acf6 0 558.6px,#cdb5f5 0 561.4px,#c2a5f7 0 564.8px,#d0baf5 0 568.2px,#cbb2f5 0 571.6px,#cdb4f5 0 575.0px,#ccb3f5 0 577.2px,#ff6544 0 579.8px,#eddbe3 0 585.0px,#e8c3d8 0 588.4px,#eacfde 0 590.2px,#d8b7e6 0 592.7px)"></i><i style="left:703.20px;width:24.30px;background:linear-gradient(#e3daf1 0 3.1px,#dfd3f2 0 5.6px,#e2d9f1 0 9.0px,#e3dbf0 0 14.2px,#dcccf3 0 16.0px,#e7e0ef 0 18.2px,#e5d3e9 0 21.0px,#eec8d4 0 23.2px,#ddcff2 0 26.3px,#e5dcf0 0 30.9px,#e6dff0 0 32.7px,#e0d5f1 0 35.5px,#d9c8f3 0 38.2px,#e5daee 0 40.0px,#dbccf3 0 42.2px,#e5ddf0 0 45.6px,#dfd3f2 0 49.0px,#d8c7f3 0 51.2px,#ded0f2 0 53.9px,#dccef2 0 56.1px,#dbccf3 0 58.9px,#e1d6f1 0 62.3px,#e2d7f1 0 64.1px,#eadeea 0 68.7px,#ddcff2 0 70.9px,#ded0f2 0 73.6px,#d4c0f4 0 78.8px,#fad7cf 0 84.0px,#e2d7f1 0 88.6px,#dbcbf3 0 90.4px,#e3daf1 0 95.0px,#dfd2f2 0 99.6px,#dfd3f2 0 103.0px,#d5c2f4 0 104.8px,#e0d5f1 0 107.5px,#dfd2f2 0 109.3px,#dccff2 0 112.1px,#ddcff2 0 114.6px,#dcccf2 0 117.5px,#dac9f3 0 120.9px,#dccef2 0 123.4px,#dccdf2 0 126.2px,#dccdf2 0 128.4px,#dbccf3 0 133.0px,#e0d5f1 0 135.9px,#ded1f2 0 138.7px,#e5ddf0 0 143.9px,#ded0f2 0 146.4px,#e5ddf0 0 148.6px,#ddcff2 0 153.2px,#dccdf2 0 157.8px,#dfd2f2 0 163.0px,#e0d4f1 0 165.7px,#e2d9f1 0 168.8px,#e2d8f1 0 171.0px,#ded1f2 0 173.8px,#dfd2f2 0 176.0px,#dac9f3 0 180.6px,#e3dbf1 0 182.4px,#dacbf3 0 187.0px,#e2d6f0 0 189.7px,#d2bcf4 0 192.3px,#e0d5f2 0 197.5px,#ded1f2 0 200.3px,#d5c1f4 0 203.7px,#ddcff2 0 206.8px,#d2bcf4 0 209.4px,#ceb6f5 0 214.0px,#d0baf5 0 216.6px,#e0d4f0 0 219.7px,#e3d8f0 0 222.6px,#ebe0ea 0 225.3px,#ff9073 0 227.8px,#ede6eb 0 230.5px,#ebd6e2 0 232.7px,#e9cbdd 0 237.3px,#fec0af 0 240.2px,#f4d6d1 0 243.0px,#fec8ba 0 245.6px,#fbbdad 0 248.7px,#fad0c4 0 251.3px,#ff7959 0 254.2px,#ff7b5b 0 258.8px,#fdc2b2 0 261.0px,#f0b9b9 0 263.2px,#f0b3b8 0 266.0px,#fdbcaa 0 269.4px,#f1dcdd 0 271.9px,#f7dbd4 0 275.0px,#f5cdc5 0 277.5px,#e0d4f2 0 280.1px,#f7ceca 0 283.5px,#e6deef 0 285.3px,#dbccf2 0 290.5px,#d5c2f4 0 292.7px,#d6c3f4 0 295.5px,#d9c9f3 0 300.1px,#dccef2 0 303.2px,#d7c6f3 0 306.3px,#e8e0ee 0 309.4px,#f6d9d4 0 314.0px,#f5dcd9 0 316.6px,#f5ded8 0 321.2px,#f8d5cc 0 323.8px,#f5dad2 0 326.0px,#fad5ca 0 328.2px,#f9cbbe 0 331.1px,#e8d0e3 0 333.7px,#dfd3f2 0 338.9px,#f3dad5 0 341.1px,#ffc6b7 0 342.9px,#e5d4ea 0 345.8px,#f0dee1 0 351.0px,#e4d7ed 0 355.6px,#f7ddd7 0 360.8px,#d8c7f3 0 363.4px,#eec9cf 0 366.3px,#efe2e5 0 369.7px,#f7d1ca 0 374.9px,#ede6ea 0 378.0px,#f7d7d0 0 379.8px,#fdc1b0 0 382.4px,#f4ddda 0 385.5px,#e4d6ec 0 388.0px,#f2e0e0 0 392.6px,#fbd3c9 0 394.8px,#f5ddd6 0 397.4px,#f5e1dc 0 399.2px,#dfd3f2 0 401.9px,#ecdfe7 0 404.8px,#fcc7b8 0 407.3px,#e8d4e5 0 410.0px,#febfad 0 413.4px,#f8d9d1 0 416.8px,#f1d5d9 0 419.4px,#fdcabd 0 421.6px,#e3c1dc 0 424.1px,#ead1e0 0 426.7px,#f1cbcf 0 430.1px,#f4e4e0 0 432.9px,#f0e1e4 0 435.8px,#efc4cb 0 438.3px,#f5e1dc 0 441.7px,#e2c3df 0 444.5px,#e6cfe5 0 447.4px,#d9caf3 0 450.8px,#f2e1e0 0 453.9px,#e4d9ef 0 459.1px,#e7e0f0 0 462.5px,#e9e4f0 0 465.2px,#e6def0 0 467.7px,#fdc5b5 0 469.9px,#facfc3 0 472.4px,#f8dbd4 0 474.9px,#fcd0c4 0 477.6px,#fdbba9 0 482.8px,#e5d7ec 0 485.5px,#f7ded7 0 487.3px,#fccabd 0 489.9px,#fdccbf 0 494.5px,#f2d0d1 0 497.0px,#f4d8d1 0 499.9px,#fcbfae 0 502.8px,#faccbf 0 504.6px,#edb7c0 0 507.1px,#fec1b0 0 510.5px,#fdc8ba 0 513.3px,#f9d8cf 0 516.4px,#f9d9d1 0 521.0px,#f5d5d1 0 525.6px,#f8cdc1 0 528.7px,#f7d5d0 0 531.2px,#ded0f2 0 534.0px,#f8d7ce 0 538.6px,#f7d2cb 0 543.8px,#c3a6f7 0 549.0px,#cbb1f5 0 550.8px,#c3a5f7 0 553.4px,#c7acf6 0 558.6px,#cdb4f5 0 561.4px,#c3a6f7 0 564.8px,#d1baf5 0 568.2px,#c9aff6 0 571.6px,#cab0f6 0 575.0px,#d0b8f5 0 577.2px,#f5d6d3 0 579.8px,#edd4de 0 585.0px,#e8cddf 0 588.4px,#f0dce0 0 590.2px,#ddc4e9 0 592.7px)"></i><i style="left:727.20px;width:27.95px;background:linear-gradient(#e0d4f1 0 3.1px,#e0d4f2 0 5.6px,#e4dbf1 0 9.0px,#e3daf1 0 14.2px,#dbccf2 0 16.0px,#e7e0ef 0 18.2px,#f3e4e0 0 21.0px,#f5d2d2 0 23.2px,#ddcef2 0 26.3px,#e2d8f1 0 30.9px,#e7e2f0 0 32.7px,#e0d5f1 0 35.5px,#e0d4f1 0 38.2px,#e6dff0 0 40.0px,#ddcef2 0 42.2px,#e4dcf0 0 45.6px,#e1d6f1 0 49.0px,#dacaf3 0 51.2px,#ded1f2 0 53.9px,#dccdf2 0 56.1px,#dacaf3 0 58.9px,#e3d9f1 0 62.3px,#e4dbf1 0 64.1px,#e8e4f0 0 68.7px,#ded1f2 0 70.9px,#ded1f2 0 73.6px,#d7c5f3 0 78.8px,#e0d5f1 0 84.0px,#e2d8f1 0 88.6px,#dbccf2 0 90.4px,#e2d7f1 0 95.0px,#ddcff2 0 99.6px,#ded1f2 0 103.0px,#d6c3f4 0 104.8px,#e4dbf1 0 107.5px,#e0d4f2 0 109.3px,#ddcff2 0 112.1px,#ded0f2 0 114.6px,#dacbf3 0 117.5px,#d9c8f3 0 120.9px,#dfd3f2 0 123.4px,#dacbf3 0 126.2px,#dccdf2 0 128.4px,#d6c3f3 0 133.0px,#e2d7f1 0 135.9px,#dbccf2 0 138.7px,#e3daf1 0 143.9px,#e0d4f2 0 146.4px,#e3daf1 0 148.6px,#dbcdf3 0 153.2px,#dbccf2 0 157.8px,#ded0f2 0 163.0px,#e1d5f1 0 165.7px,#e3d9f1 0 168.8px,#e2d8f1 0 171.0px,#ddcff2 0 173.8px,#ddcff2 0 176.0px,#dacaf3 0 180.6px,#e1d6f1 0 182.4px,#e0d4f1 0 187.0px,#e3d7f0 0 189.7px,#d1bbf5 0 192.3px,#e3dbf1 0 197.5px,#ded1f2 0 200.3px,#d4bff4 0 203.7px,#ddcff2 0 206.8px,#d2bdf4 0 209.4px,#d1baf5 0 214.0px,#ceb6f5 0 216.6px,#ded1f2 0 219.7px,#e1d6f1 0 222.6px,#e6dbee 0 225.3px,#facfc4 0 227.8px,#f1d6da 0 230.5px,#ebdee7 0 232.7px,#e4d5ea 0 237.3px,#ff8f72 0 240.2px,#ffb39f 0 243.0px,#fec1b1 0 245.6px,#feb29e 0 248.7px,#fdc8b9 0 251.3px,#facabc 0 254.2px,#fbcec2 0 258.8px,#fdb7a4 0 261.0px,#f6c3b8 0 263.2px,#f1b5b6 0 266.0px,#ffb6a3 0 269.4px,#eedce1 0 271.9px,#f9d4cb 0 275.0px,#f3d1c8 0 277.5px,#e4dcf1 0 280.1px,#f9d5cc 0 283.5px,#e7d1e5 0 285.3px,#ded0f2 0 290.5px,#d5c2f4 0 292.7px,#d5c2f4 0 295.5px,#dacbf3 0 300.1px,#d9c9f3 0 303.2px,#d9c7f3 0 306.3px,#e4d1ea 0 309.4px,#ecd6e0 0 314.0px,#f4cccc 0 316.6px,#eedee4 0 321.2px,#f9d3c8 0 323.8px,#facec2 0 326.0px,#f5dbd7 0 328.2px,#fdcabc 0 331.1px,#e7cbde 0 333.7px,#e2d3ed 0 338.9px,#f9cbbf 0 341.1px,#fcd2c7 0 342.9px,#eed9e0 0 345.8px,#f0d6dc 0 351.0px,#e5d7eb 0 355.6px,#f5d3d2 0 360.8px,#d8c6f3 0 363.4px,#eccbd6 0 366.3px,#f8dbd3 0 369.7px,#f5c4be 0 374.9px,#eed1d9 0 378.0px,#fbcbbe 0 379.8px,#ffbaa8 0 382.4px,#f3e5e1 0 385.5px,#dfd5f1 0 388.0px,#f7d8d2 0 392.6px,#f7c7c1 0 394.8px,#f2d3d3 0 397.4px,#fcd1c6 0 399.2px,#e1d7f1 0 401.9px,#eddde5 0 404.8px,#febaa8 0 407.3px,#e9e2ee 0 410.0px,#fec0af 0 413.4px,#f4e1dd 0 416.8px,#f2d3d4 0 419.4px,#f2c9cd 0 421.6px,#ddc7ec 0 424.1px,#e7cbde 0 426.7px,#f7d7d1 0 430.1px,#f1dbdd 0 432.9px,#f3dedd 0 435.8px,#edd2dc 0 438.3px,#f9d4c9 0 441.7px,#e2d0ec 0 444.5px,#ead6e4 0 447.4px,#d3c0f4 0 450.8px,#f8d5ce 0 453.9px,#e6dff0 0 459.1px,#e6def0 0 462.5px,#e6dff0 0 465.2px,#e6dff0 0 467.7px,#ffc0af 0 469.9px,#f9d3c9 0 472.4px,#f3e0de 0 474.9px,#fdc0b0 0 477.6px,#fac5b6 0 482.8px,#dfd4f1 0 485.5px,#f8dbd4 0 487.3px,#fdc8ba 0 489.9px,#fad6cc 0 494.5px,#efb9c0 0 497.0px,#f2d7d6 0 499.9px,#fdc1b0 0 502.8px,#f4bfbe 0 504.6px,#f7c7c1 0 507.1px,#fec6b7 0 510.5px,#f7d0c5 0 513.3px,#f7ddd7 0 516.4px,#fbd2c7 0 521.0px,#edd2d9 0 525.6px,#f5bfb9 0 528.7px,#f1ddde 0 531.2px,#e6dff0 0 534.0px,#f9d9d0 0 538.6px,#f6ccc6 0 543.8px,#c5a8f6 0 549.0px,#cbb2f6 0 550.8px,#c3a5f7 0 553.4px,#c8acf6 0 558.6px,#ceb6f5 0 561.4px,#c2a3f7 0 564.8px,#d0baf5 0 568.2px,#cdb4f5 0 571.6px,#cbb1f6 0 575.0px,#cdb4f5 0 577.2px,#f6cbc6 0 579.8px,#ece1ea 0 585.0px,#e4c2db 0 588.4px,#ead7e4 0 590.2px,#d9b8e6 0 592.7px)"></i></div>
<svg width="1344" height="960" viewBox="0 0 1344 960">
<path d="M91.7 14.7H65.3V15.2H91.7M65.3 14.9H60.8V15.7H91.7M91.7 14.2H59.5V15.3H60.8M91.7 16.2H70.5V16.7H91.7M59.5 14.7H57.4V16.5H70.5M91.7 17.3H60.4V17.8H91.7M57.4 15.6H57.0V17.5H60.4M91.7 18.3H77.6V18.8H91.7M77.6 18.6H70.9V19.3H91.7M57.0 16.6H56.5V18.9H70.9M91.7 20.4H55.5V20.9H91.7M91.7 21.9H66.1V22.4H91.7M66.1 22.2H65.7V22.9H91.7M91.7 21.4H64.3V22.6H65.7M91.7 23.5H77.9V24.0H91.7M77.9 23.7H74.5V24.5H91.7M64.3 22.0H58.6V24.1H74.5M55.5 20.6H52.7V23.0H58.6M91.7 19.8H52.1V21.8H52.7M56.5 17.8H40.5V20.8H52.1M91.7 26.6H77.3V27.1H91.7M91.7 26.0H65.9V26.8H77.3M91.7 25.5H64.6V26.4H65.9M91.7 28.1H68.5V28.6H91.7M91.7 27.6H67.5V28.4H68.5M91.7 29.1H67.7V29.7H91.7M67.5 28.0H64.4V29.4H67.7M91.7 30.2H77.5V30.7H91.7M64.4 28.7H63.5V30.4H77.5M63.5 29.6H59.6V31.2H91.7M64.6 26.0H59.0V30.4H59.6M91.7 25.0H52.2V28.2H59.0M91.7 32.2H58.9V32.8H91.7M58.9 32.5H56.1V33.3H91.7M56.1 32.9H54.4V33.8H91.7M91.7 31.7H54.0V33.3H54.4M52.2 26.6H50.9V32.5H54.0M91.7 34.8H77.2V35.4H91.7M77.2 35.1H58.6V35.9H91.7M91.7 34.3H51.7V35.5H58.6M91.7 36.4H74.3V36.9H91.7M91.7 37.9H64.8V38.5H91.7M91.7 37.4H57.2V38.2H64.8M74.3 36.6H56.8V37.8H57.2M51.7 34.9H51.3V37.2H56.8M50.9 29.6H50.4V36.1H51.3M91.7 39.5H68.1V40.0H91.7M91.7 41.0H73.3V41.6H91.7M91.7 40.5H70.0V41.3H73.3M68.1 39.7H66.4V40.9H70.0M91.7 39.0H61.6V40.3H66.4M91.7 42.1H77.1V42.6H91.7M91.7 43.1H75.5V43.6H91.7M91.7 44.1H77.0V44.7H91.7M75.5 43.4H70.6V44.4H77.0M91.7 46.2H72.5V46.7H91.7M91.7 45.7H72.1V46.5H72.5M91.7 47.2H72.2V47.8H91.7M72.1 46.1H70.8V47.5H72.2M91.7 45.2H70.2V46.8H70.8M91.7 48.3H74.8V48.8H91.7M91.7 49.3H71.6V49.8H91.7M74.8 48.5H70.7V49.6H71.6M70.2 46.0H69.1V49.0H70.7M69.1 47.5H68.7V50.3H91.7M91.7 50.9H69.1V51.4H91.7M91.7 52.4H77.8V52.9H91.7M91.7 51.9H73.1V52.7H77.8M73.1 52.3H70.6V53.4H91.7M69.1 51.1H67.0V52.9H70.6M68.7 48.9H66.1V52.0H67.0M70.6 43.9H64.9V50.5H66.1M91.7 54.5H75.6V55.0H91.7M91.7 54.0H70.2V54.7H75.6M91.7 55.5H73.6V56.0H91.7M73.6 55.8H72.1V56.5H91.7M70.2 54.3H69.8V56.2H72.1M91.7 57.1H75.5V57.6H91.7M91.7 58.1H76.0V58.6H91.7M75.5 57.3H75.1V58.4H76.0M91.7 59.1H77.0V59.6H91.7M77.0 59.4H71.7V60.2H91.7M75.1 57.8H71.3V59.8H71.7M71.3 58.8H69.6V60.7H91.7M91.7 61.2H73.1V61.7H91.7M69.6 59.7H68.1V61.5H73.1M69.8 55.2H67.3V60.6H68.1M64.9 47.2H63.3V57.9H67.3M77.1 42.3H62.0V52.5H63.3M61.6 39.6H60.8V47.4H62.0M50.4 32.8H40.0V43.5H60.8M40.0 32.8H40.0V61.0H40.0M91.7 62.2H77.9V62.7H91.7M77.9 62.5H68.0V63.3H91.7M91.7 63.8H70.6V64.3H91.7M68.0 62.9H67.6V64.0H70.6M67.6 63.5H65.5V64.8H91.7M91.7 66.4H72.3V66.9H91.7M91.7 65.8H66.7V66.6H72.3M91.7 65.3H65.3V66.2H66.7M65.5 64.1H64.5V65.8H65.3M91.7 67.4H67.1V67.9H91.7M64.5 65.0H56.8V67.7H67.1M91.7 68.4H76.5V68.9H91.7M76.5 68.7H68.8V69.5H91.7M68.8 69.1H66.7V70.0H91.7M91.7 70.5H74.5V71.0H91.7M74.5 70.8H66.2V71.5H91.7M66.2 71.1H62.9V72.0H91.7M66.7 69.5H60.5V71.6H62.9M91.7 72.6H74.7V73.1H91.7M74.7 72.8H71.9V73.6H91.7M60.5 70.6H57.7V73.2H71.9M56.8 66.3H55.8V71.9H57.7M91.7 74.1H59.2V74.6H91.7M91.7 76.2H64.9V76.7H91.7M91.7 75.7H61.7V76.4H64.9M91.7 75.1H60.7V76.1H61.7M59.2 74.4H55.8V75.6H60.7M55.8 69.1H50.6V75.0H55.8M91.7 77.7H60.6V78.3H91.7M60.6 78.0H60.2V78.8H91.7M91.7 77.2H52.0V78.4H60.2M50.6 72.0H46.0V77.8H52.0M91.7 79.8H61.5V80.3H91.7M91.7 79.3H47.0V80.1H61.5M91.7 81.9H72.9V82.4H91.7M91.7 81.4H68.2V82.1H72.9M91.7 80.8H58.6V81.7H68.2M58.6 81.3H49.1V82.9H91.7M91.7 83.4H50.1V83.9H91.7M91.7 85.5H68.1V86.0H91.7M68.1 85.7H62.6V86.5H91.7M91.7 85.0H60.2V86.1H62.6M91.7 84.5H54.1V85.6H60.2M91.7 87.0H76.3V87.6H91.7M91.7 88.1H68.5V88.6H91.7M91.7 89.1H74.8V89.6H91.7M74.8 89.4H63.0V90.1H91.7M91.7 90.7H70.0V91.2H91.7M70.0 90.9H67.5V91.7H91.7M63.0 89.8H58.2V91.3H67.5M68.5 88.3H55.4V90.5H58.2M91.7 92.2H77.4V92.7H91.7M77.4 92.5H63.8V93.2H91.7M91.7 93.8H59.8V94.3H91.7M63.8 92.9H57.0V94.0H59.8M55.4 89.4H54.5V93.4H57.0M76.3 87.3H52.7V91.4H54.5M54.1 85.0H51.9V89.4H52.7M50.1 83.7H49.7V87.2H51.9M49.1 82.1H47.6V85.4H49.7M91.7 94.8H63.7V95.3H91.7M47.6 83.8H45.9V95.0H63.7M47.0 79.7H44.3V89.4H45.9M46.0 74.9H43.9V84.5H44.3M91.7 95.8H44.0V96.3H91.7M91.7 96.9H56.1V97.4H91.7M44.0 96.1H43.6V97.1H56.1M43.9 79.7H41.8V96.6H43.6M91.7 98.4H72.9V98.9H91.7M91.7 97.9H62.5V98.7H72.9M62.5 98.3H61.4V99.4H91.7M61.4 98.9H46.9V100.0H91.7M41.8 88.2H38.7V99.4H46.9M40.0 61.0H35.5V93.8H38.7M91.7 101.5H60.7V102.0H91.7M91.7 101.0H57.1V101.8H60.7M91.7 100.5H56.7V101.4H57.1M91.7 102.5H73.7V103.1H91.7M91.7 103.6H63.5V104.1H91.7M63.5 103.8H57.7V104.6H91.7M57.7 104.2H57.2V105.1H91.7M73.7 102.8H56.2V104.7H57.2M56.7 100.9H52.5V103.7H56.2M91.7 105.6H63.8V106.2H91.7M63.8 105.9H62.3V106.7H91.7M62.3 106.3H58.1V107.2H91.7M91.7 108.2H76.9V108.7H91.7M91.7 107.7H58.0V108.5H76.9M58.1 106.7H49.7V108.1H58.0M52.5 102.3H48.3V107.4H49.7M35.5 80.0H32.0V104.9H48.3M40.5 19.5H29.7V93.0H32.0M91.7 109.8H73.4V110.3H91.7M91.7 110.8H59.0V111.3H91.7M73.4 110.0H58.1V111.1H59.0M58.1 110.6H54.6V111.8H91.7M91.7 113.4H65.2V113.9H91.7M91.7 112.9H63.1V113.7H65.2M63.1 113.3H60.9V114.4H91.7M60.9 113.8H58.8V114.9H91.7M91.7 112.4H56.9V114.4H58.8M54.6 111.2H54.2V113.4H56.9M91.7 115.5H63.4V116.0H91.7M63.4 115.7H62.3V116.5H91.7M91.7 118.0H75.7V118.6H91.7M91.7 119.1H74.1V119.6H91.7M91.7 120.1H68.3V120.6H91.7M74.1 119.3H67.9V120.4H68.3M75.7 118.3H67.5V119.9H67.9M67.5 119.1H67.1V121.2H91.7M91.7 117.5H65.4V120.1H67.1M91.7 117.0H65.0V118.8H65.4M91.7 121.7H68.1V122.2H91.7M65.0 117.9H63.7V121.9H68.1M91.7 122.7H68.8V123.2H91.7M91.7 123.7H71.0V124.3H91.7M91.7 124.8H74.5V125.3H91.7M91.7 126.3H73.1V126.8H91.7M91.7 125.8H72.7V126.6H73.1M74.5 125.0H67.1V126.2H72.7M71.0 124.0H64.8V125.6H67.1M68.8 123.0H64.3V124.8H64.8M64.3 123.9H61.9V127.4H91.7M91.7 127.9H69.3V128.4H91.7M91.7 129.4H76.4V129.9H91.7M91.7 128.9H67.2V129.7H76.4M91.7 130.5H68.1V131.0H91.7M67.2 129.3H66.8V130.7H68.1M69.3 128.1H65.2V130.0H66.8M61.9 125.6H61.5V129.1H65.2M63.7 119.9H59.4V127.3H61.5M62.3 116.1H57.5V123.6H59.4M54.2 112.3H53.8V119.9H57.5M91.7 109.3H52.6V116.1H53.8M91.7 132.0H67.5V132.5H91.7M91.7 131.5H66.7V132.3H67.5M91.7 133.0H74.4V133.6H91.7M91.7 134.1H68.1V134.6H91.7M74.4 133.3H64.8V134.3H68.1M66.7 131.9H63.1V133.8H64.8M91.7 135.6H76.5V136.1H91.7M76.5 135.9H73.8V136.7H91.7M73.8 136.3H66.1V137.2H91.7M91.7 137.7H77.7V138.2H91.7M91.7 138.7H73.8V139.2H91.7M91.7 139.8H76.2V140.3H91.7M76.2 140.0H72.6V140.8H91.7M73.8 139.0H66.4V140.4H72.6M77.7 137.9H66.0V139.7H66.4M66.1 136.7H65.6V138.8H66.0M65.6 137.8H65.2V141.3H91.7M91.7 135.1H60.8V139.5H65.2M63.1 132.8H58.6V137.3H60.8M91.7 141.8H60.4V142.3H91.7M58.6 135.1H57.2V142.1H60.4M91.7 142.9H70.7V143.4H91.7M91.7 143.9H62.5V144.4H91.7M70.7 143.1H62.1V144.2H62.5M62.1 143.6H61.7V144.9H91.7M91.7 145.4H78.0V146.0H91.7M78.0 145.7H71.1V146.5H91.7M61.7 144.3H60.3V146.1H71.1M57.2 138.6H56.5V145.2H60.3M91.7 147.0H68.7V147.5H91.7M68.7 147.3H54.7V148.0H91.7M56.5 141.9H54.1V147.6H54.7M91.7 149.1H58.1V149.6H91.7M91.7 150.6H77.9V151.1H91.7M91.7 150.1H63.2V150.9H77.9M58.1 149.3H57.1V150.5H63.2M91.7 151.6H66.1V152.2H91.7M66.1 151.9H49.1V152.7H91.7M57.1 149.9H47.4V152.3H49.1M91.7 148.5H47.0V151.1H47.4M54.1 144.8H45.1V149.8H47.0M52.6 112.7H41.0V147.3H45.1M91.7 153.2H47.8V153.7H91.7M91.7 154.2H61.2V154.7H91.7M61.2 154.5H53.6V155.3H91.7M91.7 155.8H55.7V156.3H91.7M55.7 156.0H54.8V156.8H91.7M53.6 154.9H50.6V156.4H54.8M47.8 153.5H43.5V155.7H50.6M43.5 154.6H39.7V157.3H91.7M91.7 158.4H58.1V158.9H91.7M91.7 157.8H50.2V158.6H58.1M91.7 159.4H77.6V159.9H91.7M50.2 158.2H43.6V159.7H77.6M39.7 155.9H39.1V158.9H43.6M91.7 161.5H63.2V162.0H91.7M91.7 160.9H61.8V161.7H63.2M91.7 162.5H77.4V163.0H91.7M61.8 161.3H57.6V162.8H77.4M91.7 160.4H52.0V162.0H57.6M91.7 163.5H56.4V164.1H91.7M52.0 161.2H44.5V163.8H56.4M91.7 165.1H61.5V165.6H91.7M91.7 167.2H77.9V167.7H91.7M91.7 166.6H59.6V167.4H77.9M59.6 167.0H59.1V168.2H91.7M91.7 166.1H56.3V167.6H59.1M61.5 165.3H54.1V166.9H56.3M91.7 168.7H71.9V169.2H91.7M71.9 169.0H53.5V169.7H91.7M54.1 166.1H52.7V169.3H53.5M91.7 164.6H44.5V167.7H52.7M44.5 162.5H41.7V166.1H44.5M39.1 157.4H36.0V164.3H41.7M91.7 170.3H66.8V170.8H91.7M91.7 171.8H75.8V172.3H91.7M91.7 171.3H58.1V172.1H75.8M66.8 170.5H49.1V171.7H58.1M91.7 172.8H54.8V173.4H91.7M54.8 173.1H50.6V173.9H91.7M91.7 174.9H67.7V175.4H91.7M67.7 175.2H58.2V175.9H91.7M91.7 176.5H72.6V177.0H91.7M58.2 175.6H56.7V176.7H72.6M91.7 174.4H56.3V176.1H56.7M50.6 173.5H50.2V175.3H56.3M91.7 177.5H74.1V178.0H91.7M74.1 177.7H64.4V178.5H91.7M91.7 179.6H71.5V180.1H91.7M91.7 179.0H65.2V179.8H71.5M64.4 178.1H61.0V179.4H65.2M91.7 180.6H73.4V181.1H91.7M91.7 181.6H62.4V182.1H91.7M73.4 180.8H62.0V181.9H62.4M61.0 178.8H60.6V181.4H62.0M91.7 183.2H65.7V183.7H91.7M91.7 182.7H64.4V183.4H65.7M91.7 184.2H65.9V184.7H91.7M91.7 185.2H73.8V185.8H91.7M65.9 184.5H61.6V185.5H73.8M64.4 183.0H60.5V185.0H61.6M91.7 186.3H67.8V186.8H91.7M91.7 187.8H76.6V188.3H91.7M76.6 188.1H67.2V188.9H91.7M67.2 188.5H66.0V189.4H91.7M91.7 187.3H65.6V188.9H66.0M91.7 189.9H76.8V190.4H91.7M65.6 188.1H61.3V190.2H76.8M91.7 191.4H61.2V192.0H91.7M91.7 190.9H60.8V191.7H61.2M61.3 189.1H60.2V191.3H60.8M91.7 193.0H65.1V193.5H91.7M91.7 192.5H64.7V193.3H65.1M91.7 194.0H65.2V194.5H91.7M64.7 192.9H61.3V194.3H65.2M60.2 190.2H58.8V193.6H61.3M67.8 186.5H56.8V191.9H58.8M60.5 184.0H56.4V189.2H56.8M91.7 195.6H77.3V196.1H91.7M91.7 195.1H60.9V195.8H77.3M56.4 186.6H55.2V195.5H60.9M91.7 196.6H67.7V197.1H91.7M55.2 191.0H54.2V196.9H67.7M60.6 180.1H53.8V194.0H54.2M50.2 174.4H49.8V187.0H53.8M91.7 197.6H71.8V198.2H91.7M91.7 199.2H60.2V199.7H91.7M91.7 200.2H65.9V200.7H91.7M60.2 199.5H58.5V200.5H65.9M91.7 198.7H57.3V200.0H58.5M71.8 197.9H56.2V199.3H57.3M91.7 201.3H77.2V201.8H91.7M91.7 202.3H70.7V202.8H91.7M77.2 201.5H57.2V202.6H70.7M56.2 198.6H55.8V202.0H57.2M49.8 180.7H47.6V200.3H55.8M49.1 171.1H44.9V190.5H47.6M91.7 203.8H74.1V204.4H91.7M91.7 204.9H76.9V205.4H91.7M74.1 204.1H73.5V205.1H76.9M91.7 203.3H73.1V204.6H73.5M73.1 204.0H65.7V205.9H91.7M65.7 204.9H62.0V206.4H91.7M91.7 207.0H72.0V207.5H91.7M91.7 208.5H63.3V209.0H91.7M91.7 208.0H56.8V208.8H63.3M91.7 209.5H61.2V210.1H91.7M91.7 211.1H71.0V211.6H91.7M91.7 210.6H59.3V211.3H71.0M61.2 209.8H58.1V211.0H59.3M56.8 208.4H56.4V210.4H58.1M91.7 212.6H65.8V213.2H91.7M65.8 212.9H65.2V213.7H91.7M91.7 214.2H65.6V214.7H91.7M91.7 215.2H67.7V215.7H91.7M91.7 216.8H71.9V217.3H91.7M91.7 216.3H68.7V217.0H71.9M67.7 215.5H67.3V216.6H68.7M67.3 216.1H66.0V217.8H91.7M91.7 218.3H67.9V218.8H91.7M91.7 219.4H67.2V219.9H91.7M67.2 219.6H65.8V220.4H91.7M67.9 218.6H65.4V220.0H65.8M66.0 216.9H65.0V219.3H65.4M65.6 214.4H63.6V218.1H65.0M65.2 213.3H62.2V216.3H63.6M91.7 212.1H61.4V214.8H62.2M91.7 221.4H73.0V221.9H91.7M91.7 220.9H67.5V221.7H73.0M61.4 213.5H60.0V221.3H67.5M56.4 209.4H53.8V217.4H60.0M91.7 223.5H70.8V224.0H91.7M91.7 223.0H65.8V223.7H70.8M91.7 222.5H60.7V223.4H65.8M91.7 224.5H59.4V225.0H91.7M60.7 222.9H58.3V224.8H59.4M58.3 223.8H54.9V225.6H91.7M53.8 213.4H53.4V224.7H54.9M72.0 207.2H50.5V219.0H53.4M62.0 205.7H49.2V213.1H50.5M44.9 180.8H38.0V209.4H49.2M91.7 226.1H51.6V226.6H91.7M91.7 227.6H62.3V228.1H91.7M62.3 227.9H60.1V228.7H91.7M60.1 228.3H58.3V229.2H91.7M91.7 227.1H55.4V228.7H58.3M51.6 226.3H48.9V227.9H55.4M91.7 229.7H58.2V230.2H91.7M58.2 230.0H52.4V230.7H91.7M52.4 230.3H48.7V231.2H91.7M48.7 230.8H46.8V231.8H91.7M48.9 227.1H44.7V231.3H46.8M91.7 232.3H58.3V232.8H91.7M58.3 232.5H53.9V233.3H91.7M44.7 229.2H41.3V232.9H53.9M91.7 234.3H71.3V234.9H91.7M91.7 233.8H57.0V234.6H71.3M41.3 231.1H39.9V234.2H57.0M91.7 235.4H52.4V235.9H91.7M52.4 235.6H49.0V236.4H91.7M91.7 236.9H54.2V237.4H91.7M54.2 237.2H49.9V238.0H91.7M49.9 237.6H44.3V238.5H91.7M49.0 236.0H38.5V238.0H44.3M39.9 232.6H36.9V237.0H38.5M38.0 195.1H36.5V234.8H36.9M36.0 160.9H33.0V215.0H36.5M41.0 130.0H30.2V187.9H33.0M29.7 56.0H28.3V181.0H30.2M91.7 239.0H53.2V239.5H91.7M91.7 240.5H57.3V241.1H91.7M57.3 240.8H52.4V241.6H91.7M91.7 240.0H52.0V241.2H52.4M52.0 240.6H36.8V242.1H91.7M91.7 242.6H65.4V243.1H91.7M91.7 243.6H55.9V244.2H91.7M65.4 242.9H41.2V243.9H55.9M41.2 243.4H39.9V244.7H91.7M39.9 244.0H33.6V245.2H91.7M91.7 246.2H59.0V246.7H91.7M91.7 245.7H57.2V246.5H59.0M33.6 244.6H33.2V246.1H57.2M36.8 241.4H31.7V245.4H33.2M53.2 239.3H31.1V243.4H31.7M91.7 247.3H46.7V247.8H91.7M91.7 248.8H77.4V249.3H91.7M77.4 249.1H66.2V249.9H91.7M91.7 248.3H56.4V249.5H66.2M91.7 250.4H56.1V250.9H91.7M91.7 251.9H72.5V252.4H91.7M91.7 251.4H62.3V252.2H72.5M91.7 253.0H61.0V253.5H91.7M91.7 255.0H70.0V255.5H91.7M91.7 254.5H63.1V255.3H70.0M63.1 254.9H55.8V256.1H91.7M91.7 254.0H52.9V255.5H55.8M61.0 253.2H52.1V254.7H52.9M62.3 251.8H51.7V254.0H52.1M91.7 257.1H66.9V257.6H91.7M66.9 257.3H60.8V258.1H91.7M60.8 257.7H55.5V258.6H91.7M91.7 260.7H75.6V261.2H91.7M75.6 261.0H73.2V261.7H91.7M91.7 260.2H57.9V261.4H73.2M91.7 259.7H57.5V260.8H57.9M91.7 259.2H55.6V260.2H57.5M55.5 258.2H55.1V259.7H55.6M91.7 262.3H58.9V262.8H91.7M55.1 258.9H54.6V262.5H58.9M54.6 260.7H52.7V263.3H91.7M91.7 256.6H50.6V262.0H52.7M50.6 259.3H49.6V263.8H91.7M51.7 252.9H47.8V261.5H49.6M47.8 257.2H47.2V264.3H91.7M56.1 250.6H45.3V260.8H47.2M91.7 264.8H77.6V265.4H91.7M91.7 265.9H69.2V266.4H91.7M77.6 265.1H58.8V266.1H69.2M58.8 265.6H55.2V266.9H91.7M91.7 267.4H53.2V267.9H91.7M55.2 266.3H50.5V267.7H53.2M45.3 255.7H42.9V267.0H50.5M56.4 248.9H42.3V261.3H42.9M91.7 269.5H59.4V270.0H91.7M91.7 269.0H58.5V269.8H59.4M91.7 271.0H77.1V271.6H91.7M91.7 272.6H72.6V273.1H91.7M91.7 272.1H69.6V272.9H72.6M91.7 273.6H74.5V274.1H91.7M69.6 272.5H66.7V273.9H74.5M91.7 274.7H68.7V275.2H91.7M91.7 275.7H66.1V276.2H91.7M68.7 274.9H60.9V276.0H66.1M66.7 273.2H59.2V275.4H60.9M77.1 271.3H58.8V274.3H59.2M91.7 270.5H52.0V272.8H58.8M91.7 276.7H72.3V277.2H91.7M91.7 277.8H64.0V278.3H91.7M72.3 277.0H63.6V278.0H64.0M91.7 279.3H61.7V279.8H91.7M91.7 280.3H61.8V280.9H91.7M61.7 279.6H59.5V280.6H61.8M59.5 280.1H59.1V281.4H91.7M91.7 278.8H57.5V280.7H59.1M63.6 277.5H54.7V279.8H57.5M52.0 271.7H51.6V278.6H54.7M91.7 281.9H76.2V282.4H91.7M76.2 282.2H71.0V282.9H91.7M71.0 282.5H65.8V283.4H91.7M91.7 284.0H68.6V284.5H91.7M65.8 283.0H61.4V284.2H68.6M61.4 283.6H58.3V285.0H91.7M58.3 284.3H55.4V285.5H91.7M91.7 286.0H56.4V286.5H91.7M55.4 284.9H55.0V286.3H56.4M51.6 275.1H51.2V285.6H55.0M58.5 269.4H50.8V280.4H51.2M91.7 268.5H49.7V274.9H50.8M91.7 287.1H75.6V287.6H91.7M75.6 287.3H57.7V288.1H91.7M91.7 289.6H76.4V290.2H91.7M91.7 290.7H60.3V291.2H91.7M76.4 289.9H57.6V290.9H60.3M91.7 289.1H55.8V290.4H57.6M91.7 288.6H54.7V289.8H55.8M91.7 291.7H62.2V292.2H91.7M54.7 289.2H51.7V292.0H62.2M57.7 287.7H51.0V290.6H51.7M49.7 271.7H49.3V289.1H51.0M91.7 292.8H74.8V293.3H91.7M74.8 293.0H56.7V293.8H91.7M56.7 293.4H56.2V294.3H91.7M49.3 280.4H47.7V293.8H56.2M91.7 295.3H75.3V295.9H91.7M91.7 294.8H59.7V295.6H75.3M91.7 296.4H70.3V296.9H91.7M59.7 295.2H49.6V296.6H70.3M91.7 297.4H54.8V297.9H91.7M91.7 299.0H70.5V299.5H91.7M70.5 299.2H64.5V300.0H91.7M91.7 298.4H55.4V299.6H64.5M54.8 297.7H52.2V299.0H55.4M49.6 295.9H48.7V298.3H52.2M47.7 287.1H43.2V297.1H48.7M42.3 255.1H40.0V292.1H43.2M46.7 247.5H36.5V273.6H40.0M91.7 301.0H76.6V301.5H91.7M76.6 301.3H64.3V302.1H91.7M91.7 302.6H62.4V303.1H91.7M64.3 301.7H61.3V302.8H62.4M91.7 300.5H58.2V302.2H61.3M91.7 304.1H65.2V304.6H91.7M91.7 303.6H64.3V304.4H65.2M91.7 305.2H66.0V305.7H91.7M91.7 306.2H64.7V306.7H91.7M66.0 305.4H61.9V306.4H64.7M91.7 307.2H69.4V307.7H91.7M69.4 307.5H68.3V308.3H91.7M61.9 305.9H61.5V307.9H68.3M64.3 304.0H59.9V306.9H61.5M91.7 308.8H71.1V309.3H91.7M71.1 309.0H67.6V309.8H91.7M91.7 310.3H69.3V310.8H91.7M67.6 309.4H66.1V310.6H69.3M66.1 310.0H64.4V311.4H91.7M64.4 310.7H58.6V311.9H91.7M59.9 305.4H58.2V311.3H58.6M58.2 301.4H56.9V308.4H58.2M91.7 313.4H73.4V313.9H91.7M91.7 312.9H66.2V313.7H73.4M91.7 312.4H62.3V313.3H66.2M56.9 304.9H56.5V312.8H62.3M56.5 308.9H56.1V314.5H91.7M56.1 311.7H55.7V315.0H91.7M91.7 315.5H68.4V316.0H91.7M68.4 315.8H67.6V316.5H91.7M55.7 313.3H50.4V316.1H67.6M91.7 318.1H59.3V318.6H91.7M91.7 317.6H56.9V318.3H59.3M91.7 319.6H61.2V320.1H91.7M91.7 319.1H58.2V319.9H61.2M56.9 317.9H54.2V319.5H58.2M54.2 318.7H51.6V320.7H91.7M91.7 317.0H51.2V319.7H51.6M91.7 321.2H58.2V321.7H91.7M91.7 322.2H53.1V322.7H91.7M58.2 321.4H52.6V322.5H53.1M91.7 323.8H73.5V324.3H91.7M91.7 323.2H55.4V324.0H73.5M52.6 322.0H51.5V323.6H55.4M91.7 324.8H55.0V325.3H91.7M91.7 325.8H64.7V326.3H91.7M91.7 326.9H64.1V327.4H91.7M64.7 326.1H52.1V327.1H64.1M55.0 325.1H51.6V326.6H52.1M91.7 328.4H56.4V328.9H91.7M91.7 327.9H51.9V328.7H56.4M51.6 325.8H51.2V328.3H51.9M51.5 322.8H50.4V327.1H51.2M51.2 318.4H49.7V324.9H50.4M91.7 330.0H72.2V330.5H91.7M91.7 331.5H65.0V332.0H91.7M91.7 331.0H59.2V331.8H65.0M91.7 332.6H77.6V333.1H91.7M59.2 331.4H56.9V332.8H77.6M72.2 330.2H54.8V332.1H56.9M91.7 329.4H54.2V331.2H54.8M54.2 330.3H52.8V333.6H91.7M91.7 334.1H62.6V334.6H91.7M52.8 331.9H51.7V334.4H62.6M49.7 321.6H48.6V333.2H51.7M50.4 314.7H46.9V327.4H48.6M91.7 335.1H64.1V335.7H91.7M64.1 335.4H63.7V336.2H91.7M63.7 335.8H63.3V336.7H91.7M63.3 336.2H55.9V337.2H91.7M55.9 336.7H55.5V337.7H91.7M91.7 339.3H77.9V339.8H91.7M77.9 339.5H64.5V340.3H91.7M91.7 338.8H57.6V339.9H64.5M91.7 338.2H56.3V339.3H57.6M55.5 337.2H55.1V338.8H56.3M91.7 340.8H62.7V341.3H91.7M55.1 338.0H51.5V341.1H62.7M91.7 342.4H65.4V342.9H91.7M65.4 342.6H63.4V343.4H91.7M91.7 341.9H57.1V343.0H63.4M91.7 344.4H73.3V345.0H91.7M91.7 343.9H66.0V344.7H73.3M91.7 346.5H65.1V347.0H91.7M91.7 346.0H60.3V346.8H65.1M91.7 345.5H59.8V346.4H60.3M66.0 344.3H57.5V345.9H59.8M91.7 347.5H61.4V348.1H91.7M57.5 345.1H55.4V347.8H61.4M57.1 342.4H52.5V346.5H55.4M91.7 349.1H61.3V349.6H91.7M91.7 350.6H73.4V351.2H91.7M91.7 350.1H65.4V350.9H73.4M91.7 351.7H66.4V352.2H91.7M91.7 352.7H67.5V353.2H91.7M66.4 351.9H63.5V353.0H67.5M63.5 352.4H62.4V353.7H91.7M65.4 350.5H60.9V353.1H62.4M61.3 349.3H57.1V351.8H60.9M91.7 348.6H56.7V350.6H57.1M91.7 354.8H70.3V355.3H91.7M91.7 355.8H71.7V356.3H91.7M70.3 355.0H67.2V356.1H71.7M91.7 356.8H71.3V357.4H91.7M71.3 357.1H65.0V357.9H91.7M67.2 355.6H62.6V357.5H65.0M91.7 354.3H61.2V356.5H62.6M56.7 349.6H55.1V355.4H61.2M91.7 358.4H59.2V358.9H91.7M91.7 359.4H57.0V359.9H91.7M59.2 358.7H54.2V359.7H57.0M55.1 352.5H53.7V359.2H54.2M52.5 344.4H52.1V355.8H53.7M51.5 339.5H51.0V350.1H52.1M91.7 361.0H59.2V361.5H91.7M91.7 360.5H58.1V361.2H59.2M51.0 344.8H48.9V360.8H58.1M91.7 362.0H58.3V362.5H91.7M91.7 363.0H63.0V363.6H91.7M58.3 362.3H56.3V363.3H63.0M91.7 364.1H60.0V364.6H91.7M91.7 365.6H62.9V366.1H91.7M62.9 365.9H60.6V366.7H91.7M91.7 367.2H66.6V367.7H91.7M66.6 367.4H65.1V368.2H91.7M91.7 368.7H71.5V369.2H91.7M91.7 369.8H77.0V370.3H91.7M77.0 370.0H72.0V370.8H91.7M91.7 371.8H67.6V372.3H91.7M91.7 371.3H66.6V372.1H67.6M72.0 370.4H63.5V371.7H66.6M71.5 369.0H62.5V371.1H63.5M91.7 373.4H63.7V373.9H91.7M63.7 373.6H63.3V374.4H91.7M91.7 374.9H67.0V375.5H91.7M63.3 374.0H62.9V375.2H67.0M91.7 377.5H71.7V378.0H91.7M91.7 377.0H71.3V377.8H71.7M91.7 376.5H70.9V377.4H71.3M70.9 376.9H68.8V378.6H91.7M68.8 377.7H68.4V379.1H91.7M91.7 380.1H77.4V380.6H91.7M91.7 379.6H73.4V380.4H77.4M68.4 378.4H67.7V380.0H73.4M91.7 376.0H65.1V379.2H67.7M65.1 377.6H64.7V381.1H91.7M64.7 379.4H64.2V381.7H91.7M91.7 382.2H66.1V382.7H91.7M64.2 380.5H63.0V382.4H66.1M62.9 374.6H62.4V381.5H63.0M91.7 372.9H62.0V378.0H62.4M62.5 370.0H61.6V375.5H62.0M61.6 372.7H61.2V383.2H91.7M65.1 367.8H60.4V378.0H61.2M60.6 366.3H57.9V372.9H60.4M91.7 365.1H57.1V369.6H57.9M60.0 364.3H56.7V367.4H57.1M91.7 383.7H57.1V384.2H91.7M56.7 365.8H55.8V384.0H57.1M56.3 362.8H55.0V374.9H55.8M91.7 384.8H62.3V385.3H91.7M91.7 385.8H65.6V386.3H91.7M65.6 386.0H63.1V386.8H91.7M62.3 385.0H59.5V386.4H63.1M91.7 387.9H65.6V388.4H91.7M65.6 388.1H64.7V388.9H91.7M91.7 389.9H75.1V390.4H91.7M91.7 389.4H65.7V390.2H75.1M64.7 388.5H64.3V389.8H65.7M91.7 391.5H74.8V392.0H91.7M91.7 391.0H72.5V391.7H74.8M64.3 389.1H63.0V391.3H72.5M91.7 387.3H60.4V390.2H63.0M59.5 385.7H59.0V388.8H60.4M91.7 392.5H63.8V393.0H91.7M59.0 387.3H58.3V392.8H63.8M55.0 368.8H53.2V390.0H58.3M91.7 393.5H70.0V394.1H91.7M91.7 394.6H63.7V395.1H91.7M91.7 395.6H76.7V396.1H91.7M63.7 394.8H63.1V395.9H76.7M63.1 395.3H59.4V396.6H91.7M70.0 393.8H58.4V396.0H59.4M53.2 379.4H52.3V394.9H58.4M91.7 397.2H64.1V397.7H91.7M64.1 397.4H58.4V398.2H91.7M91.7 398.7H62.2V399.2H91.7M62.2 399.0H60.4V399.7H91.7M58.4 397.8H53.1V399.4H60.4M52.3 387.2H51.4V398.6H53.1M48.9 352.8H48.0V392.9H51.4M91.7 400.8H70.5V401.3H91.7M70.5 401.0H66.8V401.8H91.7M66.8 401.4H63.8V402.3H91.7M91.7 400.3H59.5V401.9H63.8M59.5 401.1H56.9V402.8H91.7M91.7 403.4H66.3V403.9H91.7M66.3 403.6H54.4V404.4H91.7M91.7 405.4H63.2V405.9H91.7M91.7 406.5H60.7V407.0H91.7M63.2 405.7H59.2V406.7H60.7M91.7 404.9H55.1V406.2H59.2M54.4 404.0H53.1V405.6H55.1M56.9 402.0H51.9V404.8H53.1M91.7 407.5H66.3V408.0H91.7M91.7 408.5H68.5V409.0H91.7M68.5 408.8H63.5V409.6H91.7M91.7 410.1H65.8V410.6H91.7M63.5 409.2H62.6V410.3H65.8M91.7 411.1H72.0V411.6H91.7M91.7 412.1H75.7V412.7H91.7M75.7 412.4H68.5V413.2H91.7M72.0 411.4H65.4V412.8H68.5M65.4 412.1H58.8V413.7H91.7M62.6 409.8H58.4V412.9H58.8M91.7 414.7H67.4V415.2H91.7M67.4 415.0H62.2V415.8H91.7M91.7 417.3H74.6V417.8H91.7M91.7 416.8H70.3V417.6H74.6M91.7 418.4H75.2V418.9H91.7M70.3 417.2H68.3V418.6H75.2M91.7 419.4H68.0V419.9H91.7M68.0 419.6H65.9V420.4H91.7M68.3 417.9H61.8V420.0H65.9M91.7 420.9H64.9V421.5H91.7M91.7 422.0H72.6V422.5H91.7M72.6 422.2H68.0V423.0H91.7M64.9 421.2H63.4V422.6H68.0M91.7 423.5H67.8V424.0H91.7M63.4 421.9H63.0V423.8H67.8M61.8 419.0H61.3V422.8H63.0M91.7 416.3H60.9V420.9H61.3M91.7 425.1H66.6V425.6H91.7M91.7 424.6H66.2V425.3H66.6M60.9 418.6H60.5V424.9H66.2M60.5 421.8H60.1V426.1H91.7M62.2 415.4H59.7V423.9H60.1M91.7 426.6H63.8V427.1H91.7M91.7 428.2H71.3V428.7H91.7M91.7 429.2H68.4V429.7H91.7M71.3 428.4H66.6V429.5H68.4M91.7 430.2H70.1V430.8H91.7M66.6 428.9H65.5V430.5H70.1M91.7 427.7H64.4V429.7H65.5M64.4 428.7H63.8V431.3H91.7M91.7 432.3H69.2V432.8H91.7M91.7 431.8H68.3V432.6H69.2M91.7 435.4H76.2V435.9H91.7M91.7 434.9H73.2V435.7H76.2M91.7 434.4H67.5V435.3H73.2M91.7 433.9H67.1V434.8H67.5M91.7 433.3H65.0V434.3H67.1M68.3 432.2H64.1V433.8H65.0M63.8 430.0H62.1V433.0H64.1M63.8 426.9H61.3V431.5H62.1M59.7 419.7H55.8V429.2H61.3M91.7 414.2H54.3V424.4H55.8M58.4 411.3H53.4V419.3H54.3M66.3 407.8H52.1V415.3H53.4M91.7 437.0H68.0V437.5H91.7M68.0 437.2H67.6V438.0H91.7M91.7 436.4H67.1V437.6H67.6M91.7 438.5H67.5V439.0H91.7M67.1 437.0H66.2V438.8H67.5M91.7 439.5H67.8V440.1H91.7M67.8 439.8H67.4V440.6H91.7M91.7 441.1H71.7V441.6H91.7M91.7 442.1H74.9V442.6H91.7M74.9 442.4H71.0V443.2H91.7M71.7 441.4H68.5V442.8H71.0M68.5 442.1H67.8V443.7H91.7M91.7 444.7H77.3V445.2H91.7M91.7 444.2H76.2V445.0H77.3M76.2 444.6H69.0V445.7H91.7M67.8 442.9H67.2V445.2H69.0M91.7 446.3H76.5V446.8H91.7M76.5 446.5H69.4V447.3H91.7M69.4 446.9H67.1V447.8H91.7M67.2 444.0H66.4V447.4H67.1M67.4 440.2H65.5V445.7H66.4M91.7 448.3H69.7V448.8H91.7M65.5 442.9H65.1V448.6H69.7M91.7 450.4H76.3V450.9H91.7M76.3 450.7H72.8V451.4H91.7M91.7 449.9H69.3V451.0H72.8M91.7 449.4H68.9V450.5H69.3M65.1 445.8H64.7V449.9H68.9M64.7 447.8H64.3V451.9H91.7M66.2 437.9H62.1V449.9H64.3M91.7 453.0H76.4V453.5H91.7M91.7 452.5H64.7V453.2H76.4M62.1 443.9H61.4V452.9H64.7M91.7 454.5H73.6V455.0H91.7M91.7 454.0H71.0V454.8H73.6M91.7 456.1H76.5V456.6H91.7M91.7 455.6H68.7V456.3H76.5M68.7 456.0H68.3V457.1H91.7M71.0 454.4H67.3V456.5H68.3M91.7 458.7H73.1V459.2H91.7M91.7 458.1H67.7V458.9H73.1M91.7 457.6H66.0V458.5H67.7M67.3 455.5H61.5V458.1H66.0M61.4 448.4H59.4V456.8H61.5M91.7 459.7H67.9V460.2H91.7M59.4 452.6H59.0V460.0H67.9M91.7 460.7H77.3V461.3H91.7M91.7 461.8H77.9V462.3H91.7M77.9 462.0H67.9V462.8H91.7M91.7 463.8H70.3V464.4H91.7M91.7 463.3H66.7V464.1H70.3M91.7 464.9H71.3V465.4H91.7M71.3 465.1H68.9V465.9H91.7M66.7 463.7H65.4V465.5H68.9M67.9 462.4H65.0V464.6H65.4M91.7 466.4H67.5V466.9H91.7M67.5 466.7H67.1V467.5H91.7M91.7 468.5H73.9V469.0H91.7M91.7 468.0H68.0V468.7H73.9M67.1 467.1H66.1V468.4H68.0M65.0 463.5H63.5V467.7H66.1M77.3 461.0H60.1V465.6H63.5M59.0 456.3H58.4V463.3H60.1M58.4 459.8H57.2V469.5H91.7M52.1 411.5H51.7V464.7H57.2M51.9 403.4H51.3V438.1H51.7M48.0 372.9H46.0V420.7H51.3M91.7 470.0H68.5V470.6H91.7M68.5 470.3H65.7V471.1H91.7M65.7 470.7H64.6V471.6H91.7M91.7 472.1H66.4V472.6H91.7M91.7 473.1H74.6V473.7H91.7M74.6 473.4H62.7V474.2H91.7M66.4 472.4H61.5V473.8H62.7M61.5 473.1H60.4V474.7H91.7M91.7 475.2H65.8V475.7H91.7M91.7 476.2H76.0V476.8H91.7M65.8 475.5H63.5V476.5H76.0M91.7 477.3H61.4V477.8H91.7M91.7 478.8H77.4V479.3H91.7M91.7 478.3H71.6V479.1H77.4M91.7 479.9H74.7V480.4H91.7M74.7 480.1H72.2V480.9H91.7M71.6 478.7H66.9V480.5H72.2M61.4 477.5H61.0V479.6H66.9M63.5 476.0H59.0V478.6H61.0M60.4 473.9H57.4V477.3H59.0M91.7 481.4H66.3V481.9H91.7M66.3 481.7H62.8V482.4H91.7M62.8 482.1H58.8V483.0H91.7M58.8 482.5H58.2V483.5H91.7M57.4 475.6H57.0V483.0H58.2M91.7 484.5H70.9V485.0H91.7M91.7 485.5H73.0V486.1H91.7M70.9 484.8H63.9V485.8H73.0M91.7 484.0H62.1V485.3H63.9M91.7 487.1H77.0V487.6H91.7M91.7 486.6H59.8V487.4H77.0M62.1 484.6H58.6V487.0H59.8M91.7 488.1H63.0V488.6H91.7M63.0 488.4H61.9V489.2H91.7M61.9 488.8H60.9V489.7H91.7M60.9 489.2H59.3V490.2H91.7M58.6 485.8H57.9V489.7H59.3M57.0 479.3H56.6V487.8H57.9M64.6 471.1H55.2V483.5H56.6M91.7 491.2H65.7V491.7H91.7M91.7 490.7H63.1V491.5H65.7M91.7 492.8H64.0V493.3H91.7M91.7 492.3H60.7V493.0H64.0M91.7 495.4H75.8V495.9H91.7M91.7 494.8H68.4V495.6H75.8M91.7 494.3H68.0V495.2H68.4M91.7 493.8H60.1V494.8H68.0M60.7 492.7H59.7V494.3H60.1M91.7 496.9H73.9V497.4H91.7M91.7 496.4H64.8V497.2H73.9M64.8 496.8H62.0V497.9H91.7M59.7 493.5H57.5V497.4H62.0M63.1 491.1H55.8V495.4H57.5M91.7 499.0H72.8V499.5H91.7M91.7 498.5H67.6V499.2H72.8M91.7 500.5H65.6V501.0H91.7M91.7 501.6H73.3V502.1H91.7M91.7 502.6H71.4V503.1H91.7M73.3 501.8H69.1V502.9H71.4M91.7 503.6H67.9V504.2H91.7M91.7 504.7H66.4V505.2H91.7M91.7 505.7H66.3V506.2H91.7M66.4 504.9H65.9V506.0H66.3M67.9 503.9H65.5V505.4H65.9M69.1 502.3H65.1V504.7H65.5M65.6 500.8H64.5V503.5H65.1M91.7 506.7H67.3V507.3H91.7M64.5 502.1H64.1V507.0H67.3M91.7 500.0H62.4V504.6H64.1M67.6 498.9H61.9V502.3H62.4M91.7 508.8H68.8V509.3H91.7M91.7 508.3H67.2V509.1H68.8M91.7 507.8H66.5V508.7H67.2M91.7 510.4H73.6V510.9H91.7M91.7 511.9H68.6V512.4H91.7M91.7 511.4H67.3V512.2H68.6M73.6 510.6H66.9V511.8H67.3M91.7 512.9H72.9V513.5H91.7M66.9 511.2H66.5V513.2H72.9M91.7 509.8H66.1V512.2H66.5M66.5 508.2H64.8V511.0H66.1M61.9 500.6H59.9V509.6H64.8M91.7 515.5H70.2V516.0H91.7M91.7 515.0H69.7V515.8H70.2M91.7 514.5H69.3V515.4H69.7M91.7 517.6H75.7V518.1H91.7M91.7 517.1H70.5V517.8H75.7M91.7 516.6H69.5V517.5H70.5M69.3 514.9H68.0V517.0H69.5M68.0 516.0H67.5V518.6H91.7M91.7 519.1H73.0V519.7H91.7M67.5 517.3H67.1V519.4H73.0M91.7 514.0H66.6V518.3H67.1M59.9 505.1H59.5V516.2H66.6M55.8 493.3H55.2V510.6H59.5M55.2 477.3H53.2V501.9H55.2M91.7 520.2H77.3V520.7H91.7M91.7 521.7H74.3V522.2H91.7M91.7 521.2H68.7V522.0H74.3M91.7 522.8H68.9V523.3H91.7M68.9 523.0H68.5V523.8H91.7M68.5 523.4H66.9V524.3H91.7M68.7 521.6H65.8V523.9H66.9M65.8 522.7H64.9V524.8H91.7M91.7 525.9H68.1V526.4H91.7M91.7 525.3H67.5V526.1H68.1M64.9 523.8H64.1V525.7H67.5M77.3 520.4H63.2V524.8H64.1M91.7 527.4H72.7V527.9H91.7M91.7 526.9H69.7V527.7H72.7M91.7 528.4H72.4V529.0H91.7M72.4 528.7H67.3V529.5H91.7M69.7 527.3H65.2V529.1H67.3M91.7 530.5H74.0V531.0H91.7M74.0 530.8H71.7V531.5H91.7M71.7 531.2H70.4V532.1H91.7M70.4 531.6H66.7V532.6H91.7M91.7 530.0H66.3V532.1H66.7M91.7 533.1H64.2V533.6H91.7M66.3 531.0H63.8V533.4H64.2M91.7 534.1H66.5V534.6H91.7M91.7 535.2H68.0V535.7H91.7M91.7 536.2H68.8V536.7H91.7M91.7 537.2H66.7V537.7H91.7M68.8 536.5H66.3V537.5H66.7M68.0 535.4H65.9V537.0H66.3M65.9 536.2H65.2V538.3H91.7M66.5 534.4H64.8V537.2H65.2M63.8 532.2H63.4V535.8H64.8M91.7 539.8H70.7V540.3H91.7M91.7 539.3H68.8V540.1H70.7M91.7 538.8H68.0V539.7H68.8M68.0 539.2H67.3V540.8H91.7M67.3 540.0H63.3V541.4H91.7M63.4 534.0H62.9V540.7H63.3M65.2 528.2H61.5V537.4H62.9M63.2 522.6H58.9V532.8H61.5M91.7 541.9H65.8V542.4H91.7M91.7 542.9H63.5V543.4H91.7M65.8 542.1H60.9V543.2H63.5M58.9 527.7H58.5V542.7H60.9M91.7 543.9H77.1V544.5H91.7M91.7 545.0H65.1V545.5H91.7M65.1 545.2H59.1V546.0H91.7M77.1 544.2H57.9V545.6H59.1M91.7 547.1H76.0V547.6H91.7M91.7 546.5H64.6V547.3H76.0M91.7 548.1H77.0V548.6H91.7M77.0 548.3H63.8V549.1H91.7M63.8 548.7H63.4V549.6H91.7M64.6 546.9H63.0V549.2H63.4M57.9 544.9H55.8V548.1H63.0M58.5 535.2H54.5V546.5H55.8M91.7 550.2H61.4V550.7H91.7M61.4 550.4H58.5V551.2H91.7M91.7 551.7H58.1V552.2H91.7M58.1 552.0H57.7V552.7H91.7M58.5 550.8H56.6V552.3H57.7M91.7 553.3H75.0V553.8H91.7M91.7 554.8H70.5V555.3H91.7M70.5 555.1H63.3V555.8H91.7M91.7 554.3H62.9V555.5H63.3M75.0 553.5H61.5V554.9H62.9M91.7 556.4H63.7V556.9H91.7M61.5 554.2H57.0V556.6H63.7M91.7 557.9H65.5V558.4H91.7M91.7 557.4H64.2V558.2H65.5M91.7 558.9H62.1V559.5H91.7M64.2 557.8H61.4V559.2H62.1M57.0 555.4H56.5V558.5H61.4M56.6 551.6H55.6V556.9H56.5M54.5 540.8H51.5V554.3H55.6M53.2 489.6H49.0V547.5H51.5M46.0 396.8H45.0V518.6H49.0M46.9 321.1H41.5V457.7H45.0M36.5 260.6H35.0V389.4H41.5M35.0 252.0H35.0V389.4H35.0M91.7 560.5H57.8V561.0H91.7M91.7 561.5H67.3V562.0H91.7M67.3 561.8H58.9V562.6H91.7M91.7 563.6H77.7V564.1H91.7M77.7 563.8H75.6V564.6H91.7M91.7 563.1H59.1V564.2H75.6M91.7 565.7H65.1V566.2H91.7M91.7 566.7H67.0V567.2H91.7M91.7 568.2H69.5V568.8H91.7M91.7 567.7H66.1V568.5H69.5M91.7 570.3H77.4V570.8H91.7M91.7 569.8H77.0V570.6H77.4M77.0 570.2H76.4V571.3H91.7M91.7 569.3H70.1V570.8H76.4M91.7 572.4H73.8V572.9H91.7M91.7 571.9H73.4V572.6H73.8M91.7 573.4H72.9V573.9H91.7M73.4 572.2H66.8V573.7H72.9M70.1 570.0H65.0V573.0H66.8M66.1 568.1H64.5V571.5H65.0M67.0 567.0H60.2V569.8H64.5M91.7 574.4H76.6V575.0H91.7M60.2 568.4H59.8V574.7H76.6M65.1 565.9H59.4V571.5H59.8M91.7 565.1H58.8V568.7H59.4M59.1 563.7H58.3V566.9H58.8M58.9 562.2H57.7V565.3H58.3M57.8 560.7H55.6V563.7H57.7M91.7 560.0H55.2V562.2H55.6M91.7 575.5H76.3V576.0H91.7M91.7 576.5H75.6V577.0H91.7M76.3 575.7H68.5V576.8H75.6M91.7 577.5H76.0V578.1H91.7M76.0 577.8H70.1V578.6H91.7M91.7 579.1H67.6V579.6H91.7M70.1 578.2H67.2V579.4H67.6M91.7 581.2H68.8V581.7H91.7M91.7 580.6H68.2V581.4H68.8M91.7 580.1H67.6V581.0H68.2M67.2 578.8H66.5V580.6H67.6M68.5 576.3H60.3V579.7H66.5M91.7 582.7H68.1V583.2H91.7M68.1 583.0H67.6V583.7H91.7M91.7 582.2H64.8V583.4H67.6M91.7 584.3H67.3V584.8H91.7M64.8 582.8H63.9V584.5H67.3M91.7 585.8H73.7V586.3H91.7M73.7 586.1H66.4V586.8H91.7M91.7 585.3H63.2V586.5H66.4M63.9 583.7H62.6V585.9H63.2M62.6 584.8H62.0V587.4H91.7M91.7 587.9H66.8V588.4H91.7M62.0 586.1H60.2V588.1H66.8M91.7 588.9H76.1V589.4H91.7M60.2 587.1H59.8V589.2H76.1M60.3 578.0H59.0V588.1H59.8M59.0 583.1H51.4V590.0H91.7M91.7 590.5H62.5V591.0H91.7M91.7 591.5H67.8V592.0H91.7M67.8 591.8H64.4V592.5H91.7M62.5 590.7H56.8V592.1H64.4M56.8 591.4H49.6V593.1H91.7M51.4 586.5H46.0V592.2H49.6M91.7 594.6H76.8V595.1H91.7M76.8 594.9H58.1V595.6H91.7M91.7 594.1H55.1V595.2H58.1M55.1 594.7H51.4V596.2H91.7M91.7 593.6H49.3V595.4H51.4M91.7 597.2H74.2V597.7H91.7M91.7 596.7H50.0V597.4H74.2M49.3 594.5H45.9V597.1H50.0M46.0 589.4H45.5V595.8H45.9M55.2 561.1H41.5V592.6H45.5M91.7 598.7H53.5V599.3H91.7M91.7 598.2H39.6V599.0H53.5M41.5 576.8H37.0V598.6H39.6M91.7 599.8H38.5V600.3H91.7M91.7 601.8H55.8V602.4H91.7M91.7 601.3H51.5V602.1H55.8M91.7 600.8H43.5V601.7H51.5M43.5 601.3H42.1V602.9H91.7M91.7 603.9H59.1V604.4H91.7M91.7 603.4H53.5V604.2H59.1M91.7 605.5H70.6V606.0H91.7M70.6 605.7H58.8V606.5H91.7M58.8 606.1H57.5V607.0H91.7M91.7 604.9H51.9V606.6H57.5M51.9 605.7H49.3V607.5H91.7M53.5 603.8H43.7V606.6H49.3M43.7 605.2H42.3V608.0H91.7M42.1 602.1H40.0V606.6H42.3M38.5 600.0H37.8V604.3H40.0M37.0 579.0H36.6V602.2H37.8M35.0 252.0H31.0V590.6H36.6M31.1 241.3H26.3V419.0H31.0M28.3 118.7H14.3V328.0H26.3" fill="none" stroke="#000" stroke-width="1.45" stroke-linejoin="miter"/>
<g class="t" font-size="21.33" fill="#000"><text x="856.35" y="22.55">LOC 00000000</text><text x="856.35" y="23.74">LOC 03268479</text><text x="856.35" y="24.93">LOC 02404753</text><text x="856.35" y="26.12">LOC 07323833</text><text x="856.35" y="27.30">LOC 00044335</text><text x="856.35" y="28.49">LOC 06494347</text><text x="856.35" y="29.68">LOC 05067335</text><text x="856.35" y="30.87">LOC 02650625</text><text x="856.35" y="32.06">LOC 06586388</text><text x="856.35" y="33.25">LOC 03050670</text><text x="856.35" y="34.43">LOC 09767080</text><text x="856.35" y="35.62">LOC 03424869</text><text x="856.35" y="36.81">LOC 06958265</text><text x="856.35" y="38.00">LOC 00724696</text><text x="856.35" y="39.19">LOC 03659256</text><text x="856.35" y="40.38">LOC 05323583</text><text x="856.35" y="41.56">LOC 00297046</text><text x="856.35" y="42.75">LOC 05873008</text><text x="856.35" y="43.94">LOC 06433723</text><text x="856.35" y="45.13">LOC 07630753</text><text x="856.35" y="46.32">LOC 08398868</text><text x="856.35" y="47.51">LOC 05587327</text><text x="856.35" y="48.69">LOC 09386328</text><text x="856.35" y="49.88">LOC 05999626</text><text x="856.35" y="51.07">LOC 00569585</text><text x="856.35" y="52.26">LOC 05630895</text><text x="856.35" y="53.45">LOC 06585966</text><text x="856.35" y="54.64">LOC 05676386</text><text x="856.35" y="55.82">LOC 06939346</text><text x="856.35" y="57.01">LOC 08527397</text><text x="856.35" y="58.20">LOC 05950438</text><text x="856.35" y="59.39">LOC 03430843</text><text x="856.35" y="60.58">LOC 00326384</text><text x="856.35" y="61.77">LOC 09078672</text><text x="856.35" y="62.95">LOC 04460675</text><text x="856.35" y="64.14">LOC 07296095</text><text x="856.35" y="65.33">LOC 02599656</text><text x="856.35" y="66.52">LOC 03779683</text><text x="856.35" y="67.71">LOC 03784326</text><text x="856.35" y="68.90">LOC 00726936</text><text x="856.35" y="70.09">LOC 07774858</text><text x="856.35" y="71.27">LOC 07735585</text><text x="856.35" y="72.46">LOC 07065853</text><text x="856.35" y="73.65">LOC 08028450</text><text x="856.35" y="74.84">LOC 03708995</text><text x="856.35" y="76.03">LOC 04804853</text><text x="856.35" y="77.22">LOC 05588920</text><text x="856.35" y="78.40">LOC 03559659</text><text x="856.35" y="79.59">LOC 00866300</text><text x="856.35" y="80.78">LOC 05982940</text><text x="856.35" y="81.97">LOC 07787874</text><text x="856.35" y="83.16">LOC 05825075</text><text x="856.35" y="84.35">LOC 08533898</text><text x="856.35" y="85.53">LOC 06937902</text><text x="856.35" y="86.72">LOC 04522067</text><text x="856.35" y="87.91">LOC 02780224</text><text x="856.35" y="89.10">LOC 02358333</text><text x="856.35" y="90.29">LOC 07324092</text><text x="856.35" y="91.48">LOC 07250273</text><text x="856.35" y="92.66">LOC 00726886</text><text x="856.35" y="93.85">LOC 06035395</text><text x="856.35" y="95.04">LOC 09945294</text><text x="856.35" y="96.23">LOC 05593468</text><text x="856.35" y="97.42">LOC 07330620</text><text x="856.35" y="98.61">LOC 02298478</text><text x="856.35" y="99.79">LOC 08629097</text><text x="856.35" y="100.98">LOC 00374228</text><text x="856.35" y="102.17">LOC 04376456</text><text x="856.35" y="103.36">LOC 06773657</text><text x="856.35" y="104.55">LOC 06904372</text><text x="856.35" y="105.74">LOC 02003440</text><text x="856.35" y="106.92">LOC 08860785</text><text x="856.35" y="108.11">LOC 07688243</text><text x="856.35" y="109.30">LOC 03267839</text><text x="856.35" y="110.49">LOC 05253540</text><text x="856.35" y="111.68">LOC 08066600</text><text x="856.35" y="112.87">LOC 08832658</text><text x="856.35" y="114.06">LOC 04304042</text><text x="856.35" y="115.24">LOC 07653865</text><text x="856.35" y="116.43">LOC 02834340</text><text x="856.35" y="117.62">LOC 07508087</text><text x="856.35" y="118.81">LOC 03009962</text><text x="856.35" y="120.00">LOC 02482804</text><text x="856.35" y="121.19">LOC 00870057</text><text x="856.35" y="122.37">LOC 08500439</text><text x="856.35" y="123.56">LOC 07494262</text><text x="856.35" y="124.75">LOC 02932408</text><text x="856.35" y="125.94">LOC 09687793</text><text x="856.35" y="127.13">LOC 00584923</text><text x="856.35" y="128.32">LOC 05825763</text><text x="856.35" y="129.50">LOC 03928427</text><text x="856.35" y="130.69">LOC 04508404</text><text x="856.35" y="131.88">LOC 05622767</text><text x="856.35" y="133.07">LOC 09053083</text><text x="856.35" y="134.26">LOC 00075279</text><text x="856.35" y="135.45">LOC 03625335</text><text x="856.35" y="136.63">LOC 08650299</text><text x="856.35" y="137.82">LOC 00020367</text><text x="856.35" y="139.01">LOC 05049736</text><text x="856.35" y="140.20">LOC 04660332</text><text x="856.35" y="141.39">LOC 05933877</text><text x="856.35" y="142.58">LOC 02668487</text><text x="856.35" y="143.76">LOC 03803988</text><text x="856.35" y="144.95">LOC 00237040</text><text x="856.35" y="146.14">LOC 00486784</text><text x="856.35" y="147.33">LOC 04545996</text><text x="856.35" y="148.52">LOC 04664087</text><text x="856.35" y="149.71">LOC 06334870</text><text x="856.35" y="150.89">LOC 02372546</text><text x="856.35" y="152.08">LOC 08892470</text><text x="856.35" y="153.27">LOC 02937060</text><text x="856.35" y="154.46">LOC 05979897</text><text x="856.35" y="155.65">LOC 08909376</text><text x="856.35" y="156.84">LOC 00945520</text><text x="856.35" y="158.02">LOC 02675054</text><text x="856.35" y="159.21">LOC 02025694</text><text x="856.35" y="160.40">LOC 08922469</text><text x="856.35" y="161.59">LOC 07707739</text><text x="856.35" y="162.78">LOC 04676296</text><text x="856.35" y="163.97">LOC 04245552</text><text x="856.35" y="165.16">LOC 03273429</text><text x="856.35" y="166.34">LOC 07747894</text><text x="856.35" y="167.53">LOC 05752637</text><text x="856.35" y="168.72">LOC 00325937</text><text x="856.35" y="169.91">LOC 04626208</text><text x="856.35" y="171.10">LOC 03926487</text><text x="856.35" y="172.29">LOC 04820432</text><text x="856.35" y="173.47">LOC 02636286</text><text x="856.35" y="174.66">LOC 03926224</text><text x="856.35" y="175.85">LOC 04663824</text><text x="856.35" y="177.04">LOC 07987026</text><text x="856.35" y="178.23">LOC 03087628</text><text x="856.35" y="179.42">LOC 05028646</text><text x="856.35" y="180.60">LOC 07358225</text><text x="856.35" y="181.79">LOC 07629704</text><text x="856.35" y="182.98">LOC 07452352</text><text x="856.35" y="184.17">LOC 09873974</text><text x="856.35" y="185.36">LOC 02863203</text><text x="856.35" y="186.55">LOC 06005987</text><text x="856.35" y="187.73">LOC 09204480</text><text x="856.35" y="188.92">LOC 08925890</text><text x="856.35" y="190.11">LOC 00379704</text><text x="856.35" y="191.30">LOC 00777703</text><text x="856.35" y="192.49">LOC 06354726</text><text x="856.35" y="193.68">LOC 04774538</text><text x="856.35" y="194.86">LOC 06502382</text><text x="856.35" y="196.05">LOC 02707340</text><text x="856.35" y="197.24">LOC 08683842</text><text x="856.35" y="198.43">LOC 06003725</text><text x="856.35" y="199.62">LOC 03664359</text><text x="856.35" y="200.81">LOC 09252276</text><text x="856.35" y="201.99">LOC 05689843</text><text x="856.35" y="203.18">LOC 05090734</text><text x="856.35" y="204.37">LOC 08000474</text><text x="856.35" y="205.56">LOC 09450940</text><text x="856.35" y="206.75">LOC 07609588</text><text x="856.35" y="207.94">LOC 02269577</text><text x="856.35" y="209.13">LOC 05328049</text><text x="856.35" y="210.31">LOC 07295967</text><text x="856.35" y="211.50">LOC 03862804</text><text x="856.35" y="212.69">LOC 08002263</text><text x="856.35" y="213.88">LOC 06655832</text><text x="856.35" y="215.07">LOC 05505734</text><text x="856.35" y="216.26">LOC 05833069</text><text x="856.35" y="217.44">LOC 02080800</text><text x="856.35" y="218.63">LOC 07279849</text><text x="856.35" y="219.82">LOC 02220285</text><text x="856.35" y="221.01">LOC 09925275</text><text x="856.35" y="222.20">LOC 05855069</text><text x="856.35" y="223.39">LOC 08873456</text><text x="856.35" y="224.57">LOC 04823627</text><text x="856.35" y="225.76">LOC 08973438</text><text x="856.35" y="226.95">LOC 03986037</text><text x="856.35" y="228.14">LOC 05899494</text><text x="856.35" y="229.33">LOC 03795652</text><text x="856.35" y="230.52">LOC 04576958</text><text x="856.35" y="231.70">LOC 02226225</text><text x="856.35" y="232.89">LOC 03097365</text><text x="856.35" y="234.08">LOC 02762525</text><text x="856.35" y="235.27">LOC 06772252</text><text x="856.35" y="236.46">LOC 03029728</text><text x="856.35" y="237.65">LOC 07247095</text><text x="856.35" y="238.83">LOC 02966287</text><text x="856.35" y="240.02">LOC 02342922</text><text x="856.35" y="241.21">LOC 09772559</text><text x="856.35" y="242.40">LOC 08704937</text><text x="856.35" y="243.59">LOC 03469235</text><text x="856.35" y="244.78">LOC 00858995</text><text x="856.35" y="245.96">LOC 05358872</text><text x="856.35" y="247.15">LOC 03482843</text><text x="856.35" y="248.34">LOC 04328583</text><text x="856.35" y="249.53">LOC 08255609</text><text x="856.35" y="250.72">LOC 09240688</text><text x="856.35" y="251.91">LOC 09560539</text><text x="856.35" y="253.10">LOC 07576354</text><text x="856.35" y="254.28">LOC 00083575</text><text x="856.35" y="255.47">LOC 07869960</text><text x="856.35" y="256.66">LOC 03809886</text><text x="856.35" y="257.85">LOC 00490824</text><text x="856.35" y="259.04">LOC 03394727</text><text x="856.35" y="260.23">LOC 07450442</text><text x="856.35" y="261.41">LOC 09675426</text><text x="856.35" y="262.60">LOC 09980590</text><text x="856.35" y="263.79">LOC 03708044</text><text x="856.35" y="264.98">LOC 02388885</text><text x="856.35" y="266.17">LOC 09208408</text><text x="856.35" y="267.36">LOC 09426429</text><text x="856.35" y="268.54">LOC 06234700</text><text x="856.35" y="269.73">LOC 07054773</text><text x="856.35" y="270.92">LOC 02744378</text><text x="856.35" y="272.11">LOC 03705894</text><text x="856.35" y="273.30">LOC 05247798</text><text x="856.35" y="274.49">LOC 04465049</text><text x="856.35" y="275.67">LOC 03627635</text><text x="856.35" y="276.86">LOC 03093720</text><text x="856.35" y="278.05">LOC 09862836</text><text x="856.35" y="279.24">LOC 00068586</text><text x="856.35" y="280.43">LOC 09737798</text><text x="856.35" y="281.62">LOC 00485292</text><text x="856.35" y="282.80">LOC 09842622</text><text x="856.35" y="283.99">LOC 06736605</text><text x="856.35" y="285.18">LOC 02922089</text><text x="856.35" y="286.37">LOC 08485375</text><text x="856.35" y="287.56">LOC 08294525</text><text x="856.35" y="288.75">LOC 02757236</text><text x="856.35" y="289.93">LOC 07264628</text><text x="856.35" y="291.12">LOC 06286080</text><text x="856.35" y="292.31">LOC 04555899</text><text x="856.35" y="293.50">LOC 06992987</text><text x="856.35" y="294.69">LOC 04772328</text><text x="856.35" y="295.88">LOC 06056723</text><text x="856.35" y="297.07">LOC 00835020</text><text x="856.35" y="298.25">LOC 02255574</text><text x="856.35" y="299.44">LOC 00785369</text><text x="856.35" y="300.63">LOC 09788036</text><text x="856.35" y="301.82">LOC 08622856</text><text x="856.35" y="303.01">LOC 06277853</text><text x="856.35" y="304.20">LOC 03986533</text><text x="856.35" y="305.38">LOC 07076543</text><text x="856.35" y="306.57">LOC 07982570</text><text x="856.35" y="307.76">LOC 04474890</text><text x="856.35" y="308.95">LOC 02952666</text><text x="856.35" y="310.14">LOC 03004805</text><text x="856.35" y="311.33">LOC 08940466</text><text x="856.35" y="312.51">LOC 04680024</text><text x="856.35" y="313.70">LOC 02524226</text><text x="856.35" y="314.89">LOC 06573552</text><text x="856.35" y="316.08">LOC 07348058</text><text x="856.35" y="317.27">LOC 04094725</text><text x="856.35" y="318.46">LOC 08050832</text><text x="856.35" y="319.64">LOC 02466480</text><text x="856.35" y="320.83">LOC 00697665</text><text x="856.35" y="322.02">LOC 04583044</text><text x="856.35" y="323.21">LOC 00524447</text><text x="856.35" y="324.40">LOC 04534328</text><text x="856.35" y="325.59">LOC 04855238</text><text x="856.35" y="326.77">LOC 09268905</text><text x="856.35" y="327.96">LOC 00933575</text><text x="856.35" y="329.15">LOC 08634899</text><text x="856.35" y="330.34">LOC 04208359</text><text x="856.35" y="331.53">LOC 00453575</text><text x="856.35" y="332.72">LOC 02652404</text><text x="856.35" y="333.90">LOC 05785287</text><text x="856.35" y="335.09">LOC 08378907</text><text x="856.35" y="336.28">LOC 00495693</text><text x="856.35" y="337.47">LOC 06737405</text><text x="856.35" y="338.66">LOC 04788938</text><text x="856.35" y="339.85">LOC 08884464</text><text x="856.35" y="341.03">LOC 03228890</text><text x="856.35" y="342.22">LOC 03083202</text><text x="856.35" y="343.41">LOC 07832067</text><text x="856.35" y="344.60">LOC 09964389</text><text x="856.35" y="345.79">LOC 08960608</text><text x="856.35" y="346.98">LOC 00449555</text><text x="856.35" y="348.17">LOC 04482884</text><text x="856.35" y="349.35">LOC 06754670</text><text x="856.35" y="350.54">LOC 06234654</text><text x="856.35" y="351.73">LOC 06452985</text><text x="856.35" y="352.92">LOC 02995032</text><text x="856.35" y="354.11">LOC 02853946</text><text x="856.35" y="355.30">LOC 06307770</text><text x="856.35" y="356.48">LOC 02597220</text><text x="856.35" y="357.67">LOC 06598336</text><text x="856.35" y="358.86">LOC 09552779</text><text x="856.35" y="360.05">LOC 00885825</text><text x="856.35" y="361.24">LOC 09247224</text><text x="856.35" y="362.43">LOC 09794899</text><text x="856.35" y="363.61">LOC 06430027</text><text x="856.35" y="364.80">LOC 07086946</text><text x="856.35" y="365.99">LOC 08544885</text><text x="856.35" y="367.18">LOC 02529570</text><text x="856.35" y="368.37">LOC 08030479</text><text x="856.35" y="369.56">LOC 03464297</text><text x="856.35" y="370.74">LOC 03488383</text><text x="856.35" y="371.93">LOC 06828528</text><text x="856.35" y="373.12">LOC 06642956</text><text x="856.35" y="374.31">LOC 05906663</text><text x="856.35" y="375.50">LOC 04797657</text><text x="856.35" y="376.69">LOC 07430602</text><text x="856.35" y="377.87">LOC 04798274</text><text x="856.35" y="379.06">LOC 06472076</text><text x="856.35" y="380.25">LOC 04637655</text><text x="856.35" y="381.44">LOC 08634086</text><text x="856.35" y="382.63">LOC 04286525</text><text x="856.35" y="383.82">LOC 03698384</text><text x="856.35" y="385.00">LOC 07850427</text><text x="856.35" y="386.19">LOC 03906500</text><text x="856.35" y="387.38">LOC 09672943</text><text x="856.35" y="388.57">LOC 06547338</text><text x="856.35" y="389.76">LOC 05786566</text><text x="856.35" y="390.95">LOC 00578945</text><text x="856.35" y="392.14">LOC 02222726</text><text x="856.35" y="393.32">LOC 03870866</text><text x="856.35" y="394.51">LOC 05299428</text><text x="856.35" y="395.70">LOC 03265340</text><text x="856.35" y="396.89">LOC 07238248</text><text x="856.35" y="398.08">LOC 02502944</text><text x="856.35" y="399.27">LOC 07985243</text><text x="856.35" y="400.45">LOC 09868037</text><text x="856.35" y="401.64">LOC 05307073</text><text x="856.35" y="402.83">LOC 06888746</text><text x="856.35" y="404.02">LOC 06872090</text><text x="856.35" y="405.21">LOC 04983667</text><text x="856.35" y="406.40">LOC 02657222</text><text x="856.35" y="407.58">LOC 02293248</text><text x="856.35" y="408.77">LOC 07674644</text><text x="856.35" y="409.96">LOC 02550774</text><text x="856.35" y="411.15">LOC 06330484</text><text x="856.35" y="412.34">LOC 00065888</text><text x="856.35" y="413.53">LOC 02892639</text><text x="856.35" y="414.71">LOC 00206228</text><text x="856.35" y="415.90">LOC 00948047</text><text x="856.35" y="417.09">LOC 06202486</text><text x="856.35" y="418.28">LOC 05468444</text><text x="856.35" y="419.47">LOC 03427805</text><text x="856.35" y="420.66">LOC 08404097</text><text x="856.35" y="421.84">LOC 03375369</text><text x="856.35" y="423.03">LOC 02654696</text><text x="856.35" y="424.22">LOC 03738460</text><text x="856.35" y="425.41">LOC 03995532</text><text x="856.35" y="426.60">LOC 08229356</text><text x="856.35" y="427.79">LOC 05084848</text><text x="856.35" y="428.97">LOC 03935647</text><text x="856.35" y="430.16">LOC 00056746</text><text x="856.35" y="431.35">LOC 02086926</text><text x="856.35" y="432.54">LOC 08879258</text><text x="856.35" y="433.73">LOC 04750266</text><text x="856.35" y="434.92">LOC 07695425</text><text x="856.35" y="436.11">LOC 03532423</text><text x="856.35" y="437.29">LOC 06239557</text><text x="856.35" y="438.48">LOC 02757874</text><text x="856.35" y="439.67">LOC 02346494</text><text x="856.35" y="440.86">LOC 05738677</text><text x="856.35" y="442.05">LOC 03562963</text><text x="856.35" y="443.24">LOC 07272995</text><text x="856.35" y="444.42">LOC 03098940</text><text x="856.35" y="445.61">LOC 08826634</text><text x="856.35" y="446.80">LOC 08905382</text><text x="856.35" y="447.99">LOC 07669395</text><text x="856.35" y="449.18">LOC 04433357</text><text x="856.35" y="450.37">LOC 08843790</text><text x="856.35" y="451.55">LOC 03364054</text><text x="856.35" y="452.74">LOC 07038532</text><text x="856.35" y="453.93">LOC 08632948</text><text x="856.35" y="455.12">LOC 04688235</text><text x="856.35" y="456.31">LOC 02322257</text><text x="856.35" y="457.50">LOC 08448782</text><text x="856.35" y="458.68">LOC 07856480</text><text x="856.35" y="459.87">LOC 03056289</text><text x="856.35" y="461.06">LOC 07482998</text><text x="856.35" y="462.25">LOC 04677436</text><text x="856.35" y="463.44">LOC 06448926</text><text x="856.35" y="464.63">LOC 09795395</text><text x="856.35" y="465.81">LOC 06566407</text><text x="856.35" y="467.00">LOC 03753066</text><text x="856.35" y="468.19">LOC 03367467</text><text x="856.35" y="469.38">LOC 04458394</text><text x="856.35" y="470.57">LOC 07239570</text><text x="856.35" y="471.76">LOC 02563740</text><text x="856.35" y="472.94">LOC 08639670</text><text x="856.35" y="474.13">LOC 03558203</text><text x="856.35" y="475.32">LOC 02200678</text><text x="856.35" y="476.51">LOC 09596770</text><text x="856.35" y="477.70">LOC 05234796</text><text x="856.35" y="478.89">LOC 00432453</text><text x="856.35" y="480.08">LOC 09575083</text><text x="856.35" y="481.26">LOC 03536448</text><text x="856.35" y="482.45">LOC 03488934</text><text x="856.35" y="483.64">LOC 04359946</text><text x="856.35" y="484.83">LOC 09793035</text><text x="856.35" y="486.02">LOC 08805585</text><text x="856.35" y="487.21">LOC 00024448</text><text x="856.35" y="488.39">LOC 05434463</text><text x="856.35" y="489.58">LOC 07806323</text><text x="856.35" y="490.77">LOC 06737490</text><text x="856.35" y="491.96">LOC 08547223</text><text x="856.35" y="493.15">LOC 09437477</text><text x="856.35" y="494.34">LOC 08338605</text><text x="856.35" y="495.52">LOC 05597209</text><text x="856.35" y="496.71">LOC 09656223</text><text x="856.35" y="497.90">LOC 09685420</text><text x="856.35" y="499.09">LOC 07449362</text><text x="856.35" y="500.28">LOC 00020657</text><text x="856.35" y="501.47">LOC 05207960</text><text x="856.35" y="502.65">LOC 09005637</text><text x="856.35" y="503.84">LOC 06662946</text><text x="856.35" y="505.03">LOC 03744985</text><text x="856.35" y="506.22">LOC 06887559</text><text x="856.35" y="507.41">LOC 05594547</text><text x="856.35" y="508.60">LOC 04805698</text><text x="856.35" y="509.78">LOC 06897599</text><text x="856.35" y="510.97">LOC 07956488</text><text x="856.35" y="512.16">LOC 06003587</text><text x="856.35" y="513.35">LOC 02542337</text><text x="856.35" y="514.54">LOC 04663874</text><text x="856.35" y="515.73">LOC 04609099</text><text x="856.35" y="516.91">LOC 09977608</text><text x="856.35" y="518.10">LOC 00482664</text><text x="856.35" y="519.29">LOC 02983949</text><text x="856.35" y="520.48">LOC 08098946</text><text x="856.35" y="521.67">LOC 02040382</text><text x="856.35" y="522.86">LOC 07826445</text><text x="856.35" y="524.04">LOC 03447973</text><text x="856.35" y="525.23">LOC 08742790</text><text x="856.35" y="526.42">LOC 07724857</text><text x="856.35" y="527.61">LOC 05956823</text><text x="856.35" y="528.80">LOC 02962320</text><text x="856.35" y="529.99">LOC 02705255</text><text x="856.35" y="531.18">LOC 00568598</text><text x="856.35" y="532.36">LOC 02395598</text><text x="856.35" y="533.55">LOC 05038263</text><text x="856.35" y="534.74">LOC 05557097</text><text x="856.35" y="535.93">LOC 03728307</text><text x="856.35" y="537.12">LOC 07256200</text><text x="856.35" y="538.31">LOC 06669972</text><text x="856.35" y="539.49">LOC 03456427</text><text x="856.35" y="540.68">LOC 03266006</text><text x="856.35" y="541.87">LOC 02206323</text><text x="856.35" y="543.06">LOC 03584400</text><text x="856.35" y="544.25">LOC 08528930</text><text x="856.35" y="545.44">LOC 09332355</text><text x="856.35" y="546.62">LOC 04843875</text><text x="856.35" y="547.81">LOC 03979896</text><text x="856.35" y="549.00">LOC 04390449</text><text x="856.35" y="550.19">LOC 05920539</text><text x="856.35" y="551.38">LOC 04270524</text><text x="856.35" y="552.57">LOC 00727969</text><text x="856.35" y="553.75">LOC 09207909</text><text x="856.35" y="554.94">LOC 05993934</text><text x="856.35" y="556.13">LOC 05486865</text><text x="856.35" y="557.32">LOC 09474844</text><text x="856.35" y="558.51">LOC 06235006</text><text x="856.35" y="559.70">LOC 08636356</text><text x="856.35" y="560.88">LOC 03052730</text><text x="856.35" y="562.07">LOC 05788738</text><text x="856.35" y="563.26">LOC 04334499</text><text x="856.35" y="564.45">LOC 08505273</text><text x="856.35" y="565.64">LOC 00342603</text><text x="856.35" y="566.83">LOC 06035500</text><text x="856.35" y="568.01">LOC 04905023</text><text x="856.35" y="569.20">LOC 09864606</text><text x="856.35" y="570.39">LOC 06376298</text><text x="856.35" y="571.58">LOC 04390385</text><text x="856.35" y="572.77">LOC 07987763</text><text x="856.35" y="573.96">LOC 09644848</text><text x="856.35" y="575.15">LOC 05000825</text><text x="856.35" y="576.33">LOC 02872226</text><text x="856.35" y="577.52">LOC 05502828</text><text x="856.35" y="578.71">LOC 04442967</text><text x="856.35" y="579.90">LOC 09639259</text><text x="856.35" y="581.09">LOC 05336095</text><text x="856.35" y="582.28">LOC 06666894</text><text x="856.35" y="583.46">LOC 07690722</text><text x="856.35" y="584.65">LOC 09708032</text><text x="856.35" y="585.84">LOC 06738002</text><text x="856.35" y="587.03">LOC 09526772</text><text x="856.35" y="588.22">LOC 09959228</text><text x="856.35" y="589.41">LOC 00740835</text><text x="856.35" y="590.59">LOC 08204095</text><text x="856.35" y="591.78">LOC 03442805</text><text x="856.35" y="592.97">LOC 02042287</text><text x="856.35" y="594.16">LOC 04339580</text><text x="856.35" y="595.35">LOC 08772064</text><text x="856.35" y="596.54">LOC 02982640</text><text x="856.35" y="597.72">LOC 09704652</text><text x="856.35" y="598.91">LOC 08008888</text><text x="856.35" y="600.10">LOC 05890052</text><text x="856.35" y="601.29">LOC 06953650</text><text x="856.35" y="602.48">LOC 07975059</text><text x="856.35" y="603.67">LOC 03366687</text><text x="856.35" y="604.85">LOC 09239676</text><text x="856.35" y="606.04">LOC 02325509</text><text x="856.35" y="607.23">LOC 02683692</text><text x="856.35" y="608.42">LOC 08469364</text><text x="856.35" y="609.61">LOC 06302723</text><text x="856.35" y="610.80">LOC 05256954</text><text x="856.35" y="611.98">LOC 09904227</text><text x="856.35" y="613.17">LOC 03884704</text><text x="856.35" y="614.36">LOC 09802847</text><text x="856.35" y="615.55">LOC 00506080</text><text x="856.35" y="22.85">LOC 09669060</text><text x="856.35" y="615.25">LOC 09883909</text><text x="856.35" y="23.15">LOC 08306606</text><text x="856.35" y="614.95">LOC 00999933</text><text x="856.35" y="23.45">LOC 08969809</text><text x="856.35" y="614.65">LOC 08060903</text><text x="856.35" y="23.75">LOC 09060669</text><text x="856.35" y="614.35">LOC 00833936</text><text x="856.35" y="24.05">LOC 09063003</text><text x="856.35" y="614.05">LOC 08069809</text><text x="856.35" y="24.35">LOC 03663868</text><text x="856.35" y="613.75">LOC 08099989</text><text x="856.35" y="24.65">LOC 00836939</text><text x="856.35" y="613.45">LOC 00086386</text><text x="856.35" y="24.95">LOC 03698663</text><text x="856.35" y="613.15">LOC 00800890</text><text x="856.35" y="25.25">LOC 03666383</text><text x="856.35" y="612.85">LOC 03698809</text><text x="856.35" y="25.55">LOC 06960996</text><text x="856.35" y="612.55">LOC 03996860</text><text x="856.35" y="25.85">LOC 03969333</text><text x="856.35" y="612.25">LOC 08389808</text><text x="856.35" y="26.15">LOC 08398998</text><text x="856.35" y="611.95">LOC 09396939</text><text x="856.35" y="26.45">LOC 09938609</text><text x="856.35" y="611.65">LOC 00936030</text><text x="856.35" y="26.75">LOC 09689890</text><text x="856.35" y="611.35">LOC 06903368</text><text x="856.35" y="27.05">LOC 09036306</text><text x="856.35" y="611.05">LOC 03039009</text><text x="856.35" y="27.35">LOC 03696069</text><text x="856.35" y="610.75">LOC 08088000</text><text x="856.35" y="27.65">LOC 06806368</text><text x="856.35" y="610.45">LOC 08809386</text><text x="856.35" y="27.95">LOC 09033633</text><text x="856.35" y="610.15">LOC 03303908</text><text x="856.35" y="28.25">LOC 00936008</text><text x="856.35" y="609.85">LOC 06000036</text><text x="856.35" y="28.55">LOC 00683968</text><text x="856.35" y="609.55">LOC 06839333</text><text x="856.35" y="28.85">LOC 09333308</text><text x="856.35" y="609.25">LOC 09839060</text><text x="856.35" y="29.15">LOC 08680060</text><text x="856.35" y="608.95">LOC 06699830</text><text x="856.35" y="29.45">LOC 09663833</text><text x="856.35" y="608.65">LOC 03008966</text><text x="856.35" y="29.75">LOC 00966390</text><text x="856.35" y="608.35">LOC 03966998</text><text x="856.35" y="30.05">LOC 09399933</text><text x="856.35" y="608.05">LOC 09069339</text><path d="M908 7.25H906.3L901.9 10.95V605.95H905.9V615.55H908Z"/><path d="M858.1 20.85H867.9V615.55H858.1ZM869.2 14.25H883.8V608.55H869.2ZM885.9 14.25H899.4V608.55H885.9ZM912.57 14.25H923.37V608.55H912.57ZM924.43 14.25H935.23V608.55H924.43ZM936.30 14.25H947.35V608.55H936.30ZM947.96 14.25H959.21V608.55H947.96ZM959.82 14.25H971.07V608.55H959.82ZM971.68 14.25H982.93V608.55H971.68ZM983.55 18.25H995.65V608.55H983.55ZM995.41 14.25H1006.66V608.55H995.41Z"/><text x="855.9" y="492.65">TTN-1</text><text x="855.9" y="563.15" textLength="153" lengthAdjust="spacing">Trnal-caa_1205</text><text x="855.9" y="595.15" textLength="156" lengthAdjust="spacing">Trnaa-ugc_1213</text></g>
<g class="t" font-size="32" fill="#000" text-anchor="end"><text transform="translate(117.03 616.20) rotate(-90)">SGRE-HEAD-CRD-1</text><text transform="translate(141.38 616.20) rotate(-90)">SGRE-HEAD-CRD-2</text><text transform="translate(165.72 616.20) rotate(-90)">SGRE-HEAD-CRD-3</text><text transform="translate(190.07 616.20) rotate(-90)">SGRE-HEAD-CRD-4</text><text transform="translate(214.43 616.20) rotate(-90)">SGRE-HEAD-CRD-5</text><text transform="translate(238.78 616.20) rotate(-90)">SGRE-HEAD-CRD-6</text><text transform="translate(263.12 616.20) rotate(-90)">SggfpH1</text><text transform="translate(287.47 616.20) rotate(-90)">SggfpH2</text><text transform="translate(311.82 616.20) rotate(-90)">SggfpH3</text><text transform="translate(336.18 616.20) rotate(-90)">SggfpH4</text><text transform="translate(360.53 616.20) rotate(-90)">SggfpH5</text><text transform="translate(384.88 616.20) rotate(-90)">SgunchH1</text><text transform="translate(409.22 616.20) rotate(-90)">SgunchH2</text><text transform="translate(433.57 616.20) rotate(-90)">SgunchH3</text><text transform="translate(457.93 616.20) rotate(-90)">SgunchH4</text><text transform="translate(482.28 616.20) rotate(-90)">SgunchH5</text><text transform="translate(506.63 616.20) rotate(-90)">SGRE-THOX-CRD-1</text><text transform="translate(530.98 616.20) rotate(-90)">SGRE-THOX-CRD-3</text><text transform="translate(555.33 616.20) rotate(-90)">SGRE-THOX-CRD-4</text><text transform="translate(579.68 616.20) rotate(-90)">SGRE-THOX-CRD-5</text><text transform="translate(604.03 616.20) rotate(-90)">SGRE-THOX-CRD-6</text><text transform="translate(628.38 616.20) rotate(-90)">SggfpT1</text><text transform="translate(652.73 616.20) rotate(-90)">SggfpT2</text><text transform="translate(677.08 616.20) rotate(-90)">SggfpT3</text><text transform="translate(701.43 616.20) rotate(-90)">SggfpT4</text><text transform="translate(725.78 616.20) rotate(-90)">SggfpT5</text><text transform="translate(750.13 616.20) rotate(-90)">SgunchT1</text><text transform="translate(774.48 616.20) rotate(-90)">SgunchT2</text><text transform="translate(798.83 616.20) rotate(-90)">SgunchT3</text><text transform="translate(823.18 616.20) rotate(-90)">SgunchT4</text><text transform="translate(847.53 616.20) rotate(-90)">SgunchT5</text></g>
<defs><linearGradient id="lg" x1="0" y1="0" x2="0" y2="1"><stop offset="0.0000" stop-color="#f00"/><stop offset="0.0167" stop-color="#f00"/><stop offset="0.0333" stop-color="#f00"/><stop offset="0.0500" stop-color="#f00"/><stop offset="0.0667" stop-color="#f00"/><stop offset="0.0833" stop-color="#f00"/><stop offset="0.1000" stop-color="#ff0902"/><stop offset="0.1167" stop-color="#ff2712"/><stop offset="0.1333" stop-color="#ff381d"/><stop offset="0.1500" stop-color="#ff4528"/><stop offset="0.1667" stop-color="#ff5131"/><stop offset="0.1833" stop-color="#ff5b3b"/><stop offset="0.2000" stop-color="#ff6544"/><stop offset="0.2167" stop-color="#ff6e4d"/><stop offset="0.2333" stop-color="#ff7656"/><stop offset="0.2500" stop-color="#ff7f5f"/><stop offset="0.2667" stop-color="#ff8768"/><stop offset="0.2833" stop-color="#ff8f71"/><stop offset="0.3000" stop-color="#ff977b"/><stop offset="0.3167" stop-color="#ff9e84"/><stop offset="0.3333" stop-color="#ffa68d"/><stop offset="0.3500" stop-color="#ffad97"/><stop offset="0.3667" stop-color="#ffb5a0"/><stop offset="0.3833" stop-color="#ffbcaa"/><stop offset="0.4000" stop-color="#ffc3b3"/><stop offset="0.4167" stop-color="#ffcabd"/><stop offset="0.4333" stop-color="#fcd2c7"/><stop offset="0.4500" stop-color="#f9d9d0"/><stop offset="0.4667" stop-color="#f6e0da"/><stop offset="0.4833" stop-color="#f2e7e4"/><stop offset="0.5000" stop-color="#eee"/><stop offset="0.5167" stop-color="#e9e5ef"/><stop offset="0.5333" stop-color="#e4dcf1"/><stop offset="0.5500" stop-color="#dfd3f2"/><stop offset="0.5667" stop-color="#dacaf3"/><stop offset="0.5833" stop-color="#d5c1f4"/><stop offset="0.6000" stop-color="#d0b8f5"/><stop offset="0.6167" stop-color="#cab0f6"/><stop offset="0.6333" stop-color="#c4a7f7"/><stop offset="0.6500" stop-color="#be9ef7"/><stop offset="0.6667" stop-color="#b895f8"/><stop offset="0.6833" stop-color="#b28df9"/><stop offset="0.7000" stop-color="#ab84fa"/><stop offset="0.7167" stop-color="#a47bfa"/><stop offset="0.7333" stop-color="#9c72fb"/><stop offset="0.7500" stop-color="#956afb"/><stop offset="0.7667" stop-color="#8d61fc"/><stop offset="0.7833" stop-color="#8458fc"/><stop offset="0.8000" stop-color="#7a4ffd"/><stop offset="0.8167" stop-color="#7045fd"/><stop offset="0.8333" stop-color="#653bfe"/><stop offset="0.8500" stop-color="#5831fe"/><stop offset="0.8667" stop-color="#4826fe"/><stop offset="0.8833" stop-color="#3418ff"/><stop offset="0.9000" stop-color="#0d03ff"/><stop offset="0.9167" stop-color="#00f"/><stop offset="0.9333" stop-color="#00f"/><stop offset="0.9500" stop-color="#00f"/><stop offset="0.9667" stop-color="#00f"/><stop offset="0.9833" stop-color="#00f"/><stop offset="1.0000" stop-color="#00f"/></linearGradient></defs><rect x="1037.0" y="247.2" width="32.3" height="161.3" fill="url(#lg)"/><path d="M1037.0 253.6h8M1069.3 253.6h-8" stroke="#fff" stroke-width="2"/><path d="M1037.0 290.7h8M1069.3 290.7h-8" stroke="#fff" stroke-width="2"/><path d="M1037.0 327.8h8M1069.3 327.8h-8" stroke="#fff" stroke-width="2"/><path d="M1037.0 364.9h8M1069.3 364.9h-8" stroke="#fff" stroke-width="2"/><path d="M1037.0 402.0h8M1069.3 402.0h-8" stroke="#fff" stroke-width="2"/><g class="t" fill="#000"><text x="1037.0" y="233.7" font-size="26.67" font-weight="bold" textLength="287.3" lengthAdjust="spacingAndGlyphs">Z-Transformed Counts</text><text x="1075.3" y="263.0" font-size="26.67">4</text><text x="1075.3" y="300.1" font-size="26.67">2</text><text x="1075.3" y="337.2" font-size="26.67">0</text><text x="1075.3" y="374.3" font-size="26.67">-2</text><text x="1075.3" y="411.4" font-size="26.67">-4</text></g>
</svg>
</body></html>
